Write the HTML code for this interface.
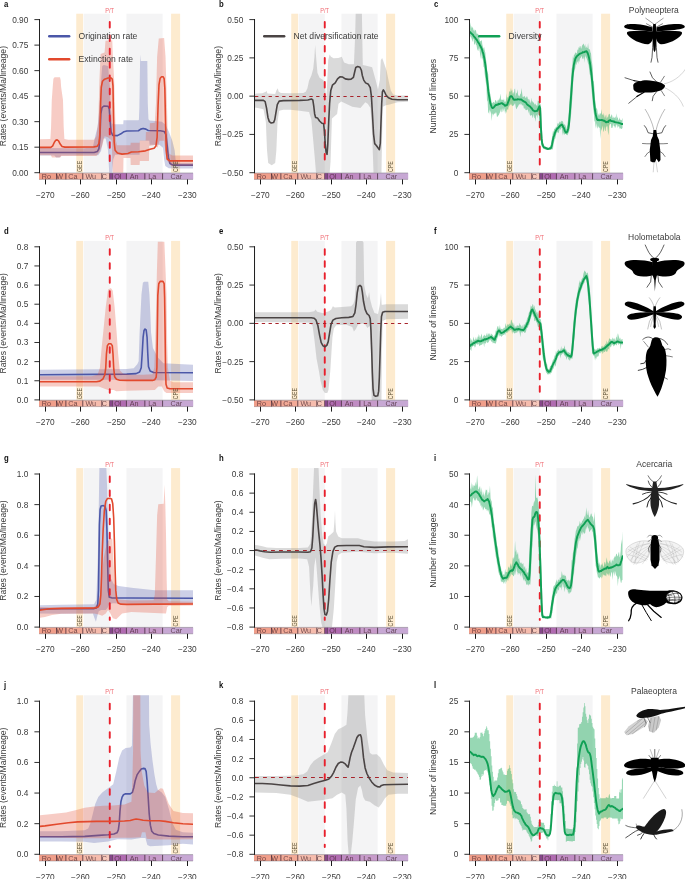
<!DOCTYPE html>
<html><head><meta charset="utf-8"><title>Figure</title>
<style>html,body{margin:0;padding:0;background:#fff;}body{width:685px;height:879px;overflow:hidden;font-family:"Liberation Sans",sans-serif;}svg{display:block;will-change:transform;}text{font-family:"Liberation Sans",sans-serif;}</style>
</head><body>
<svg width="685" height="879" viewBox="0 0 685 879" font-family="Liberation Sans, sans-serif">
<rect width="685" height="879" fill="#fff"/>
<g>
<rect x="76.26" y="13.7" width="6.84" height="159" fill="#fdebcf"/>
<rect x="83.71" y="13.7" width="26.06" height="159" fill="#f4f4f5"/>
<rect x="126.43" y="13.7" width="36.16" height="159" fill="#f4f4f5"/>
<rect x="171.09" y="13.7" width="9.04" height="159" fill="#fdebcf"/>
<clipPath id="clip_a"><rect x="40" y="13.7" width="153" height="159"/></clipPath>
<g clip-path="url(#clip_a)">
<path d="M38 148.04 L84.72 148.28 L92.89 147.11 L95.23 136.13 L97.56 126.79 L99.2 110.44 L100.6 87.08 L102.23 66.06 L103.87 64.89 L108.07 66.06 L109.94 87.08 L110.88 108.1 L112.28 123.75 L115.08 124.22 L123.26 124.22 L123.49 120.25 L138.44 120.25 L138.91 119.78 L139.37 108.1 L140.07 60.92 L140.31 54.38 L140.77 60.92 L147.31 60.92 L147.78 103.43 L148.48 119.31 L149.65 120.48 L154.79 120.95 L161.8 121.65 L165.3 124.45 L168.8 131.46 L172.31 140.8 L174.64 150.15 L175.81 161.82 L178.15 162.99 L198 162.99 L198 168.6 L175.81 168.6 L168.8 168.36 L165.3 166.03 L164.13 159.49 L162.96 147.81 L159.46 144.77 L149.65 144.77 L149.18 140.8 L139.84 140.8 L139.61 154.82 L115.08 154.82 L113.21 159.49 L112.28 173.5 L109.24 173.5 L108.07 150.15 L105.74 138.47 L103.4 138.47 L101.07 151.08 L98.26 155.28 L61.36 155.52 L59.49 157.39 L56.22 157.39 L54.35 155.52 L38 155.52Z" fill="#4b57a8" fill-opacity="0.28"/>
<path d="M38 152.48 L94.06 152.48 L97.33 151.55 L98.96 148.51 L99.9 137.3 L100.83 113.94 L102 107.64 L103.87 106 L108.07 106.23 L109.24 109.04 L110.18 122.12 L111.11 131.93 L112.74 135.43 L117.42 135.66 L120.92 133.8 L123.96 131.69 L126.76 130.99 L138.44 130.76 L140.77 129.12 L143.11 128.42 L145.91 129.12 L148.25 130.53 L160.39 130.76 L164.13 131.46 L166 134.73 L167.17 145.47 L168.34 157.15 L169.97 163.46 L173.01 165.09 L198 165.09" fill="none" stroke="#4b57a8" stroke-width="1.6" stroke-linejoin="round" stroke-linecap="round"/>
<path d="M38 139.17 L50.38 138.93 L51.08 126.79 L51.78 99.93 L52.95 84.04 L53.42 78.67 L54.58 77.27 L59.96 77.27 L60.66 80.07 L61.12 87.08 L62.99 99.93 L63.69 126.79 L64.39 138.93 L68.36 139.64 L94.06 139.87 L96.39 136.13 L98.26 122.12 L99.43 80.07 L100.6 53.91 L104.57 52.51 L105.5 40.83 L112.28 40.36 L112.74 52.51 L114.15 80.07 L115.31 119.78 L116.01 140.8 L116.95 145.24 L130.5 145.24 L130.73 142.67 L139.61 142.67 L139.84 140.57 L145.68 140.57 L145.91 131.93 L149.65 131.93 L149.88 123.28 L154.79 122.82 L155.96 103.43 L157.12 56.72 L158.76 38.5 L164.13 38.03 L165.53 56.72 L166.93 103.43 L167.87 140.8 L169.27 153.65 L172.31 155.52 L198 155.52 L198 166.03 L171.14 166.03 L168.8 162.99 L166.47 159.49 L165.3 150.15 L164.13 140.8 L159.46 140.8 L157.59 147.81 L155.96 144.77 L149.18 145.94 L148.95 161.12 L139.84 161.12 L139.61 165.09 L130.73 165.09 L130.5 158.09 L123.49 158.09 L123.26 173.5 L112.74 173.5 L112.28 159.49 L111.81 140.8 L108.07 137.3 L104.57 136.13 L102.23 145.47 L99.2 152.48 L96.39 155.99 L61.36 155.99 L60.19 157.62 L52.01 157.62 L50.85 155.28 L38 155.28Z" fill="#e2492d" fill-opacity="0.28"/>
</g>
<line x1="109.76" y1="22" x2="109.76" y2="165.5" stroke="#e8202c" stroke-width="1.9" stroke-linecap="round" stroke-dasharray="5.6 7.75"/>
<g clip-path="url(#clip_a)">
<path d="M38 147.34 L50.85 147.34 L52.72 145.94 L54.35 142.2 L55.75 140.34 L57.15 139.87 L58.55 140.8 L60.19 144.07 L62.06 146.41 L64.86 147.11 L94.06 146.88 L97.33 146.18 L98.96 143.61 L99.9 133.8 L100.6 103.43 L101.3 87.08 L102.47 81.24 L104.57 79.14 L108.07 77.97 L110.88 77.74 L112.28 79.14 L112.98 85.91 L113.45 115.11 L114.15 141.97 L115.08 150.15 L117.42 152.95 L122.09 154.12 L127.93 153.42 L131.43 152.01 L138.44 151.78 L145.45 150.85 L150.12 149.21 L154.09 148.28 L155.96 145.94 L157.12 137.3 L158.06 105.77 L158.99 84.74 L160.16 78.2 L161.56 76.8 L163.2 76.8 L164.13 78.67 L164.83 88.25 L165.53 122.12 L166.23 150.15 L167.17 159.02 L169.74 160.89 L198 160.89" fill="none" stroke="#e2492d" stroke-width="1.6" stroke-linejoin="round" stroke-linecap="round"/>
</g>
<g clip-path="url(#clip_a)">
</g>
<text transform="translate(109.56 12.8) scale(1 1.18)" font-size="5.7" fill="#f06a72" text-anchor="middle">P/T</text>
<text transform="translate(81.75 172) rotate(-90) scale(1 1.2)" font-size="5.3" fill="#5e5238" text-anchor="start">GEE</text>
<text transform="translate(178 172) rotate(-90) scale(1 1.2)" font-size="5.3" fill="#5e5238" text-anchor="start">CPE</text>
<rect x="39" y="173.1" width="17.79" height="6.3" fill="#f09e8a"/>
<rect x="56.59" y="173.1" width="9.49" height="6.3" fill="#f0a08c"/>
<rect x="65.88" y="173.1" width="17.11" height="6.3" fill="#f3aa97"/>
<rect x="82.79" y="173.1" width="19.24" height="6.3" fill="#f6bcad"/>
<rect x="101.82" y="173.1" width="8.14" height="6.3" fill="#f8c9bc"/>
<rect x="109.76" y="173.1" width="2.68" height="6.3" fill="#98529f"/>
<rect x="112.25" y="173.1" width="14.38" height="6.3" fill="#b06bb1"/>
<rect x="126.43" y="173.1" width="18.63" height="6.3" fill="#c08cc3"/>
<rect x="144.86" y="173.1" width="17.93" height="6.3" fill="#c79bca"/>
<rect x="162.59" y="173.1" width="30.61" height="6.3" fill="#c7a8d4"/>
<text x="46.29" y="178.9" font-size="7.2" fill="#3a1c24" fill-opacity="0.72" text-anchor="middle">Ro</text>
<line x1="56.59" y1="173.3" x2="56.59" y2="179.4" stroke="#3a2030" stroke-opacity="0.88" stroke-width="0.85"/>
<text x="59.73" y="178.9" font-size="7.2" fill="#3a1c24" fill-opacity="0.72" text-anchor="middle">W</text>
<line x1="65.88" y1="173.3" x2="65.88" y2="179.4" stroke="#3a2030" stroke-opacity="0.88" stroke-width="0.85"/>
<text x="72.83" y="178.9" font-size="7.2" fill="#3a1c24" fill-opacity="0.72" text-anchor="middle">Ca</text>
<line x1="82.79" y1="173.3" x2="82.79" y2="179.4" stroke="#3a2030" stroke-opacity="0.88" stroke-width="0.85"/>
<text x="90.81" y="178.9" font-size="7.2" fill="#3a1c24" fill-opacity="0.72" text-anchor="middle">Wu</text>
<line x1="101.82" y1="173.3" x2="101.82" y2="179.4" stroke="#3a2030" stroke-opacity="0.88" stroke-width="0.85"/>
<text x="104.29" y="178.9" font-size="7.2" fill="#3a1c24" fill-opacity="0.72" text-anchor="middle">C</text>
<line x1="109.76" y1="173.3" x2="109.76" y2="179.4" stroke="#3a2030" stroke-opacity="0.88" stroke-width="0.85"/>
<line x1="112.25" y1="173.3" x2="112.25" y2="179.4" stroke="#3a2030" stroke-opacity="0.88" stroke-width="0.85"/>
<text x="117.84" y="178.9" font-size="7.2" fill="#3a1c24" fill-opacity="0.72" text-anchor="middle">Ol</text>
<line x1="126.43" y1="173.3" x2="126.43" y2="179.4" stroke="#3a2030" stroke-opacity="0.88" stroke-width="0.85"/>
<text x="134.14" y="178.9" font-size="7.2" fill="#3a1c24" fill-opacity="0.72" text-anchor="middle">An</text>
<line x1="144.86" y1="173.3" x2="144.86" y2="179.4" stroke="#3a2030" stroke-opacity="0.88" stroke-width="0.85"/>
<text x="152.22" y="178.9" font-size="7.2" fill="#3a1c24" fill-opacity="0.72" text-anchor="middle">La</text>
<line x1="162.59" y1="173.3" x2="162.59" y2="179.4" stroke="#3a2030" stroke-opacity="0.88" stroke-width="0.85"/>
<text x="176.29" y="178.9" font-size="7.2" fill="#3a1c24" fill-opacity="0.72" text-anchor="middle">Car</text>
<line x1="40" y1="173" x2="193" y2="173" stroke="#5a5560" stroke-opacity="0.7" stroke-width="0.6"/>
<line x1="39" y1="179.4" x2="193" y2="179.4" stroke="#5a5560" stroke-opacity="0.6" stroke-width="0.6"/>
<line x1="39.5" y1="19.1" x2="39.5" y2="173.2" stroke="#222" stroke-width="1.05"/>
<line x1="34.4" y1="172.7" x2="40" y2="172.7" stroke="#1a1a1a" stroke-width="0.9"/>
<text x="28.3" y="175.7" font-size="8.3" fill="#3a3a3a" text-anchor="end">0.00</text>
<line x1="34.4" y1="147.18" x2="40" y2="147.18" stroke="#1a1a1a" stroke-width="0.9"/>
<text x="28.3" y="150.18" font-size="8.3" fill="#3a3a3a" text-anchor="end">0.15</text>
<line x1="34.4" y1="121.67" x2="40" y2="121.67" stroke="#1a1a1a" stroke-width="0.9"/>
<text x="28.3" y="124.67" font-size="8.3" fill="#3a3a3a" text-anchor="end">0.30</text>
<line x1="34.4" y1="96.15" x2="40" y2="96.15" stroke="#1a1a1a" stroke-width="0.9"/>
<text x="28.3" y="99.15" font-size="8.3" fill="#3a3a3a" text-anchor="end">0.45</text>
<line x1="34.4" y1="70.63" x2="40" y2="70.63" stroke="#1a1a1a" stroke-width="0.9"/>
<text x="28.3" y="73.63" font-size="8.3" fill="#3a3a3a" text-anchor="end">0.60</text>
<line x1="34.4" y1="45.12" x2="40" y2="45.12" stroke="#1a1a1a" stroke-width="0.9"/>
<text x="28.3" y="48.12" font-size="8.3" fill="#3a3a3a" text-anchor="end">0.75</text>
<line x1="34.4" y1="19.6" x2="40" y2="19.6" stroke="#1a1a1a" stroke-width="0.9"/>
<text x="28.3" y="22.6" font-size="8.3" fill="#3a3a3a" text-anchor="end">0.90</text>
<line x1="45.5" y1="179.4" x2="45.5" y2="184.4" stroke="#1a1a1a" stroke-width="1"/>
<text x="45.3" y="197.9" font-size="8.3" fill="#3a3a3a" text-anchor="middle">−270</text>
<line x1="80.5" y1="179.4" x2="80.5" y2="184.4" stroke="#1a1a1a" stroke-width="1"/>
<text x="80.3" y="197.9" font-size="8.3" fill="#3a3a3a" text-anchor="middle">−260</text>
<line x1="116.5" y1="179.4" x2="116.5" y2="184.4" stroke="#1a1a1a" stroke-width="1"/>
<text x="116.3" y="197.9" font-size="8.3" fill="#3a3a3a" text-anchor="middle">−250</text>
<line x1="151.5" y1="179.4" x2="151.5" y2="184.4" stroke="#1a1a1a" stroke-width="1"/>
<text x="151.3" y="197.9" font-size="8.3" fill="#3a3a3a" text-anchor="middle">−240</text>
<line x1="187.5" y1="179.4" x2="187.5" y2="184.4" stroke="#1a1a1a" stroke-width="1"/>
<text x="187.3" y="197.9" font-size="8.3" fill="#3a3a3a" text-anchor="middle">−230</text>
<text transform="translate(6.2 96.15) rotate(-90)" font-size="8.6" fill="#3a3a3a" text-anchor="middle">Rates (events/Ma/lineage)</text>
<text transform="translate(4 6.8) scale(0.88 1)" font-size="8.8" font-weight="bold" fill="#111">a</text>
<line x1="49.2" y1="36.3" x2="69.2" y2="36.3" stroke="#4b57a8" stroke-width="2.4" stroke-linecap="round"/>
<text x="78.6" y="39.4" font-size="8.6" fill="#3a3a3a">Origination rate</text>
<line x1="49.2" y1="59.2" x2="69.2" y2="59.2" stroke="#e2492d" stroke-width="2.4" stroke-linecap="round"/>
<text x="78.6" y="62.3" font-size="8.6" fill="#3a3a3a">Extinction rate</text>
</g>
<g>
<rect x="291.26" y="13.7" width="6.84" height="159" fill="#fdebcf"/>
<rect x="298.71" y="13.7" width="26.06" height="159" fill="#f4f4f5"/>
<rect x="341.43" y="13.7" width="36.16" height="159" fill="#f4f4f5"/>
<rect x="386.09" y="13.7" width="9.04" height="159" fill="#fdebcf"/>
<clipPath id="clip_b"><rect x="255" y="13.7" width="153" height="159"/></clipPath>
<g clip-path="url(#clip_b)">
<path d="M253 94.55 L256.5 93.62 L262.34 93.15 L265.85 91.75 L266.55 90.82 L267.48 93.62 L275.19 94.09 L276.36 90.58 L277.76 88.25 L278.69 91.75 L281.03 92.92 L291.54 93.15 L303.22 92.92 L305.79 91.75 L307.42 88.25 L309.06 80.54 L311.39 75.4 L313.26 68.39 L314.43 56.72 L315.13 45.04 L316.07 56.72 L317.47 73.07 L319.57 77.74 L323.07 80.07 L324.47 82.41 L325.41 89.42 L326.34 98.76 L327.28 80.07 L328.21 60.22 L329.61 54.38 L331.01 56.72 L333.58 58.35 L338.26 57.88 L341.76 56.72 L344.09 62.55 L348.77 64.19 L353.91 64.19 L355.07 38.03 L355.77 10 L361.85 10 L362.31 38.03 L362.78 64.89 L367.45 66.06 L372.12 67.23 L375.63 80.07 L377.96 89.42 L379.83 80.07 L380.77 60.22 L382.17 57.88 L383.8 62.55 L386.61 70.73 L388.47 80.07 L390.81 90.58 L393.15 94.55 L397.82 95.49 L413 95.49 L413 101.56 L397.58 102.26 L389.64 104.6 L385.91 105.3 L382.87 106.7 L382.17 132.86 L381.47 173.5 L373.53 173.5 L372.12 132.86 L370.49 108.1 L367.69 103.66 L365.35 102.26 L360.45 108.1 L352.27 106.7 L341.29 101.56 L338.49 103.66 L337.09 113.94 L331.95 118.38 L330.55 161.82 L329.61 173.5 L316.07 173.5 L314.9 159.49 L313.26 140.8 L311.39 119.78 L309.06 112.07 L299.72 110.67 L290.37 109.74 L283.36 109.74 L279.16 110.67 L277.53 122.12 L276.36 150.15 L275.19 162.99 L271.69 165.33 L268.18 162.99 L267.01 150.15 L265.85 122.12 L263.51 109.27 L257.67 108.1 L253 106.93Z" fill="#8c8c8c" fill-opacity="0.32"/>
</g>
<line x1="324.76" y1="22" x2="324.76" y2="165.5" stroke="#e8202c" stroke-width="1.9" stroke-linecap="round" stroke-dasharray="5.6 6.4"/>
<line x1="255" y1="96.5" x2="408" y2="96.5" stroke="#a8242b" stroke-width="1.05" stroke-dasharray="3.3 3.5"/>
<g clip-path="url(#clip_b)">
<path d="M253 100.39 L263.51 100.39 L265.15 101.56 L266.55 108.1 L267.95 117.45 L269.35 121.65 L271.22 123.05 L273.55 122.58 L274.72 119.78 L275.89 112.77 L277.29 104.6 L279.16 101.09 L283.36 100.63 L299.72 100.39 L307.89 99.93 L311.39 98.99 L312.8 99.93 L313.73 105.77 L314.66 113.94 L315.6 117.45 L317.47 117.91 L319.57 120.95 L321.91 123.28 L323.54 123.52 L324.47 131.46 L325.18 143.14 L326.11 152.48 L327.04 154.35 L327.74 145.47 L328.68 122.12 L329.61 103.43 L330.78 90.58 L332.42 85.21 L335.22 82.88 L337.55 78.91 L339.89 76.8 L342.69 77.04 L345.26 78.91 L348.3 79.37 L351.1 79.14 L353.44 77.27 L354.84 71.2 L355.77 67.46 L357.64 66.53 L359.98 67.23 L361.38 70.26 L362.31 75.4 L363.72 80.07 L365.58 82.88 L368.39 84.28 L370.26 87.55 L371.42 96.42 L372.36 112.77 L373.53 133.8 L374.69 143.61 L376.33 145.47 L377.96 147.81 L379.36 149.68 L380.3 143.14 L381 122.12 L381.7 103.43 L382.4 91.75 L383.34 89.88 L384.5 91.75 L386.14 95.26 L388.47 97.82 L391.98 99.23 L397.82 99.69 L413 99.69" fill="none" stroke="#4a4444" stroke-width="1.6" stroke-linejoin="round" stroke-linecap="round"/>
</g>
<text transform="translate(324.56 12.8) scale(1 1.18)" font-size="5.7" fill="#f06a72" text-anchor="middle">P/T</text>
<text transform="translate(296.75 172) rotate(-90) scale(1 1.2)" font-size="5.3" fill="#5e5238" text-anchor="start">GEE</text>
<text transform="translate(393 172) rotate(-90) scale(1 1.2)" font-size="5.3" fill="#5e5238" text-anchor="start">CPE</text>
<rect x="254" y="173.1" width="17.79" height="6.3" fill="#f09e8a"/>
<rect x="271.59" y="173.1" width="9.49" height="6.3" fill="#f0a08c"/>
<rect x="280.88" y="173.1" width="17.11" height="6.3" fill="#f3aa97"/>
<rect x="297.79" y="173.1" width="19.24" height="6.3" fill="#f6bcad"/>
<rect x="316.82" y="173.1" width="8.14" height="6.3" fill="#f8c9bc"/>
<rect x="324.76" y="173.1" width="2.68" height="6.3" fill="#98529f"/>
<rect x="327.25" y="173.1" width="14.38" height="6.3" fill="#b06bb1"/>
<rect x="341.43" y="173.1" width="18.63" height="6.3" fill="#c08cc3"/>
<rect x="359.86" y="173.1" width="17.93" height="6.3" fill="#c79bca"/>
<rect x="377.59" y="173.1" width="30.61" height="6.3" fill="#c7a8d4"/>
<text x="261.29" y="178.9" font-size="7.2" fill="#3a1c24" fill-opacity="0.72" text-anchor="middle">Ro</text>
<line x1="271.59" y1="173.3" x2="271.59" y2="179.4" stroke="#3a2030" stroke-opacity="0.88" stroke-width="0.85"/>
<text x="274.73" y="178.9" font-size="7.2" fill="#3a1c24" fill-opacity="0.72" text-anchor="middle">W</text>
<line x1="280.88" y1="173.3" x2="280.88" y2="179.4" stroke="#3a2030" stroke-opacity="0.88" stroke-width="0.85"/>
<text x="287.83" y="178.9" font-size="7.2" fill="#3a1c24" fill-opacity="0.72" text-anchor="middle">Ca</text>
<line x1="297.79" y1="173.3" x2="297.79" y2="179.4" stroke="#3a2030" stroke-opacity="0.88" stroke-width="0.85"/>
<text x="305.81" y="178.9" font-size="7.2" fill="#3a1c24" fill-opacity="0.72" text-anchor="middle">Wu</text>
<line x1="316.82" y1="173.3" x2="316.82" y2="179.4" stroke="#3a2030" stroke-opacity="0.88" stroke-width="0.85"/>
<text x="319.29" y="178.9" font-size="7.2" fill="#3a1c24" fill-opacity="0.72" text-anchor="middle">C</text>
<line x1="324.76" y1="173.3" x2="324.76" y2="179.4" stroke="#3a2030" stroke-opacity="0.88" stroke-width="0.85"/>
<line x1="327.25" y1="173.3" x2="327.25" y2="179.4" stroke="#3a2030" stroke-opacity="0.88" stroke-width="0.85"/>
<text x="332.84" y="178.9" font-size="7.2" fill="#3a1c24" fill-opacity="0.72" text-anchor="middle">Ol</text>
<line x1="341.43" y1="173.3" x2="341.43" y2="179.4" stroke="#3a2030" stroke-opacity="0.88" stroke-width="0.85"/>
<text x="349.14" y="178.9" font-size="7.2" fill="#3a1c24" fill-opacity="0.72" text-anchor="middle">An</text>
<line x1="359.86" y1="173.3" x2="359.86" y2="179.4" stroke="#3a2030" stroke-opacity="0.88" stroke-width="0.85"/>
<text x="367.22" y="178.9" font-size="7.2" fill="#3a1c24" fill-opacity="0.72" text-anchor="middle">La</text>
<line x1="377.59" y1="173.3" x2="377.59" y2="179.4" stroke="#3a2030" stroke-opacity="0.88" stroke-width="0.85"/>
<text x="391.29" y="178.9" font-size="7.2" fill="#3a1c24" fill-opacity="0.72" text-anchor="middle">Car</text>
<line x1="255" y1="173" x2="408" y2="173" stroke="#5a5560" stroke-opacity="0.7" stroke-width="0.6"/>
<line x1="254" y1="179.4" x2="408" y2="179.4" stroke="#5a5560" stroke-opacity="0.6" stroke-width="0.6"/>
<line x1="254.5" y1="19.1" x2="254.5" y2="173.2" stroke="#222" stroke-width="1.05"/>
<line x1="249.4" y1="172.7" x2="255" y2="172.7" stroke="#1a1a1a" stroke-width="0.9"/>
<text x="243.3" y="175.7" font-size="8.3" fill="#3a3a3a" text-anchor="end">−0.50</text>
<line x1="249.4" y1="134.42" x2="255" y2="134.42" stroke="#1a1a1a" stroke-width="0.9"/>
<text x="243.3" y="137.42" font-size="8.3" fill="#3a3a3a" text-anchor="end">−0.25</text>
<line x1="249.4" y1="96.15" x2="255" y2="96.15" stroke="#1a1a1a" stroke-width="0.9"/>
<text x="243.3" y="99.15" font-size="8.3" fill="#3a3a3a" text-anchor="end">0.00</text>
<line x1="249.4" y1="57.88" x2="255" y2="57.88" stroke="#1a1a1a" stroke-width="0.9"/>
<text x="243.3" y="60.88" font-size="8.3" fill="#3a3a3a" text-anchor="end">0.25</text>
<line x1="249.4" y1="19.6" x2="255" y2="19.6" stroke="#1a1a1a" stroke-width="0.9"/>
<text x="243.3" y="22.6" font-size="8.3" fill="#3a3a3a" text-anchor="end">0.50</text>
<line x1="260.5" y1="179.4" x2="260.5" y2="184.4" stroke="#1a1a1a" stroke-width="1"/>
<text x="260.3" y="197.9" font-size="8.3" fill="#3a3a3a" text-anchor="middle">−270</text>
<line x1="295.5" y1="179.4" x2="295.5" y2="184.4" stroke="#1a1a1a" stroke-width="1"/>
<text x="295.3" y="197.9" font-size="8.3" fill="#3a3a3a" text-anchor="middle">−260</text>
<line x1="331.5" y1="179.4" x2="331.5" y2="184.4" stroke="#1a1a1a" stroke-width="1"/>
<text x="331.3" y="197.9" font-size="8.3" fill="#3a3a3a" text-anchor="middle">−250</text>
<line x1="366.5" y1="179.4" x2="366.5" y2="184.4" stroke="#1a1a1a" stroke-width="1"/>
<text x="366.3" y="197.9" font-size="8.3" fill="#3a3a3a" text-anchor="middle">−240</text>
<line x1="402.5" y1="179.4" x2="402.5" y2="184.4" stroke="#1a1a1a" stroke-width="1"/>
<text x="402.3" y="197.9" font-size="8.3" fill="#3a3a3a" text-anchor="middle">−230</text>
<text transform="translate(221.2 96.15) rotate(-90)" font-size="8.6" fill="#3a3a3a" text-anchor="middle">Rates (events/Ma/lineage)</text>
<text transform="translate(219 6.8) scale(0.88 1)" font-size="8.8" font-weight="bold" fill="#111">b</text>
<line x1="264.2" y1="36.3" x2="284.2" y2="36.3" stroke="#4a4444" stroke-width="2.4" stroke-linecap="round"/>
<text x="293.6" y="39.4" font-size="8.6" fill="#3a3a3a">Net diversification rate</text>
</g>
<g>
<rect x="506.26" y="13.7" width="6.84" height="159" fill="#fdebcf"/>
<rect x="513.71" y="13.7" width="26.06" height="159" fill="#f4f4f5"/>
<rect x="556.43" y="13.7" width="36.16" height="159" fill="#f4f4f5"/>
<rect x="601.09" y="13.7" width="9.04" height="159" fill="#fdebcf"/>
<clipPath id="clip_c"><rect x="470" y="13.7" width="153" height="159"/></clipPath>
<g clip-path="url(#clip_c)">
<path d="M470.1 28.53 L470.69 22.29 L471.27 28.64 L471.85 25.92 L472.44 27.56 L473.02 28.05 L473.61 30.78 L474.19 29.2 L474.77 31.72 L475.36 29.84 L475.94 30.14 L476.53 33.51 L477.11 34 L477.69 33.45 L478.28 34.34 L478.86 36.02 L479.45 39.17 L480.03 41.19 L480.61 41.17 L481.2 40.57 L481.78 40.26 L482.36 44.69 L482.95 46.75 L483.53 49.1 L484.12 47.11 L484.7 50.37 L485.28 52.39 L485.87 59.08 L486.45 62.31 L487.04 69.23 L487.62 72.05 L488.2 74.19 L488.79 82.65 L489.37 88.25 L489.96 92.88 L490.54 94.88 L491.12 99.41 L491.71 102.53 L492.29 103.47 L492.88 102.58 L493.46 101.79 L494.04 102.39 L494.63 102.98 L495.21 100.28 L495.8 100.06 L496.38 101.28 L496.96 102.7 L497.55 100.7 L498.13 99.17 L498.72 100.77 L499.3 99.23 L499.88 97.67 L500.47 93.48 L501.05 100.43 L501.64 99.28 L502.22 100.05 L502.8 99.52 L503.39 100.62 L503.97 98.16 L504.55 102.31 L505.14 100.99 L505.72 102.62 L506.31 93.26 L506.89 99.57 L507.47 96.91 L508.06 97.5 L508.64 95.95 L509.23 90.99 L509.81 91.78 L510.39 91.65 L510.98 87.69 L511.56 91.59 L512.15 89.45 L512.73 94.1 L513.31 91.75 L513.9 94.34 L514.48 89.29 L515.07 88.48 L515.65 96.86 L516.23 92.59 L516.82 93.39 L517.4 89.31 L517.99 94.34 L518.57 95.9 L519.15 95.27 L519.74 96.8 L520.32 93.47 L520.91 93.92 L521.49 88.11 L522.07 92.8 L522.66 96.88 L523.24 96.55 L523.82 96.98 L524.41 95.81 L524.99 96.79 L525.58 98.07 L526.16 97.69 L526.74 96.32 L527.33 96.67 L527.91 99.32 L528.5 98.77 L529.08 101.96 L529.66 98.68 L530.25 101.91 L530.83 103.39 L531.42 97.52 L532 102.85 L532.58 100.76 L533.17 102.57 L533.75 102.43 L534.34 103.89 L534.92 104.76 L535.5 103.26 L536.09 105.68 L536.67 104.96 L537.26 105.96 L537.84 100.53 L538.42 101.24 L539.01 100.96 L539.59 101.99 L540.18 103.83 L540.76 104.88 L541.34 114.35 L541.93 127.79 L542.51 137.65 L543.09 142.67 L543.68 144.06 L544.26 145.75 L544.85 146.82 L545.43 146.47 L546.01 146.99 L546.6 147.12 L547.18 146.75 L547.77 147.46 L548.35 147.55 L548.93 147.37 L549.52 146.82 L550.1 147.4 L550.69 145.08 L551.27 142.47 L551.85 138.61 L552.44 135.26 L553.02 130.54 L553.61 132.51 L554.19 128.77 L554.77 128.73 L555.36 128.24 L555.94 126.78 L556.53 127.15 L557.11 125.16 L557.69 123 L558.28 123.65 L558.86 123.44 L559.45 121.25 L560.03 122.98 L560.61 121.74 L561.2 121.41 L561.78 120.78 L562.36 121.15 L562.95 121.55 L563.53 124.07 L564.12 125.26 L564.7 123.69 L565.28 125.26 L565.87 126.7 L566.45 129.65 L567.04 126.17 L567.62 122.8 L568.2 119.11 L568.79 112.41 L569.37 103.1 L569.96 94.54 L570.54 86.13 L571.12 77.74 L571.71 68.87 L572.29 67.07 L572.88 56.29 L573.46 58.82 L574.04 54.22 L574.63 55.11 L575.21 51.98 L575.8 53.24 L576.38 53.48 L576.96 52.65 L577.55 49.17 L578.13 50.18 L578.72 46.96 L579.3 48.26 L579.88 45.9 L580.47 46.31 L581.05 49.09 L581.64 47.53 L582.22 44.23 L582.8 45.87 L583.39 43.47 L583.97 44.19 L584.55 46.85 L585.14 44.04 L585.72 48.25 L586.31 46.36 L586.89 47.96 L587.47 48 L588.06 42.94 L588.64 48.74 L589.23 49.84 L589.81 48.72 L590.39 52.3 L590.98 53.13 L591.56 60.37 L592.15 63.57 L592.73 69 L593.31 80.56 L593.9 81.51 L594.48 90.61 L595.07 99.69 L595.65 102.62 L596.23 108.92 L596.82 107.85 L597.4 110.61 L597.99 116.09 L598.57 114.26 L599.15 113.11 L599.74 115.78 L600.32 112.83 L600.91 114.27 L601.49 109.06 L602.07 115.37 L602.66 114.03 L603.24 115.69 L603.82 112.68 L604.41 116.65 L604.99 118.02 L605.58 115.85 L606.16 114.55 L606.74 119.06 L607.33 116.16 L607.91 118 L608.5 114.69 L609.08 114 L609.66 113.68 L610.25 116.42 L610.83 117.05 L611.42 114.51 L612 114.76 L612.58 117.7 L613.17 118.17 L613.75 116.44 L614.34 118.03 L614.92 117.6 L615.5 116.28 L616.09 119.6 L616.67 113.31 L617.26 117.48 L617.84 117.75 L618.42 120.46 L619.01 119.68 L619.59 117.34 L620.18 120.33 L620.76 119.59 L621.34 120.62 L621.93 119.73 L622.51 117.79 L622.51 127.69 L621.93 128.65 L621.34 128.95 L620.76 127.98 L620.18 128.79 L619.59 128.54 L619.01 126.11 L618.42 127.07 L617.84 125.01 L617.26 128.36 L616.67 124.82 L616.09 124.44 L615.5 127.42 L614.92 127.67 L614.34 125.95 L613.75 125.93 L613.17 123.53 L612.58 127.41 L612 128.04 L611.42 128.05 L610.83 124 L610.25 123.92 L609.66 124.21 L609.08 125.74 L608.5 135.15 L607.91 132.1 L607.33 125.63 L606.74 127.41 L606.16 125.31 L605.58 131.18 L604.99 130.55 L604.41 125.88 L603.82 132.1 L603.24 130.88 L602.66 125.52 L602.07 127.97 L601.49 131.09 L600.91 127.96 L600.32 139.12 L599.74 128.05 L599.15 127.45 L598.57 127.13 L597.99 125.27 L597.4 128.68 L596.82 127.27 L596.23 123.12 L595.65 128.77 L595.07 120.4 L594.48 121.91 L593.9 113.87 L593.31 109.6 L592.73 103.16 L592.15 96.09 L591.56 90.09 L590.98 82.18 L590.39 75.28 L589.81 74.61 L589.23 70.14 L588.64 64.84 L588.06 63.83 L587.47 60.67 L586.89 59.37 L586.31 57.66 L585.72 57.07 L585.14 55.12 L584.55 62.7 L583.97 56.14 L583.39 58.67 L582.8 59.04 L582.22 58.37 L581.64 55.75 L581.05 57.33 L580.47 58.02 L579.88 58.7 L579.3 61.9 L578.72 60.14 L578.13 63.93 L577.55 61.52 L576.96 61.72 L576.38 65.06 L575.8 63.9 L575.21 68.33 L574.63 70.01 L574.04 72.68 L573.46 78.69 L572.88 86.68 L572.29 98.81 L571.71 105.79 L571.12 114.29 L570.54 118.07 L569.96 124.67 L569.37 130.15 L568.79 132.36 L568.2 133.43 L567.62 135.4 L567.04 134.43 L566.45 134.99 L565.87 133.97 L565.28 133.7 L564.7 134.58 L564.12 134.45 L563.53 132.33 L562.95 135.47 L562.36 132.39 L561.78 127.87 L561.2 127.73 L560.61 130.16 L560.03 128.34 L559.45 129.86 L558.86 132.24 L558.28 133.25 L557.69 132.38 L557.11 132.1 L556.53 133.02 L555.94 135.45 L555.36 138.41 L554.77 138.9 L554.19 141.39 L553.61 143.27 L553.02 148.37 L552.44 149.39 L551.85 149.78 L551.27 148.83 L550.69 149.89 L550.1 150.08 L549.52 149.29 L548.93 149.59 L548.35 149.71 L547.77 149.63 L547.18 149.82 L546.6 149.34 L546.01 149.58 L545.43 149.86 L544.85 149.45 L544.26 148.65 L543.68 148.96 L543.09 148.12 L542.51 147.37 L541.93 146.86 L541.34 145.14 L540.76 140 L540.18 134.4 L539.59 121.61 L539.01 111.91 L538.42 115.39 L537.84 113.9 L537.26 118.42 L536.67 114.71 L536.09 115.63 L535.5 121.68 L534.92 118.18 L534.34 117.78 L533.75 113.81 L533.17 116.79 L532.58 118.17 L532 114.91 L531.42 115.25 L530.83 115.42 L530.25 115.63 L529.66 114.25 L529.08 109.95 L528.5 113.61 L527.91 109.2 L527.33 109.87 L526.74 110.18 L526.16 109.83 L525.58 110.24 L524.99 107.44 L524.41 108.99 L523.82 108.33 L523.24 105.19 L522.66 104.92 L522.07 105.98 L521.49 103.55 L520.91 105.28 L520.32 102.91 L519.74 104.74 L519.15 104.07 L518.57 105.22 L517.99 106.43 L517.4 107.14 L516.82 108.5 L516.23 109.17 L515.65 106.78 L515.07 103 L514.48 104 L513.9 105.16 L513.31 105.5 L512.73 106.21 L512.15 105.62 L511.56 105.15 L510.98 103.13 L510.39 104.88 L509.81 104.81 L509.23 106.37 L508.64 106.6 L508.06 109.91 L507.47 109.24 L506.89 109.42 L506.31 112.91 L505.72 110.83 L505.14 114.07 L504.55 109.53 L503.97 107.77 L503.39 111.77 L502.8 108.06 L502.22 111.88 L501.64 112.3 L501.05 108.41 L500.47 110.96 L499.88 112.47 L499.3 113.79 L498.72 115.26 L498.13 115.54 L497.55 116.81 L496.96 117.03 L496.38 112.69 L495.8 112.21 L495.21 113.63 L494.63 113.78 L494.04 113.21 L493.46 115.77 L492.88 113.29 L492.29 114.84 L491.71 121.05 L491.12 113.4 L490.54 110.46 L489.96 114.54 L489.37 109.34 L488.79 112.43 L488.2 113.53 L487.62 100.3 L487.04 101.75 L486.45 85.66 L485.87 82.41 L485.28 78.36 L484.7 73.97 L484.12 67.57 L483.53 66.75 L482.95 60.19 L482.36 58.02 L481.78 58.8 L481.2 52.36 L480.61 58.9 L480.03 53.4 L479.45 48.5 L478.86 48.22 L478.28 51.06 L477.69 50.19 L477.11 48.87 L476.53 45.33 L475.94 44.71 L475.36 42.09 L474.77 44.83 L474.19 44.36 L473.61 39.24 L473.02 38.68 L472.44 42.08 L471.85 39.38 L471.27 37.46 L470.69 35.93 L470.1 37.87Z" fill="#2fb26a" fill-opacity="0.5"/>
</g>
<line x1="539.76" y1="22" x2="539.76" y2="165.5" stroke="#e8202c" stroke-width="1.9" stroke-linecap="round" stroke-dasharray="5.6 6.85"/>
<g clip-path="url(#clip_c)">
<path d="M470.1 31.94 L470.8 32.92 L471.5 33.46 L472.2 34.14 L472.91 34.75 L473.61 36.03 L474.31 36.92 L475.01 37.57 L475.71 38.62 L476.41 39.47 L477.11 40.34 L477.81 41.67 L478.51 42.88 L479.21 43.68 L479.91 45.46 L480.61 46.29 L481.31 47.84 L482.01 49.4 L482.72 52.03 L483.42 54.17 L484.12 57.23 L484.82 61.24 L485.52 65.94 L486.22 71.77 L486.92 78.2 L487.62 84.22 L488.32 91.16 L489.02 95.62 L489.72 99.67 L490.42 103.39 L491.12 105.49 L491.82 107.49 L492.53 107.99 L493.23 107.83 L493.93 107.23 L494.63 106.46 L495.33 105.36 L496.03 104.77 L496.73 105.11 L497.43 104.35 L498.13 104.48 L498.83 103.77 L499.53 104.06 L500.23 103.73 L500.93 103.45 L501.64 103.28 L502.34 103.26 L503.04 104.07 L503.74 104.26 L504.44 105.05 L505.14 105.84 L505.84 105.19 L506.54 105.21 L507.24 104.65 L507.94 102.66 L508.64 100.99 L509.34 98.96 L510.04 96.81 L510.74 96.21 L511.45 96.11 L512.15 96.93 L512.85 98.14 L513.55 99.44 L514.25 99.78 L514.95 99.55 L515.65 99.69 L516.35 99.6 L517.05 99.62 L517.75 99.1 L518.45 99.34 L519.15 99.41 L519.85 99.57 L520.55 99.35 L521.26 99.45 L521.96 100 L522.66 100.85 L523.36 100.84 L524.06 101.54 L524.76 101.88 L525.46 102.29 L526.16 102.87 L526.86 104.13 L527.56 104.81 L528.26 105.21 L528.96 105.79 L529.66 106.13 L530.36 106.84 L531.07 107.82 L531.77 108.32 L532.47 109.64 L533.17 110.49 L533.87 110.69 L534.57 111.19 L535.27 111.18 L535.97 111.16 L536.67 110.72 L537.37 110.84 L538.07 109.25 L538.77 107.78 L539.47 106.23 L540.18 108.31 L540.88 126.78 L541.58 138.43 L542.28 143.97 L542.98 145.64 L543.68 147.19 L544.38 147.6 L545.08 147.73 L545.78 147.98 L546.48 148.41 L547.18 148.88 L547.88 149 L548.58 148.87 L549.28 148.73 L549.99 148.21 L550.69 148.39 L551.39 146.95 L552.09 144.48 L552.79 140.45 L553.49 137.08 L554.19 135.36 L554.89 133.14 L555.59 131.39 L556.29 130.13 L556.99 128.95 L557.69 128.25 L558.39 127.75 L559.09 126.64 L559.8 126.11 L560.5 125.22 L561.2 125.12 L561.9 124.55 L562.6 125.56 L563.3 127.28 L564 128.18 L564.7 130.36 L565.4 131.76 L566.1 132.5 L566.8 132.3 L567.5 130.89 L568.2 128.76 L568.91 124.8 L569.61 116.35 L570.31 106.89 L571.01 97.05 L571.71 87.24 L572.41 77.38 L573.11 70.69 L573.81 64.7 L574.51 61.97 L575.21 59.23 L575.91 57.6 L576.61 56.69 L577.31 55.74 L578.01 55.31 L578.72 54.54 L579.42 53.99 L580.12 53.58 L580.82 53.31 L581.52 53.14 L582.22 52.74 L582.92 52.08 L583.62 52.29 L584.32 52.09 L585.02 51.66 L585.72 51.33 L586.42 51.21 L587.12 52.02 L587.82 53.47 L588.53 55.74 L589.23 58.81 L589.93 62.71 L590.63 67.63 L591.33 73.21 L592.03 79.93 L592.73 86.74 L593.43 95.17 L594.13 103.29 L594.83 108.99 L595.53 113.79 L596.23 116.63 L596.93 119.35 L597.64 120 L598.34 119.71 L599.04 120.28 L599.74 120.07 L600.44 120.1 L601.14 120.13 L601.84 119.87 L602.54 120.4 L603.24 120.5 L603.94 120.76 L604.64 120.81 L605.34 121.79 L606.04 122.33 L606.74 121.89 L607.45 121.69 L608.15 122.02 L608.85 120.83 L609.55 120.28 L610.25 120.02 L610.95 120.86 L611.65 121.1 L612.35 121.14 L613.05 121.51 L613.75 121.29 L614.45 121.99 L615.15 122.07 L615.85 122.32 L616.55 122.41 L617.26 122.6 L617.96 122.66 L618.66 122.71 L619.36 123.17 L620.06 123.19 L620.76 123.7 L621.46 123.95 L622.16 124.04 L622.63 123.99" fill="none" stroke="#10a055" stroke-width="1.9" stroke-linejoin="round" stroke-linecap="round"/>
</g>
<text transform="translate(539.56 12.8) scale(1 1.18)" font-size="5.7" fill="#f06a72" text-anchor="middle">P/T</text>
<text transform="translate(511.75 172) rotate(-90) scale(1 1.2)" font-size="5.3" fill="#5e5238" text-anchor="start">GEE</text>
<text transform="translate(608 172) rotate(-90) scale(1 1.2)" font-size="5.3" fill="#5e5238" text-anchor="start">CPE</text>
<rect x="469" y="173.1" width="17.79" height="6.3" fill="#f09e8a"/>
<rect x="486.59" y="173.1" width="9.49" height="6.3" fill="#f0a08c"/>
<rect x="495.88" y="173.1" width="17.11" height="6.3" fill="#f3aa97"/>
<rect x="512.79" y="173.1" width="19.24" height="6.3" fill="#f6bcad"/>
<rect x="531.82" y="173.1" width="8.14" height="6.3" fill="#f8c9bc"/>
<rect x="539.76" y="173.1" width="2.68" height="6.3" fill="#98529f"/>
<rect x="542.25" y="173.1" width="14.38" height="6.3" fill="#b06bb1"/>
<rect x="556.43" y="173.1" width="18.63" height="6.3" fill="#c08cc3"/>
<rect x="574.86" y="173.1" width="17.93" height="6.3" fill="#c79bca"/>
<rect x="592.59" y="173.1" width="30.61" height="6.3" fill="#c7a8d4"/>
<text x="476.29" y="178.9" font-size="7.2" fill="#3a1c24" fill-opacity="0.72" text-anchor="middle">Ro</text>
<line x1="486.59" y1="173.3" x2="486.59" y2="179.4" stroke="#3a2030" stroke-opacity="0.88" stroke-width="0.85"/>
<text x="489.73" y="178.9" font-size="7.2" fill="#3a1c24" fill-opacity="0.72" text-anchor="middle">W</text>
<line x1="495.88" y1="173.3" x2="495.88" y2="179.4" stroke="#3a2030" stroke-opacity="0.88" stroke-width="0.85"/>
<text x="502.83" y="178.9" font-size="7.2" fill="#3a1c24" fill-opacity="0.72" text-anchor="middle">Ca</text>
<line x1="512.79" y1="173.3" x2="512.79" y2="179.4" stroke="#3a2030" stroke-opacity="0.88" stroke-width="0.85"/>
<text x="520.81" y="178.9" font-size="7.2" fill="#3a1c24" fill-opacity="0.72" text-anchor="middle">Wu</text>
<line x1="531.82" y1="173.3" x2="531.82" y2="179.4" stroke="#3a2030" stroke-opacity="0.88" stroke-width="0.85"/>
<text x="534.29" y="178.9" font-size="7.2" fill="#3a1c24" fill-opacity="0.72" text-anchor="middle">C</text>
<line x1="539.76" y1="173.3" x2="539.76" y2="179.4" stroke="#3a2030" stroke-opacity="0.88" stroke-width="0.85"/>
<line x1="542.25" y1="173.3" x2="542.25" y2="179.4" stroke="#3a2030" stroke-opacity="0.88" stroke-width="0.85"/>
<text x="547.84" y="178.9" font-size="7.2" fill="#3a1c24" fill-opacity="0.72" text-anchor="middle">Ol</text>
<line x1="556.43" y1="173.3" x2="556.43" y2="179.4" stroke="#3a2030" stroke-opacity="0.88" stroke-width="0.85"/>
<text x="564.14" y="178.9" font-size="7.2" fill="#3a1c24" fill-opacity="0.72" text-anchor="middle">An</text>
<line x1="574.86" y1="173.3" x2="574.86" y2="179.4" stroke="#3a2030" stroke-opacity="0.88" stroke-width="0.85"/>
<text x="582.22" y="178.9" font-size="7.2" fill="#3a1c24" fill-opacity="0.72" text-anchor="middle">La</text>
<line x1="592.59" y1="173.3" x2="592.59" y2="179.4" stroke="#3a2030" stroke-opacity="0.88" stroke-width="0.85"/>
<text x="606.29" y="178.9" font-size="7.2" fill="#3a1c24" fill-opacity="0.72" text-anchor="middle">Car</text>
<line x1="470" y1="173" x2="623" y2="173" stroke="#5a5560" stroke-opacity="0.7" stroke-width="0.6"/>
<line x1="469" y1="179.4" x2="623" y2="179.4" stroke="#5a5560" stroke-opacity="0.6" stroke-width="0.6"/>
<line x1="469.5" y1="19.1" x2="469.5" y2="173.2" stroke="#222" stroke-width="1.05"/>
<line x1="464.4" y1="172.7" x2="470" y2="172.7" stroke="#1a1a1a" stroke-width="0.9"/>
<text x="458.3" y="175.7" font-size="8.3" fill="#3a3a3a" text-anchor="end">0</text>
<line x1="464.4" y1="134.42" x2="470" y2="134.42" stroke="#1a1a1a" stroke-width="0.9"/>
<text x="458.3" y="137.42" font-size="8.3" fill="#3a3a3a" text-anchor="end">25</text>
<line x1="464.4" y1="96.15" x2="470" y2="96.15" stroke="#1a1a1a" stroke-width="0.9"/>
<text x="458.3" y="99.15" font-size="8.3" fill="#3a3a3a" text-anchor="end">50</text>
<line x1="464.4" y1="57.88" x2="470" y2="57.88" stroke="#1a1a1a" stroke-width="0.9"/>
<text x="458.3" y="60.88" font-size="8.3" fill="#3a3a3a" text-anchor="end">75</text>
<line x1="464.4" y1="19.6" x2="470" y2="19.6" stroke="#1a1a1a" stroke-width="0.9"/>
<text x="458.3" y="22.6" font-size="8.3" fill="#3a3a3a" text-anchor="end">100</text>
<line x1="475.5" y1="179.4" x2="475.5" y2="184.4" stroke="#1a1a1a" stroke-width="1"/>
<text x="475.3" y="197.9" font-size="8.3" fill="#3a3a3a" text-anchor="middle">−270</text>
<line x1="510.5" y1="179.4" x2="510.5" y2="184.4" stroke="#1a1a1a" stroke-width="1"/>
<text x="510.3" y="197.9" font-size="8.3" fill="#3a3a3a" text-anchor="middle">−260</text>
<line x1="546.5" y1="179.4" x2="546.5" y2="184.4" stroke="#1a1a1a" stroke-width="1"/>
<text x="546.3" y="197.9" font-size="8.3" fill="#3a3a3a" text-anchor="middle">−250</text>
<line x1="581.5" y1="179.4" x2="581.5" y2="184.4" stroke="#1a1a1a" stroke-width="1"/>
<text x="581.3" y="197.9" font-size="8.3" fill="#3a3a3a" text-anchor="middle">−240</text>
<line x1="617.5" y1="179.4" x2="617.5" y2="184.4" stroke="#1a1a1a" stroke-width="1"/>
<text x="617.3" y="197.9" font-size="8.3" fill="#3a3a3a" text-anchor="middle">−230</text>
<text transform="translate(436.3 96.15) rotate(-90)" font-size="8.6" fill="#3a3a3a" text-anchor="middle">Number of lineages</text>
<text transform="translate(434 6.8) scale(0.88 1)" font-size="8.8" font-weight="bold" fill="#111">c</text>
<line x1="479.2" y1="36.3" x2="499.2" y2="36.3" stroke="#10a055" stroke-width="2.4" stroke-linecap="round"/>
<text x="508.6" y="39.4" font-size="8.6" fill="#3a3a3a">Diversity</text>
</g>
<g>
<rect x="76.26" y="240.9" width="6.84" height="159" fill="#fdebcf"/>
<rect x="83.71" y="240.9" width="26.06" height="159" fill="#f4f4f5"/>
<rect x="126.43" y="240.9" width="36.16" height="159" fill="#f4f4f5"/>
<rect x="171.09" y="240.9" width="9.04" height="159" fill="#fdebcf"/>
<clipPath id="clip_d"><rect x="40" y="240.9" width="153" height="159"/></clipPath>
<g clip-path="url(#clip_d)">
<path d="M38 369.67 L126.76 368.97 L133.77 368.27 L137.27 364.3 L138.67 361.26 L139.61 332.53 L141.47 294.46 L142.88 282.78 L144.04 281.85 L148.25 281.85 L149.42 294.46 L150.35 314.08 L151.05 332.53 L152.92 347.95 L157.82 357.53 L163.43 363.13 L198 365 L198 381.12 L131.43 379.72 L38 379.72Z" fill="#4b57a8" fill-opacity="0.28"/>
<path d="M38 374.69 L126.76 374.11 L136.1 373.64 L139.61 372.01 L141.24 367.8 L142.18 353.79 L143.11 337.44 L144.04 330.43 L144.98 329.03 L146.15 329.96 L147.08 337.44 L147.78 353.79 L148.48 366.64 L150.12 371.07 L153.62 372.47 L198 372.71" fill="none" stroke="#4b57a8" stroke-width="1.6" stroke-linejoin="round" stroke-linecap="round"/>
<path d="M38 376.21 L91.72 376.21 L97.56 374.81 L99.9 367.8 L101.53 349.12 L103.4 330.43 L105.74 307.07 L108.07 289.55 L110.88 287.92 L112.74 290.72 L114.61 307.07 L116.48 330.43 L118.12 353.79 L119.75 370.14 L123.26 373.64 L131.43 374.81 L143.11 374.81 L152.45 374.34 L154.32 367.8 L155.26 342.11 L155.96 313.38 L156.89 272.04 L157.82 241.67 L164.36 241.67 L165.3 265.03 L166.47 294.23 L167.17 342.11 L167.87 367.8 L169.97 380.65 L173.47 382.28 L198 382.28 L198 393.03 L166.47 393.03 L164.13 391.16 L161.8 386.49 L158.29 386.49 L154.79 389.99 L126.76 390.69 L116.25 391.16 L113.91 389.99 L108.07 389.99 L104.57 388.82 L98.73 386.49 L38 386.49Z" fill="#e2492d" fill-opacity="0.28"/>
</g>
<line x1="109.76" y1="249.2" x2="109.76" y2="392.7" stroke="#e8202c" stroke-width="1.9" stroke-linecap="round" stroke-dasharray="5.6 8.4"/>
<g clip-path="url(#clip_d)">
<path d="M38 381.7 L96.39 381.7 L99.9 381.12 L102.93 379.01 L104.8 374.81 L105.74 367.8 L106.44 353.79 L107.37 345.61 L108.77 343.74 L110.88 343.74 L112.28 345.61 L112.98 353.79 L113.68 367.8 L114.61 376.68 L116.48 379.25 L119.75 380.18 L126.76 380.42 L152.45 380.42 L154.79 379.72 L156.19 377.15 L156.89 367.8 L157.36 330.43 L157.82 295.39 L158.76 283.72 L160.16 281.38 L162.96 281.38 L164.13 283.72 L164.6 297.73 L165.07 330.43 L165.53 367.8 L166 384.15 L167.17 387.89 L169.97 388.82 L198 388.82" fill="none" stroke="#e2492d" stroke-width="1.6" stroke-linejoin="round" stroke-linecap="round"/>
</g>
<g clip-path="url(#clip_d)">
</g>
<text transform="translate(109.56 240) scale(1 1.18)" font-size="5.7" fill="#f06a72" text-anchor="middle">P/T</text>
<text transform="translate(81.75 399.2) rotate(-90) scale(1 1.2)" font-size="5.3" fill="#5e5238" text-anchor="start">GEE</text>
<text transform="translate(178 399.2) rotate(-90) scale(1 1.2)" font-size="5.3" fill="#5e5238" text-anchor="start">CPE</text>
<rect x="39" y="400.3" width="17.79" height="6.3" fill="#f09e8a"/>
<rect x="56.59" y="400.3" width="9.49" height="6.3" fill="#f0a08c"/>
<rect x="65.88" y="400.3" width="17.11" height="6.3" fill="#f3aa97"/>
<rect x="82.79" y="400.3" width="19.24" height="6.3" fill="#f6bcad"/>
<rect x="101.82" y="400.3" width="8.14" height="6.3" fill="#f8c9bc"/>
<rect x="109.76" y="400.3" width="2.68" height="6.3" fill="#98529f"/>
<rect x="112.25" y="400.3" width="14.38" height="6.3" fill="#b06bb1"/>
<rect x="126.43" y="400.3" width="18.63" height="6.3" fill="#c08cc3"/>
<rect x="144.86" y="400.3" width="17.93" height="6.3" fill="#c79bca"/>
<rect x="162.59" y="400.3" width="30.61" height="6.3" fill="#c7a8d4"/>
<text x="46.29" y="406.1" font-size="7.2" fill="#3a1c24" fill-opacity="0.72" text-anchor="middle">Ro</text>
<line x1="56.59" y1="400.5" x2="56.59" y2="406.6" stroke="#3a2030" stroke-opacity="0.88" stroke-width="0.85"/>
<text x="59.73" y="406.1" font-size="7.2" fill="#3a1c24" fill-opacity="0.72" text-anchor="middle">W</text>
<line x1="65.88" y1="400.5" x2="65.88" y2="406.6" stroke="#3a2030" stroke-opacity="0.88" stroke-width="0.85"/>
<text x="72.83" y="406.1" font-size="7.2" fill="#3a1c24" fill-opacity="0.72" text-anchor="middle">Ca</text>
<line x1="82.79" y1="400.5" x2="82.79" y2="406.6" stroke="#3a2030" stroke-opacity="0.88" stroke-width="0.85"/>
<text x="90.81" y="406.1" font-size="7.2" fill="#3a1c24" fill-opacity="0.72" text-anchor="middle">Wu</text>
<line x1="101.82" y1="400.5" x2="101.82" y2="406.6" stroke="#3a2030" stroke-opacity="0.88" stroke-width="0.85"/>
<text x="104.29" y="406.1" font-size="7.2" fill="#3a1c24" fill-opacity="0.72" text-anchor="middle">C</text>
<line x1="109.76" y1="400.5" x2="109.76" y2="406.6" stroke="#3a2030" stroke-opacity="0.88" stroke-width="0.85"/>
<line x1="112.25" y1="400.5" x2="112.25" y2="406.6" stroke="#3a2030" stroke-opacity="0.88" stroke-width="0.85"/>
<text x="117.84" y="406.1" font-size="7.2" fill="#3a1c24" fill-opacity="0.72" text-anchor="middle">Ol</text>
<line x1="126.43" y1="400.5" x2="126.43" y2="406.6" stroke="#3a2030" stroke-opacity="0.88" stroke-width="0.85"/>
<text x="134.14" y="406.1" font-size="7.2" fill="#3a1c24" fill-opacity="0.72" text-anchor="middle">An</text>
<line x1="144.86" y1="400.5" x2="144.86" y2="406.6" stroke="#3a2030" stroke-opacity="0.88" stroke-width="0.85"/>
<text x="152.22" y="406.1" font-size="7.2" fill="#3a1c24" fill-opacity="0.72" text-anchor="middle">La</text>
<line x1="162.59" y1="400.5" x2="162.59" y2="406.6" stroke="#3a2030" stroke-opacity="0.88" stroke-width="0.85"/>
<text x="176.29" y="406.1" font-size="7.2" fill="#3a1c24" fill-opacity="0.72" text-anchor="middle">Car</text>
<line x1="40" y1="400.2" x2="193" y2="400.2" stroke="#5a5560" stroke-opacity="0.7" stroke-width="0.6"/>
<line x1="39" y1="406.6" x2="193" y2="406.6" stroke="#5a5560" stroke-opacity="0.6" stroke-width="0.6"/>
<line x1="39.5" y1="246.3" x2="39.5" y2="400.4" stroke="#222" stroke-width="1.05"/>
<line x1="34.4" y1="399.9" x2="40" y2="399.9" stroke="#1a1a1a" stroke-width="0.9"/>
<text x="28.3" y="402.9" font-size="8.3" fill="#3a3a3a" text-anchor="end">0.0</text>
<line x1="34.4" y1="380.76" x2="40" y2="380.76" stroke="#1a1a1a" stroke-width="0.9"/>
<text x="28.3" y="383.76" font-size="8.3" fill="#3a3a3a" text-anchor="end">0.1</text>
<line x1="34.4" y1="361.62" x2="40" y2="361.62" stroke="#1a1a1a" stroke-width="0.9"/>
<text x="28.3" y="364.62" font-size="8.3" fill="#3a3a3a" text-anchor="end">0.2</text>
<line x1="34.4" y1="342.49" x2="40" y2="342.49" stroke="#1a1a1a" stroke-width="0.9"/>
<text x="28.3" y="345.49" font-size="8.3" fill="#3a3a3a" text-anchor="end">0.3</text>
<line x1="34.4" y1="323.35" x2="40" y2="323.35" stroke="#1a1a1a" stroke-width="0.9"/>
<text x="28.3" y="326.35" font-size="8.3" fill="#3a3a3a" text-anchor="end">0.4</text>
<line x1="34.4" y1="304.21" x2="40" y2="304.21" stroke="#1a1a1a" stroke-width="0.9"/>
<text x="28.3" y="307.21" font-size="8.3" fill="#3a3a3a" text-anchor="end">0.5</text>
<line x1="34.4" y1="285.07" x2="40" y2="285.07" stroke="#1a1a1a" stroke-width="0.9"/>
<text x="28.3" y="288.07" font-size="8.3" fill="#3a3a3a" text-anchor="end">0.6</text>
<line x1="34.4" y1="265.94" x2="40" y2="265.94" stroke="#1a1a1a" stroke-width="0.9"/>
<text x="28.3" y="268.94" font-size="8.3" fill="#3a3a3a" text-anchor="end">0.7</text>
<line x1="34.4" y1="246.8" x2="40" y2="246.8" stroke="#1a1a1a" stroke-width="0.9"/>
<text x="28.3" y="249.8" font-size="8.3" fill="#3a3a3a" text-anchor="end">0.8</text>
<line x1="45.5" y1="406.6" x2="45.5" y2="411.6" stroke="#1a1a1a" stroke-width="1"/>
<text x="45.3" y="425.1" font-size="8.3" fill="#3a3a3a" text-anchor="middle">−270</text>
<line x1="80.5" y1="406.6" x2="80.5" y2="411.6" stroke="#1a1a1a" stroke-width="1"/>
<text x="80.3" y="425.1" font-size="8.3" fill="#3a3a3a" text-anchor="middle">−260</text>
<line x1="116.5" y1="406.6" x2="116.5" y2="411.6" stroke="#1a1a1a" stroke-width="1"/>
<text x="116.3" y="425.1" font-size="8.3" fill="#3a3a3a" text-anchor="middle">−250</text>
<line x1="151.5" y1="406.6" x2="151.5" y2="411.6" stroke="#1a1a1a" stroke-width="1"/>
<text x="151.3" y="425.1" font-size="8.3" fill="#3a3a3a" text-anchor="middle">−240</text>
<line x1="187.5" y1="406.6" x2="187.5" y2="411.6" stroke="#1a1a1a" stroke-width="1"/>
<text x="187.3" y="425.1" font-size="8.3" fill="#3a3a3a" text-anchor="middle">−230</text>
<text transform="translate(6.2 323.35) rotate(-90)" font-size="8.6" fill="#3a3a3a" text-anchor="middle">Rates (events/Ma/lineage)</text>
<text transform="translate(4 234) scale(0.88 1)" font-size="8.8" font-weight="bold" fill="#111">d</text>
</g>
<g>
<rect x="291.26" y="240.9" width="6.84" height="159" fill="#fdebcf"/>
<rect x="298.71" y="240.9" width="26.06" height="159" fill="#f4f4f5"/>
<rect x="341.43" y="240.9" width="36.16" height="159" fill="#f4f4f5"/>
<rect x="386.09" y="240.9" width="9.04" height="159" fill="#fdebcf"/>
<clipPath id="clip_e"><rect x="255" y="240.9" width="153" height="159"/></clipPath>
<g clip-path="url(#clip_e)">
<path d="M253 312.21 L309.06 312.21 L314.2 311.28 L315.6 309.41 L317.23 311.74 L323.07 313.15 L325.41 312.21 L328.91 311.28 L331.25 309.41 L332.88 306.14 L334.75 307.54 L341.76 307.07 L351.1 306.14 L353.44 303.8 L354.61 300.07 L355.77 283.72 L356.01 242.61 L357.18 240.74 L362.31 240.74 L363.48 242.61 L364.18 284.88 L366.05 294.23 L367.92 298.2 L369.09 292.12 L370.26 300.07 L372.12 307.07 L374.46 312.91 L377.96 314.08 L379.83 304.74 L381 293.06 L381.7 304.74 L382.87 304.74 L386.14 304.27 L413 304.27 L413 318.75 L386.14 319.22 L382.64 321.09 L381.93 353.79 L381.47 400.5 L371.66 400.5 L370.96 353.79 L369.79 325.76 L367.45 328.09 L365.12 324.59 L362.78 323.42 L358.11 324.59 L355.77 329.26 L353.91 331.6 L352.27 326.93 L346.43 324.82 L336.15 325.29 L333.82 328.56 L332.42 337.44 L331.48 351.69 L330.31 370.84 L328.45 389.99 L327.28 393.03 L324.94 393.03 L322.84 389.99 L320.74 381.82 L318.87 370.84 L316.53 358.46 L314.43 339.77 L312.56 325.76 L309.06 322.49 L253 322.02Z" fill="#8c8c8c" fill-opacity="0.32"/>
</g>
<line x1="324.76" y1="249.2" x2="324.76" y2="392.7" stroke="#e8202c" stroke-width="1.9" stroke-linecap="round" stroke-dasharray="5.6 6.4"/>
<line x1="255" y1="323.5" x2="408" y2="323.5" stroke="#a8242b" stroke-width="1.05" stroke-dasharray="3.3 3.5"/>
<g clip-path="url(#clip_e)">
<path d="M253 317.82 L311.39 317.82 L314.2 318.28 L316.07 320.15 L317.93 325.76 L319.57 335.1 L321.2 342.58 L323.07 345.85 L324.94 346.78 L326.81 345.38 L328.21 341.64 L329.61 332.77 L331.01 324.59 L332.88 320.15 L335.92 318.52 L341.76 317.82 L348.77 317.35 L352.97 316.42 L354.84 312.91 L356.01 304.74 L357.18 293.06 L358.34 286.52 L359.98 285.35 L361.38 286.52 L362.31 291.89 L363.48 301.23 L365.12 309.41 L366.99 313.61 L369.09 315.48 L370.26 318.75 L370.96 330.43 L371.66 349.12 L372.36 372.47 L373.06 388.82 L373.99 395.36 L375.63 396.3 L377.73 395.83 L378.66 391.16 L379.36 377.15 L380.07 353.79 L380.77 330.43 L381.47 316.42 L382.64 312.21 L384.97 311.51 L413 311.51" fill="none" stroke="#4a4444" stroke-width="1.6" stroke-linejoin="round" stroke-linecap="round"/>
</g>
<text transform="translate(324.56 240) scale(1 1.18)" font-size="5.7" fill="#f06a72" text-anchor="middle">P/T</text>
<text transform="translate(296.75 399.2) rotate(-90) scale(1 1.2)" font-size="5.3" fill="#5e5238" text-anchor="start">GEE</text>
<text transform="translate(393 399.2) rotate(-90) scale(1 1.2)" font-size="5.3" fill="#5e5238" text-anchor="start">CPE</text>
<rect x="254" y="400.3" width="17.79" height="6.3" fill="#f09e8a"/>
<rect x="271.59" y="400.3" width="9.49" height="6.3" fill="#f0a08c"/>
<rect x="280.88" y="400.3" width="17.11" height="6.3" fill="#f3aa97"/>
<rect x="297.79" y="400.3" width="19.24" height="6.3" fill="#f6bcad"/>
<rect x="316.82" y="400.3" width="8.14" height="6.3" fill="#f8c9bc"/>
<rect x="324.76" y="400.3" width="2.68" height="6.3" fill="#98529f"/>
<rect x="327.25" y="400.3" width="14.38" height="6.3" fill="#b06bb1"/>
<rect x="341.43" y="400.3" width="18.63" height="6.3" fill="#c08cc3"/>
<rect x="359.86" y="400.3" width="17.93" height="6.3" fill="#c79bca"/>
<rect x="377.59" y="400.3" width="30.61" height="6.3" fill="#c7a8d4"/>
<text x="261.29" y="406.1" font-size="7.2" fill="#3a1c24" fill-opacity="0.72" text-anchor="middle">Ro</text>
<line x1="271.59" y1="400.5" x2="271.59" y2="406.6" stroke="#3a2030" stroke-opacity="0.88" stroke-width="0.85"/>
<text x="274.73" y="406.1" font-size="7.2" fill="#3a1c24" fill-opacity="0.72" text-anchor="middle">W</text>
<line x1="280.88" y1="400.5" x2="280.88" y2="406.6" stroke="#3a2030" stroke-opacity="0.88" stroke-width="0.85"/>
<text x="287.83" y="406.1" font-size="7.2" fill="#3a1c24" fill-opacity="0.72" text-anchor="middle">Ca</text>
<line x1="297.79" y1="400.5" x2="297.79" y2="406.6" stroke="#3a2030" stroke-opacity="0.88" stroke-width="0.85"/>
<text x="305.81" y="406.1" font-size="7.2" fill="#3a1c24" fill-opacity="0.72" text-anchor="middle">Wu</text>
<line x1="316.82" y1="400.5" x2="316.82" y2="406.6" stroke="#3a2030" stroke-opacity="0.88" stroke-width="0.85"/>
<text x="319.29" y="406.1" font-size="7.2" fill="#3a1c24" fill-opacity="0.72" text-anchor="middle">C</text>
<line x1="324.76" y1="400.5" x2="324.76" y2="406.6" stroke="#3a2030" stroke-opacity="0.88" stroke-width="0.85"/>
<line x1="327.25" y1="400.5" x2="327.25" y2="406.6" stroke="#3a2030" stroke-opacity="0.88" stroke-width="0.85"/>
<text x="332.84" y="406.1" font-size="7.2" fill="#3a1c24" fill-opacity="0.72" text-anchor="middle">Ol</text>
<line x1="341.43" y1="400.5" x2="341.43" y2="406.6" stroke="#3a2030" stroke-opacity="0.88" stroke-width="0.85"/>
<text x="349.14" y="406.1" font-size="7.2" fill="#3a1c24" fill-opacity="0.72" text-anchor="middle">An</text>
<line x1="359.86" y1="400.5" x2="359.86" y2="406.6" stroke="#3a2030" stroke-opacity="0.88" stroke-width="0.85"/>
<text x="367.22" y="406.1" font-size="7.2" fill="#3a1c24" fill-opacity="0.72" text-anchor="middle">La</text>
<line x1="377.59" y1="400.5" x2="377.59" y2="406.6" stroke="#3a2030" stroke-opacity="0.88" stroke-width="0.85"/>
<text x="391.29" y="406.1" font-size="7.2" fill="#3a1c24" fill-opacity="0.72" text-anchor="middle">Car</text>
<line x1="255" y1="400.2" x2="408" y2="400.2" stroke="#5a5560" stroke-opacity="0.7" stroke-width="0.6"/>
<line x1="254" y1="406.6" x2="408" y2="406.6" stroke="#5a5560" stroke-opacity="0.6" stroke-width="0.6"/>
<line x1="254.5" y1="246.3" x2="254.5" y2="400.4" stroke="#222" stroke-width="1.05"/>
<line x1="249.4" y1="399.9" x2="255" y2="399.9" stroke="#1a1a1a" stroke-width="0.9"/>
<text x="243.3" y="402.9" font-size="8.3" fill="#3a3a3a" text-anchor="end">−0.50</text>
<line x1="249.4" y1="361.62" x2="255" y2="361.62" stroke="#1a1a1a" stroke-width="0.9"/>
<text x="243.3" y="364.62" font-size="8.3" fill="#3a3a3a" text-anchor="end">−0.25</text>
<line x1="249.4" y1="323.35" x2="255" y2="323.35" stroke="#1a1a1a" stroke-width="0.9"/>
<text x="243.3" y="326.35" font-size="8.3" fill="#3a3a3a" text-anchor="end">0.00</text>
<line x1="249.4" y1="285.07" x2="255" y2="285.07" stroke="#1a1a1a" stroke-width="0.9"/>
<text x="243.3" y="288.07" font-size="8.3" fill="#3a3a3a" text-anchor="end">0.25</text>
<line x1="249.4" y1="246.8" x2="255" y2="246.8" stroke="#1a1a1a" stroke-width="0.9"/>
<text x="243.3" y="249.8" font-size="8.3" fill="#3a3a3a" text-anchor="end">0.50</text>
<line x1="260.5" y1="406.6" x2="260.5" y2="411.6" stroke="#1a1a1a" stroke-width="1"/>
<text x="260.3" y="425.1" font-size="8.3" fill="#3a3a3a" text-anchor="middle">−270</text>
<line x1="295.5" y1="406.6" x2="295.5" y2="411.6" stroke="#1a1a1a" stroke-width="1"/>
<text x="295.3" y="425.1" font-size="8.3" fill="#3a3a3a" text-anchor="middle">−260</text>
<line x1="331.5" y1="406.6" x2="331.5" y2="411.6" stroke="#1a1a1a" stroke-width="1"/>
<text x="331.3" y="425.1" font-size="8.3" fill="#3a3a3a" text-anchor="middle">−250</text>
<line x1="366.5" y1="406.6" x2="366.5" y2="411.6" stroke="#1a1a1a" stroke-width="1"/>
<text x="366.3" y="425.1" font-size="8.3" fill="#3a3a3a" text-anchor="middle">−240</text>
<line x1="402.5" y1="406.6" x2="402.5" y2="411.6" stroke="#1a1a1a" stroke-width="1"/>
<text x="402.3" y="425.1" font-size="8.3" fill="#3a3a3a" text-anchor="middle">−230</text>
<text transform="translate(221.2 323.35) rotate(-90)" font-size="8.6" fill="#3a3a3a" text-anchor="middle">Rates (events/Ma/lineage)</text>
<text transform="translate(219 234) scale(0.88 1)" font-size="8.8" font-weight="bold" fill="#111">e</text>
</g>
<g>
<rect x="506.26" y="240.9" width="6.84" height="159" fill="#fdebcf"/>
<rect x="513.71" y="240.9" width="26.06" height="159" fill="#f4f4f5"/>
<rect x="556.43" y="240.9" width="36.16" height="159" fill="#f4f4f5"/>
<rect x="601.09" y="240.9" width="9.04" height="159" fill="#fdebcf"/>
<clipPath id="clip_f"><rect x="470" y="240.9" width="153" height="159"/></clipPath>
<g clip-path="url(#clip_f)">
<path d="M470.1 341.31 L470.69 337.64 L471.27 339.44 L471.85 340.77 L472.44 342.01 L473.02 338.96 L473.61 336.58 L474.19 340.17 L474.77 339.55 L475.36 339.56 L475.94 336.87 L476.53 339.19 L477.11 339.4 L477.69 336.54 L478.28 336.88 L478.86 333.98 L479.45 336.25 L480.03 338.84 L480.61 336.4 L481.2 335.29 L481.78 333.46 L482.36 338.39 L482.95 337.27 L483.53 335.47 L484.12 335.74 L484.7 334.57 L485.28 335.69 L485.87 336.19 L486.45 334.41 L487.04 332.43 L487.62 336.09 L488.2 333.05 L488.79 334.48 L489.37 334.62 L489.96 332.7 L490.54 335.47 L491.12 334.58 L491.71 333.6 L492.29 334.79 L492.88 335.34 L493.46 336.82 L494.04 336 L494.63 335.08 L495.21 333.63 L495.8 330.24 L496.38 331.15 L496.96 327.92 L497.55 326.16 L498.13 326 L498.72 328.71 L499.3 327.91 L499.88 325.1 L500.47 328.64 L501.05 328.86 L501.64 329.1 L502.22 328.63 L502.8 329.46 L503.39 328.59 L503.97 327.39 L504.55 328.4 L505.14 326.12 L505.72 323.04 L506.31 326.24 L506.89 326.49 L507.47 324.07 L508.06 324.65 L508.64 324.62 L509.23 324.52 L509.81 323.17 L510.39 324.65 L510.98 319.96 L511.56 319.72 L512.15 322.2 L512.73 322.95 L513.31 325.75 L513.9 322.48 L514.48 326.3 L515.07 328.1 L515.65 326.05 L516.23 326.93 L516.82 325.56 L517.4 325.74 L517.99 324.96 L518.57 326.28 L519.15 325.31 L519.74 322.76 L520.32 324.94 L520.91 325.59 L521.49 326.23 L522.07 328.19 L522.66 324.44 L523.24 327.63 L523.82 324.42 L524.41 324.37 L524.99 325.03 L525.58 322.62 L526.16 322.17 L526.74 319.93 L527.33 317.79 L527.91 317.15 L528.5 314.61 L529.08 311.7 L529.66 311.83 L530.25 308.83 L530.83 305.26 L531.42 306.71 L532 306.18 L532.58 304.12 L533.17 304.63 L533.75 307.85 L534.34 305.27 L534.92 308.43 L535.5 309.68 L536.09 311.3 L536.67 313.08 L537.26 311.85 L537.84 314.52 L538.42 311.82 L539.01 317.25 L539.59 318.72 L540.18 318.85 L540.76 319.6 L541.34 322.59 L541.93 324.23 L542.51 331.49 L543.09 336.15 L543.68 343.15 L544.26 346.48 L544.85 353.12 L545.43 356.21 L546.01 361.23 L546.6 363.7 L547.18 364.38 L547.77 368.65 L548.35 368.65 L548.93 369.43 L549.52 368.24 L550.1 366.01 L550.69 366.12 L551.27 364.66 L551.85 363.32 L552.44 361.58 L553.02 359.39 L553.61 359.48 L554.19 357.29 L554.77 355.29 L555.36 355.57 L555.94 350.71 L556.53 353.18 L557.11 350.97 L557.69 350.72 L558.28 349.6 L558.86 349.55 L559.45 350.92 L560.03 349.91 L560.61 349.42 L561.2 346.11 L561.78 349.93 L562.36 348.74 L562.95 348.07 L563.53 348.56 L564.12 347.42 L564.7 345.19 L565.28 349.84 L565.87 349.1 L566.45 350.38 L567.04 351.34 L567.62 352.47 L568.2 352.45 L568.79 351.97 L569.37 353.07 L569.96 353.09 L570.54 354.21 L571.12 348.96 L571.71 343.77 L572.29 335.74 L572.88 329.09 L573.46 321.55 L574.04 316.4 L574.63 309.73 L575.21 305.42 L575.8 300.45 L576.38 297.79 L576.96 295.27 L577.55 292.66 L578.13 288.05 L578.72 285.42 L579.3 279.89 L579.88 283.16 L580.47 281.44 L581.05 281.87 L581.64 279.25 L582.22 278.14 L582.8 277.43 L583.39 274.05 L583.97 272.12 L584.55 270.14 L585.14 271.68 L585.72 271.41 L586.31 273.52 L586.89 273.54 L587.47 272.19 L588.06 273.91 L588.64 278.66 L589.23 284.53 L589.81 289.87 L590.39 294.51 L590.98 304.67 L591.56 314.21 L592.15 321.23 L592.73 330.26 L593.31 340.36 L593.9 346.63 L594.48 349.32 L595.07 349.26 L595.65 350.12 L596.23 348.67 L596.82 350.34 L597.4 348.24 L597.99 348.12 L598.57 348.63 L599.15 348.37 L599.74 347.49 L600.32 348.7 L600.91 348.13 L601.49 346.76 L602.07 345.47 L602.66 346.86 L603.24 346.79 L603.82 346.52 L604.41 345.25 L604.99 345.11 L605.58 343.2 L606.16 344.74 L606.74 340.21 L607.33 343.44 L607.91 342.04 L608.5 341.21 L609.08 338.78 L609.66 338.3 L610.25 339.4 L610.83 339.15 L611.42 339.16 L612 340.62 L612.58 337.59 L613.17 338.27 L613.75 339.64 L614.34 338.12 L614.92 340.34 L615.5 340.47 L616.09 337.14 L616.67 337.34 L617.26 333.02 L617.84 339.45 L618.42 333.43 L619.01 336.92 L619.59 339.13 L620.18 337.45 L620.76 339.91 L621.34 339.76 L621.93 338.96 L622.51 339.01 L622.51 345.22 L621.93 344.38 L621.34 344.02 L620.76 349.53 L620.18 345.02 L619.59 343.49 L619.01 343.76 L618.42 345.36 L617.84 343.17 L617.26 343.6 L616.67 345.48 L616.09 344.99 L615.5 344.31 L614.92 344.41 L614.34 345.75 L613.75 346.46 L613.17 345.21 L612.58 344.95 L612 344.11 L611.42 345.91 L610.83 347.43 L610.25 346.52 L609.66 346.04 L609.08 349.87 L608.5 348.86 L607.91 349.17 L607.33 351.45 L606.74 351.38 L606.16 351.77 L605.58 349.95 L604.99 351.91 L604.41 351.93 L603.82 350.96 L603.24 352.78 L602.66 353.91 L602.07 351.54 L601.49 352.15 L600.91 351.96 L600.32 353.5 L599.74 352.81 L599.15 353.57 L598.57 356.33 L597.99 356.31 L597.4 356.68 L596.82 356.45 L596.23 359.07 L595.65 357.48 L595.07 360.49 L594.48 356.67 L593.9 355.18 L593.31 355.87 L592.73 353.92 L592.15 353.94 L591.56 345.13 L590.98 337.27 L590.39 327.95 L589.81 319.14 L589.23 309.95 L588.64 301.98 L588.06 297.2 L587.47 291.48 L586.89 283.94 L586.31 279.84 L585.72 279.31 L585.14 279.64 L584.55 282.25 L583.97 283.25 L583.39 284.36 L582.8 285.87 L582.22 287.54 L581.64 289.35 L581.05 290.15 L580.47 292.47 L579.88 294.37 L579.3 296.94 L578.72 299.25 L578.13 302.63 L577.55 306.88 L576.96 310.95 L576.38 315.61 L575.8 321.72 L575.21 327.9 L574.63 336.79 L574.04 341.93 L573.46 349.37 L572.88 355.42 L572.29 358.99 L571.71 358.27 L571.12 358.81 L570.54 358.87 L569.96 360.89 L569.37 359.85 L568.79 359.78 L568.2 358.83 L567.62 356.7 L567.04 357.75 L566.45 360.08 L565.87 356.29 L565.28 356.74 L564.7 355.48 L564.12 355.05 L563.53 353.05 L562.95 353.5 L562.36 353.52 L561.78 354.65 L561.2 354.44 L560.61 358.47 L560.03 354.73 L559.45 354.68 L558.86 355.99 L558.28 356.06 L557.69 357.21 L557.11 359.23 L556.53 361.01 L555.94 364.72 L555.36 366.7 L554.77 364.32 L554.19 366.76 L553.61 368.32 L553.02 369.37 L552.44 369.93 L551.85 372.47 L551.27 372.86 L550.69 372.61 L550.1 374.83 L549.52 373.86 L548.93 374.08 L548.35 374.53 L547.77 374.38 L547.18 374.06 L546.6 372.66 L546.01 372.5 L545.43 369.38 L544.85 367.45 L544.26 365.45 L543.68 361.25 L543.09 359.83 L542.51 356.28 L541.93 349.54 L541.34 341.64 L540.76 336.02 L540.18 332.43 L539.59 327.58 L539.01 326.82 L538.42 327.21 L537.84 326.54 L537.26 324.1 L536.67 322.57 L536.09 321.85 L535.5 319.77 L534.92 321.27 L534.34 320.69 L533.75 316.8 L533.17 316.18 L532.58 314.33 L532 313.29 L531.42 316.25 L530.83 317.82 L530.25 319.77 L529.66 321.91 L529.08 325.35 L528.5 325.07 L527.91 327.85 L527.33 327.46 L526.74 328.34 L526.16 330.65 L525.58 332.6 L524.99 332.67 L524.41 332.76 L523.82 332.05 L523.24 331.78 L522.66 331.83 L522.07 333.55 L521.49 331.93 L520.91 332.05 L520.32 337.34 L519.74 333.04 L519.15 330.97 L518.57 331.57 L517.99 331.1 L517.4 332.09 L516.82 333.32 L516.23 331.97 L515.65 332.71 L515.07 333.16 L514.48 333.58 L513.9 332.58 L513.31 332.39 L512.73 331.25 L512.15 333.93 L511.56 330.35 L510.98 329.65 L510.39 330.18 L509.81 330.03 L509.23 331.18 L508.64 331.27 L508.06 331.56 L507.47 332.4 L506.89 333.02 L506.31 332.59 L505.72 332.51 L505.14 335.84 L504.55 333.65 L503.97 334.85 L503.39 334.9 L502.8 335.22 L502.22 335.7 L501.64 337.28 L501.05 335.49 L500.47 336.16 L499.88 334.52 L499.3 336.9 L498.72 333.69 L498.13 336.45 L497.55 337.53 L496.96 339.52 L496.38 341.47 L495.8 343.4 L495.21 343.4 L494.63 343.02 L494.04 343.48 L493.46 342.57 L492.88 343.41 L492.29 341.6 L491.71 341.86 L491.12 341.36 L490.54 339.51 L489.96 340.87 L489.37 339.68 L488.79 341.77 L488.2 342.44 L487.62 342.71 L487.04 342.72 L486.45 340.89 L485.87 343.51 L485.28 343.43 L484.7 342.74 L484.12 347.49 L483.53 342.22 L482.95 344.82 L482.36 343.31 L481.78 345.05 L481.2 344.77 L480.61 345.34 L480.03 345.36 L479.45 346.23 L478.86 344.83 L478.28 343.62 L477.69 344.21 L477.11 345.11 L476.53 343.51 L475.94 344.6 L475.36 346.97 L474.77 347.43 L474.19 345.51 L473.61 345.63 L473.02 346.1 L472.44 346.65 L471.85 347.11 L471.27 351.01 L470.69 349.72 L470.1 349.16Z" fill="#2fb26a" fill-opacity="0.5"/>
</g>
<line x1="539.76" y1="249.2" x2="539.76" y2="392.7" stroke="#e8202c" stroke-width="1.9" stroke-linecap="round" stroke-dasharray="5.6 6.85"/>
<g clip-path="url(#clip_f)">
<path d="M470.1 345.96 L470.8 344.9 L471.5 344.37 L472.2 344.65 L472.91 343.59 L473.61 343.07 L474.31 343 L475.01 342.31 L475.71 342.28 L476.41 341.44 L477.11 341.64 L477.81 340.81 L478.51 340.82 L479.21 341.19 L479.91 341.12 L480.61 341.41 L481.31 341.21 L482.01 340.37 L482.72 340.64 L483.42 340.07 L484.12 339.55 L484.82 339.23 L485.52 339.49 L486.22 339.06 L486.92 339.05 L487.62 338.58 L488.32 338.37 L489.02 337.72 L489.72 337.53 L490.42 337.29 L491.12 336.85 L491.82 337.78 L492.53 338 L493.23 339.05 L493.93 339.65 L494.63 339.89 L495.33 337.75 L496.03 336.51 L496.73 334.64 L497.43 332.53 L498.13 331.26 L498.83 330.45 L499.53 330.64 L500.23 332.06 L500.93 332.86 L501.64 333.01 L502.34 332.58 L503.04 332.42 L503.74 332.19 L504.44 331.31 L505.14 330.94 L505.84 330.59 L506.54 329.81 L507.24 329.47 L507.94 328.83 L508.64 328.05 L509.34 327.52 L510.04 327.03 L510.74 326.46 L511.45 327.53 L512.15 327.75 L512.85 328.39 L513.55 328.9 L514.25 329.82 L514.95 329.83 L515.65 329.51 L516.35 329.42 L517.05 329.1 L517.75 329.56 L518.45 328.88 L519.15 329.16 L519.85 329.29 L520.55 329.55 L521.26 329.86 L521.96 329.91 L522.66 329.97 L523.36 330.17 L524.06 329.48 L524.76 328.5 L525.46 327.05 L526.16 326.2 L526.86 324.49 L527.56 323.01 L528.26 321.57 L528.96 319.65 L529.66 316.85 L530.36 314.57 L531.07 311.51 L531.77 309.78 L532.47 309.47 L533.17 311.18 L533.87 312.55 L534.57 313.98 L535.27 315.73 L535.97 317.18 L536.67 318.33 L537.37 319.94 L538.07 321.02 L538.77 321.79 L539.47 322.91 L540.18 323.06 L540.88 326.93 L541.58 332.87 L542.28 339.65 L542.98 346.54 L543.68 353.23 L544.38 358.61 L545.08 362.57 L545.78 365.9 L546.48 368.93 L547.18 370.3 L547.88 370.92 L548.58 371.8 L549.28 371.42 L549.99 371.48 L550.69 369.74 L551.39 368.18 L552.09 366.33 L552.79 364.86 L553.49 363.3 L554.19 362.24 L554.89 360.97 L555.59 359.36 L556.29 357.54 L556.99 355.2 L557.69 354.09 L558.39 353.27 L559.09 352.19 L559.8 352.2 L560.5 352.22 L561.2 351.91 L561.9 351.8 L562.6 351.3 L563.3 350.77 L564 350.33 L564.7 351.58 L565.4 352.72 L566.1 353.39 L566.8 354.54 L567.5 354.62 L568.2 355.64 L568.91 355.92 L569.61 355.95 L570.31 356.75 L571.01 356.61 L571.71 354.61 L572.41 348.81 L573.11 340.59 L573.81 332.5 L574.51 323.52 L575.21 316.51 L575.91 309.77 L576.61 305 L577.31 299.87 L578.01 296.59 L578.72 292.79 L579.42 290.6 L580.12 288.66 L580.82 286.87 L581.52 284.52 L582.22 283.04 L582.92 281.48 L583.62 279.74 L584.32 278.8 L585.02 277.94 L585.72 276.75 L586.42 275.9 L587.12 278.25 L587.82 282.27 L588.53 288.15 L589.23 296.1 L589.93 305.07 L590.63 315.5 L591.33 325.77 L592.03 336.42 L592.73 345.85 L593.43 352.39 L594.13 353.56 L594.83 353.02 L595.53 352.67 L596.23 352.23 L596.93 351.6 L597.64 351.48 L598.34 350.85 L599.04 350.55 L599.74 350.18 L600.44 350.15 L601.14 349.76 L601.84 349.69 L602.54 349.65 L603.24 348.62 L603.94 348.51 L604.64 348.27 L605.34 347.51 L606.04 346.89 L606.74 346.51 L607.45 345.26 L608.15 345.25 L608.85 344.35 L609.55 343.74 L610.25 343.05 L610.95 342.16 L611.65 341.96 L612.35 341.87 L613.05 342.46 L613.75 343.14 L614.45 343.23 L615.15 342.51 L615.85 342.32 L616.55 342.06 L617.26 341.4 L617.96 341.53 L618.66 341.86 L619.36 342.05 L620.06 342.45 L620.76 342.49 L621.46 342.5 L622.16 342.37 L622.63 342.58" fill="none" stroke="#10a055" stroke-width="1.9" stroke-linejoin="round" stroke-linecap="round"/>
</g>
<text transform="translate(539.56 240) scale(1 1.18)" font-size="5.7" fill="#f06a72" text-anchor="middle">P/T</text>
<text transform="translate(511.75 399.2) rotate(-90) scale(1 1.2)" font-size="5.3" fill="#5e5238" text-anchor="start">GEE</text>
<text transform="translate(608 399.2) rotate(-90) scale(1 1.2)" font-size="5.3" fill="#5e5238" text-anchor="start">CPE</text>
<rect x="469" y="400.3" width="17.79" height="6.3" fill="#f09e8a"/>
<rect x="486.59" y="400.3" width="9.49" height="6.3" fill="#f0a08c"/>
<rect x="495.88" y="400.3" width="17.11" height="6.3" fill="#f3aa97"/>
<rect x="512.79" y="400.3" width="19.24" height="6.3" fill="#f6bcad"/>
<rect x="531.82" y="400.3" width="8.14" height="6.3" fill="#f8c9bc"/>
<rect x="539.76" y="400.3" width="2.68" height="6.3" fill="#98529f"/>
<rect x="542.25" y="400.3" width="14.38" height="6.3" fill="#b06bb1"/>
<rect x="556.43" y="400.3" width="18.63" height="6.3" fill="#c08cc3"/>
<rect x="574.86" y="400.3" width="17.93" height="6.3" fill="#c79bca"/>
<rect x="592.59" y="400.3" width="30.61" height="6.3" fill="#c7a8d4"/>
<text x="476.29" y="406.1" font-size="7.2" fill="#3a1c24" fill-opacity="0.72" text-anchor="middle">Ro</text>
<line x1="486.59" y1="400.5" x2="486.59" y2="406.6" stroke="#3a2030" stroke-opacity="0.88" stroke-width="0.85"/>
<text x="489.73" y="406.1" font-size="7.2" fill="#3a1c24" fill-opacity="0.72" text-anchor="middle">W</text>
<line x1="495.88" y1="400.5" x2="495.88" y2="406.6" stroke="#3a2030" stroke-opacity="0.88" stroke-width="0.85"/>
<text x="502.83" y="406.1" font-size="7.2" fill="#3a1c24" fill-opacity="0.72" text-anchor="middle">Ca</text>
<line x1="512.79" y1="400.5" x2="512.79" y2="406.6" stroke="#3a2030" stroke-opacity="0.88" stroke-width="0.85"/>
<text x="520.81" y="406.1" font-size="7.2" fill="#3a1c24" fill-opacity="0.72" text-anchor="middle">Wu</text>
<line x1="531.82" y1="400.5" x2="531.82" y2="406.6" stroke="#3a2030" stroke-opacity="0.88" stroke-width="0.85"/>
<text x="534.29" y="406.1" font-size="7.2" fill="#3a1c24" fill-opacity="0.72" text-anchor="middle">C</text>
<line x1="539.76" y1="400.5" x2="539.76" y2="406.6" stroke="#3a2030" stroke-opacity="0.88" stroke-width="0.85"/>
<line x1="542.25" y1="400.5" x2="542.25" y2="406.6" stroke="#3a2030" stroke-opacity="0.88" stroke-width="0.85"/>
<text x="547.84" y="406.1" font-size="7.2" fill="#3a1c24" fill-opacity="0.72" text-anchor="middle">Ol</text>
<line x1="556.43" y1="400.5" x2="556.43" y2="406.6" stroke="#3a2030" stroke-opacity="0.88" stroke-width="0.85"/>
<text x="564.14" y="406.1" font-size="7.2" fill="#3a1c24" fill-opacity="0.72" text-anchor="middle">An</text>
<line x1="574.86" y1="400.5" x2="574.86" y2="406.6" stroke="#3a2030" stroke-opacity="0.88" stroke-width="0.85"/>
<text x="582.22" y="406.1" font-size="7.2" fill="#3a1c24" fill-opacity="0.72" text-anchor="middle">La</text>
<line x1="592.59" y1="400.5" x2="592.59" y2="406.6" stroke="#3a2030" stroke-opacity="0.88" stroke-width="0.85"/>
<text x="606.29" y="406.1" font-size="7.2" fill="#3a1c24" fill-opacity="0.72" text-anchor="middle">Car</text>
<line x1="470" y1="400.2" x2="623" y2="400.2" stroke="#5a5560" stroke-opacity="0.7" stroke-width="0.6"/>
<line x1="469" y1="406.6" x2="623" y2="406.6" stroke="#5a5560" stroke-opacity="0.6" stroke-width="0.6"/>
<line x1="469.5" y1="246.3" x2="469.5" y2="400.4" stroke="#222" stroke-width="1.05"/>
<line x1="464.4" y1="399.9" x2="470" y2="399.9" stroke="#1a1a1a" stroke-width="0.9"/>
<text x="458.3" y="402.9" font-size="8.3" fill="#3a3a3a" text-anchor="end">0</text>
<line x1="464.4" y1="361.62" x2="470" y2="361.62" stroke="#1a1a1a" stroke-width="0.9"/>
<text x="458.3" y="364.62" font-size="8.3" fill="#3a3a3a" text-anchor="end">25</text>
<line x1="464.4" y1="323.35" x2="470" y2="323.35" stroke="#1a1a1a" stroke-width="0.9"/>
<text x="458.3" y="326.35" font-size="8.3" fill="#3a3a3a" text-anchor="end">50</text>
<line x1="464.4" y1="285.07" x2="470" y2="285.07" stroke="#1a1a1a" stroke-width="0.9"/>
<text x="458.3" y="288.07" font-size="8.3" fill="#3a3a3a" text-anchor="end">75</text>
<line x1="464.4" y1="246.8" x2="470" y2="246.8" stroke="#1a1a1a" stroke-width="0.9"/>
<text x="458.3" y="249.8" font-size="8.3" fill="#3a3a3a" text-anchor="end">100</text>
<line x1="475.5" y1="406.6" x2="475.5" y2="411.6" stroke="#1a1a1a" stroke-width="1"/>
<text x="475.3" y="425.1" font-size="8.3" fill="#3a3a3a" text-anchor="middle">−270</text>
<line x1="510.5" y1="406.6" x2="510.5" y2="411.6" stroke="#1a1a1a" stroke-width="1"/>
<text x="510.3" y="425.1" font-size="8.3" fill="#3a3a3a" text-anchor="middle">−260</text>
<line x1="546.5" y1="406.6" x2="546.5" y2="411.6" stroke="#1a1a1a" stroke-width="1"/>
<text x="546.3" y="425.1" font-size="8.3" fill="#3a3a3a" text-anchor="middle">−250</text>
<line x1="581.5" y1="406.6" x2="581.5" y2="411.6" stroke="#1a1a1a" stroke-width="1"/>
<text x="581.3" y="425.1" font-size="8.3" fill="#3a3a3a" text-anchor="middle">−240</text>
<line x1="617.5" y1="406.6" x2="617.5" y2="411.6" stroke="#1a1a1a" stroke-width="1"/>
<text x="617.3" y="425.1" font-size="8.3" fill="#3a3a3a" text-anchor="middle">−230</text>
<text transform="translate(436.3 323.35) rotate(-90)" font-size="8.6" fill="#3a3a3a" text-anchor="middle">Number of lineages</text>
<text transform="translate(434 234) scale(0.88 1)" font-size="8.8" font-weight="bold" fill="#111">f</text>
</g>
<g>
<rect x="76.26" y="468.1" width="6.84" height="159" fill="#fdebcf"/>
<rect x="83.71" y="468.1" width="26.06" height="159" fill="#f4f4f5"/>
<rect x="126.43" y="468.1" width="36.16" height="159" fill="#f4f4f5"/>
<rect x="171.09" y="468.1" width="9.04" height="159" fill="#fdebcf"/>
<clipPath id="clip_g"><rect x="40" y="468.1" width="153" height="159"/></clipPath>
<g clip-path="url(#clip_g)">
<path d="M38 605.31 L61.36 604.85 L94.06 604.15 L96.39 599.47 L97.8 557.43 L98.73 510.72 L99.43 464 L106.2 464 L107.14 487.36 L108.07 522.39 L109.24 557.43 L110.88 578.45 L113.91 584.29 L118.58 585.93 L131.43 587.8 L154.79 590.13 L198 590.13 L198 604.15 L131.43 603.68 L112.74 603.21 L109.24 604.15 L107.61 607.65 L105.74 609.99 L101.07 609.99 L98.73 611.15 L97.33 615.82 L95.93 621.66 L94.53 618.16 L92.89 613.49 L61.36 613.72 L38 613.49Z" fill="#4b57a8" fill-opacity="0.28"/>
<path d="M38 609.28 L61.36 608.82 L94.06 608.58 L96.39 607.88 L97.8 604.15 L98.5 590.13 L98.96 557.43 L99.43 524.73 L100.13 509.55 L101.07 506.04 L103.4 505.58 L105.04 506.51 L106.2 510.72 L106.91 529.4 L107.61 562.1 L108.31 590.13 L109.24 597.14 L111.58 597.84 L131.43 598.07 L198 598.31" fill="none" stroke="#4b57a8" stroke-width="1.6" stroke-linejoin="round" stroke-linecap="round"/>
<path d="M38 606.95 L61.36 607.42 L94.06 606.95 L98.26 603.21 L100.6 590.13 L102.23 571.45 L103.87 557.43 L105.74 548.09 L108.07 541.08 L110.41 538.28 L112.28 538.74 L113.21 557.43 L114.61 580.79 L116.25 594.8 L118.58 599.47 L131.43 600.41 L153.62 600.18 L154.79 594.8 L155.96 557.43 L157.12 515.39 L158.29 504.18 L163.66 503.71 L164.6 485.02 L165.3 504.18 L166 534.07 L166.7 580.79 L167.17 599.47 L168.8 601.34 L198 601.81 L198 605.55 L168.8 605.78 L167.17 606.95 L166 613.49 L131.43 612.09 L122.09 613.49 L118.58 616.99 L116.25 619.33 L112.74 618.16 L110.41 613.49 L108.07 609.99 L105.74 613.49 L102.23 615.82 L98.73 614.42 L94.06 613.49 L61.36 613.72 L52.01 614.89 L45.01 616.99 L38 618.16Z" fill="#e2492d" fill-opacity="0.28"/>
</g>
<line x1="109.76" y1="476.4" x2="109.76" y2="619.9" stroke="#e8202c" stroke-width="1.9" stroke-linecap="round" stroke-dasharray="5.6 8.5"/>
<g clip-path="url(#clip_g)">
<path d="M38 610.69 L42.67 609.75 L49.68 608.82 L61.36 608.35 L84.72 608.12 L95.23 607.88 L98.26 606.95 L99.9 604.15 L100.83 594.8 L101.53 576.12 L102.23 552.76 L103.17 529.4 L104.34 510.72 L105.74 501.37 L107.37 498.57 L109.94 498.34 L111.58 499.04 L112.74 503.71 L113.68 517.72 L114.38 541.08 L115.08 569.11 L115.78 590.13 L116.72 599.47 L118.12 602.98 L120.92 604.15 L126.76 604.38 L154.79 604.15 L198 603.91" fill="none" stroke="#e2492d" stroke-width="1.6" stroke-linejoin="round" stroke-linecap="round"/>
</g>
<g clip-path="url(#clip_g)">
</g>
<text transform="translate(109.56 467.2) scale(1 1.18)" font-size="5.7" fill="#f06a72" text-anchor="middle">P/T</text>
<text transform="translate(81.75 626.4) rotate(-90) scale(1 1.2)" font-size="5.3" fill="#5e5238" text-anchor="start">GEE</text>
<text transform="translate(178 626.4) rotate(-90) scale(1 1.2)" font-size="5.3" fill="#5e5238" text-anchor="start">CPE</text>
<rect x="39" y="627.5" width="17.79" height="6.3" fill="#f09e8a"/>
<rect x="56.59" y="627.5" width="9.49" height="6.3" fill="#f0a08c"/>
<rect x="65.88" y="627.5" width="17.11" height="6.3" fill="#f3aa97"/>
<rect x="82.79" y="627.5" width="19.24" height="6.3" fill="#f6bcad"/>
<rect x="101.82" y="627.5" width="8.14" height="6.3" fill="#f8c9bc"/>
<rect x="109.76" y="627.5" width="2.68" height="6.3" fill="#98529f"/>
<rect x="112.25" y="627.5" width="14.38" height="6.3" fill="#b06bb1"/>
<rect x="126.43" y="627.5" width="18.63" height="6.3" fill="#c08cc3"/>
<rect x="144.86" y="627.5" width="17.93" height="6.3" fill="#c79bca"/>
<rect x="162.59" y="627.5" width="30.61" height="6.3" fill="#c7a8d4"/>
<text x="46.29" y="633.3" font-size="7.2" fill="#3a1c24" fill-opacity="0.72" text-anchor="middle">Ro</text>
<line x1="56.59" y1="627.7" x2="56.59" y2="633.8" stroke="#3a2030" stroke-opacity="0.88" stroke-width="0.85"/>
<text x="59.73" y="633.3" font-size="7.2" fill="#3a1c24" fill-opacity="0.72" text-anchor="middle">W</text>
<line x1="65.88" y1="627.7" x2="65.88" y2="633.8" stroke="#3a2030" stroke-opacity="0.88" stroke-width="0.85"/>
<text x="72.83" y="633.3" font-size="7.2" fill="#3a1c24" fill-opacity="0.72" text-anchor="middle">Ca</text>
<line x1="82.79" y1="627.7" x2="82.79" y2="633.8" stroke="#3a2030" stroke-opacity="0.88" stroke-width="0.85"/>
<text x="90.81" y="633.3" font-size="7.2" fill="#3a1c24" fill-opacity="0.72" text-anchor="middle">Wu</text>
<line x1="101.82" y1="627.7" x2="101.82" y2="633.8" stroke="#3a2030" stroke-opacity="0.88" stroke-width="0.85"/>
<text x="104.29" y="633.3" font-size="7.2" fill="#3a1c24" fill-opacity="0.72" text-anchor="middle">C</text>
<line x1="109.76" y1="627.7" x2="109.76" y2="633.8" stroke="#3a2030" stroke-opacity="0.88" stroke-width="0.85"/>
<line x1="112.25" y1="627.7" x2="112.25" y2="633.8" stroke="#3a2030" stroke-opacity="0.88" stroke-width="0.85"/>
<text x="117.84" y="633.3" font-size="7.2" fill="#3a1c24" fill-opacity="0.72" text-anchor="middle">Ol</text>
<line x1="126.43" y1="627.7" x2="126.43" y2="633.8" stroke="#3a2030" stroke-opacity="0.88" stroke-width="0.85"/>
<text x="134.14" y="633.3" font-size="7.2" fill="#3a1c24" fill-opacity="0.72" text-anchor="middle">An</text>
<line x1="144.86" y1="627.7" x2="144.86" y2="633.8" stroke="#3a2030" stroke-opacity="0.88" stroke-width="0.85"/>
<text x="152.22" y="633.3" font-size="7.2" fill="#3a1c24" fill-opacity="0.72" text-anchor="middle">La</text>
<line x1="162.59" y1="627.7" x2="162.59" y2="633.8" stroke="#3a2030" stroke-opacity="0.88" stroke-width="0.85"/>
<text x="176.29" y="633.3" font-size="7.2" fill="#3a1c24" fill-opacity="0.72" text-anchor="middle">Car</text>
<line x1="40" y1="627.4" x2="193" y2="627.4" stroke="#5a5560" stroke-opacity="0.7" stroke-width="0.6"/>
<line x1="39" y1="633.8" x2="193" y2="633.8" stroke="#5a5560" stroke-opacity="0.6" stroke-width="0.6"/>
<line x1="39.5" y1="473.5" x2="39.5" y2="627.6" stroke="#222" stroke-width="1.05"/>
<line x1="34.4" y1="627.1" x2="40" y2="627.1" stroke="#1a1a1a" stroke-width="0.9"/>
<text x="28.3" y="630.1" font-size="8.3" fill="#3a3a3a" text-anchor="end">0.0</text>
<line x1="34.4" y1="596.48" x2="40" y2="596.48" stroke="#1a1a1a" stroke-width="0.9"/>
<text x="28.3" y="599.48" font-size="8.3" fill="#3a3a3a" text-anchor="end">0.2</text>
<line x1="34.4" y1="565.86" x2="40" y2="565.86" stroke="#1a1a1a" stroke-width="0.9"/>
<text x="28.3" y="568.86" font-size="8.3" fill="#3a3a3a" text-anchor="end">0.4</text>
<line x1="34.4" y1="535.24" x2="40" y2="535.24" stroke="#1a1a1a" stroke-width="0.9"/>
<text x="28.3" y="538.24" font-size="8.3" fill="#3a3a3a" text-anchor="end">0.6</text>
<line x1="34.4" y1="504.62" x2="40" y2="504.62" stroke="#1a1a1a" stroke-width="0.9"/>
<text x="28.3" y="507.62" font-size="8.3" fill="#3a3a3a" text-anchor="end">0.8</text>
<line x1="34.4" y1="474" x2="40" y2="474" stroke="#1a1a1a" stroke-width="0.9"/>
<text x="28.3" y="477" font-size="8.3" fill="#3a3a3a" text-anchor="end">1.0</text>
<line x1="45.5" y1="633.8" x2="45.5" y2="638.8" stroke="#1a1a1a" stroke-width="1"/>
<text x="45.3" y="652.3" font-size="8.3" fill="#3a3a3a" text-anchor="middle">−270</text>
<line x1="80.5" y1="633.8" x2="80.5" y2="638.8" stroke="#1a1a1a" stroke-width="1"/>
<text x="80.3" y="652.3" font-size="8.3" fill="#3a3a3a" text-anchor="middle">−260</text>
<line x1="116.5" y1="633.8" x2="116.5" y2="638.8" stroke="#1a1a1a" stroke-width="1"/>
<text x="116.3" y="652.3" font-size="8.3" fill="#3a3a3a" text-anchor="middle">−250</text>
<line x1="151.5" y1="633.8" x2="151.5" y2="638.8" stroke="#1a1a1a" stroke-width="1"/>
<text x="151.3" y="652.3" font-size="8.3" fill="#3a3a3a" text-anchor="middle">−240</text>
<line x1="187.5" y1="633.8" x2="187.5" y2="638.8" stroke="#1a1a1a" stroke-width="1"/>
<text x="187.3" y="652.3" font-size="8.3" fill="#3a3a3a" text-anchor="middle">−230</text>
<text transform="translate(6.2 550.55) rotate(-90)" font-size="8.6" fill="#3a3a3a" text-anchor="middle">Rates (events/Ma/lineage)</text>
<text transform="translate(4 461.2) scale(0.88 1)" font-size="8.8" font-weight="bold" fill="#111">g</text>
</g>
<g>
<rect x="291.26" y="468.1" width="6.84" height="159" fill="#fdebcf"/>
<rect x="298.71" y="468.1" width="26.06" height="159" fill="#f4f4f5"/>
<rect x="341.43" y="468.1" width="36.16" height="159" fill="#f4f4f5"/>
<rect x="386.09" y="468.1" width="9.04" height="159" fill="#fdebcf"/>
<clipPath id="clip_h"><rect x="255" y="468.1" width="153" height="159"/></clipPath>
<g clip-path="url(#clip_h)">
<path d="M253 544.58 L257.67 545.28 L262.34 546.22 L267.01 547.62 L276.36 548.09 L299.72 548.09 L307.89 547.62 L310.46 543.42 L311.86 522.39 L313.03 492.03 L314.2 464 L318.4 464 L319.34 487.36 L320.74 515.39 L322.14 534.07 L323.54 543.42 L325.41 545.75 L326.81 543.42 L328.21 536.41 L331.25 534.07 L333.58 531.74 L334.52 520.06 L334.99 510.72 L335.45 522.39 L336.15 531.74 L338.26 536.41 L341.76 538.28 L358.11 538.28 L363.95 539.91 L374.46 541.55 L393.15 541.55 L404.82 541.08 L407.63 539.21 L413 539.21 L413 554.16 L393.15 552.76 L374.46 553.23 L358.11 551.82 L341.76 552.76 L338.26 555.09 L336.62 562.1 L335.22 585.46 L333.82 608.82 L331.95 627.5 L322.61 627.5 L321.2 622.83 L319.34 604.15 L317.93 585.46 L316.53 566.77 L315.6 557.43 L314.2 566.77 L313.26 585.46 L312.33 594.8 L311.39 606.48 L310.46 594.8 L309.06 566.77 L307.19 559.3 L299.72 558.6 L281.03 558.83 L269.35 559.3 L263.51 557.9 L257.67 556.26 L253 555.09Z" fill="#8c8c8c" fill-opacity="0.32"/>
</g>
<line x1="324.76" y1="476.4" x2="324.76" y2="619.9" stroke="#e8202c" stroke-width="1.9" stroke-linecap="round" stroke-dasharray="5.6 8.5"/>
<line x1="255" y1="550.5" x2="408" y2="550.5" stroke="#a8242b" stroke-width="1.05" stroke-dasharray="3.88 4.12"/>
<g clip-path="url(#clip_h)">
<path d="M253 549.96 L256.5 549.96 L260.01 550.89 L264.68 551.82 L270.52 552.29 L281.03 552.06 L299.72 552.06 L307.89 552.29 L310.46 551.82 L311.86 548.09 L312.8 536.41 L313.73 517.72 L314.66 503.71 L315.6 499.5 L316.3 503.71 L317.23 515.39 L318.4 529.4 L319.8 543.42 L320.97 557.43 L322.14 576.12 L323.07 594.8 L324.01 608.82 L324.94 614.42 L326.34 614.89 L327.51 611.15 L328.68 599.47 L329.85 580.79 L331.25 562.1 L332.88 551.59 L334.75 547.15 L337.55 545.75 L346.43 545.52 L359.28 545.52 L363.95 546.69 L374.46 547.39 L388.47 546.92 L413 546.69" fill="none" stroke="#4a4444" stroke-width="1.6" stroke-linejoin="round" stroke-linecap="round"/>
</g>
<text transform="translate(324.56 467.2) scale(1 1.18)" font-size="5.7" fill="#f06a72" text-anchor="middle">P/T</text>
<text transform="translate(296.75 626.4) rotate(-90) scale(1 1.2)" font-size="5.3" fill="#5e5238" text-anchor="start">GEE</text>
<text transform="translate(393 626.4) rotate(-90) scale(1 1.2)" font-size="5.3" fill="#5e5238" text-anchor="start">CPE</text>
<rect x="254" y="627.5" width="17.79" height="6.3" fill="#f09e8a"/>
<rect x="271.59" y="627.5" width="9.49" height="6.3" fill="#f0a08c"/>
<rect x="280.88" y="627.5" width="17.11" height="6.3" fill="#f3aa97"/>
<rect x="297.79" y="627.5" width="19.24" height="6.3" fill="#f6bcad"/>
<rect x="316.82" y="627.5" width="8.14" height="6.3" fill="#f8c9bc"/>
<rect x="324.76" y="627.5" width="2.68" height="6.3" fill="#98529f"/>
<rect x="327.25" y="627.5" width="14.38" height="6.3" fill="#b06bb1"/>
<rect x="341.43" y="627.5" width="18.63" height="6.3" fill="#c08cc3"/>
<rect x="359.86" y="627.5" width="17.93" height="6.3" fill="#c79bca"/>
<rect x="377.59" y="627.5" width="30.61" height="6.3" fill="#c7a8d4"/>
<text x="261.29" y="633.3" font-size="7.2" fill="#3a1c24" fill-opacity="0.72" text-anchor="middle">Ro</text>
<line x1="271.59" y1="627.7" x2="271.59" y2="633.8" stroke="#3a2030" stroke-opacity="0.88" stroke-width="0.85"/>
<text x="274.73" y="633.3" font-size="7.2" fill="#3a1c24" fill-opacity="0.72" text-anchor="middle">W</text>
<line x1="280.88" y1="627.7" x2="280.88" y2="633.8" stroke="#3a2030" stroke-opacity="0.88" stroke-width="0.85"/>
<text x="287.83" y="633.3" font-size="7.2" fill="#3a1c24" fill-opacity="0.72" text-anchor="middle">Ca</text>
<line x1="297.79" y1="627.7" x2="297.79" y2="633.8" stroke="#3a2030" stroke-opacity="0.88" stroke-width="0.85"/>
<text x="305.81" y="633.3" font-size="7.2" fill="#3a1c24" fill-opacity="0.72" text-anchor="middle">Wu</text>
<line x1="316.82" y1="627.7" x2="316.82" y2="633.8" stroke="#3a2030" stroke-opacity="0.88" stroke-width="0.85"/>
<text x="319.29" y="633.3" font-size="7.2" fill="#3a1c24" fill-opacity="0.72" text-anchor="middle">C</text>
<line x1="324.76" y1="627.7" x2="324.76" y2="633.8" stroke="#3a2030" stroke-opacity="0.88" stroke-width="0.85"/>
<line x1="327.25" y1="627.7" x2="327.25" y2="633.8" stroke="#3a2030" stroke-opacity="0.88" stroke-width="0.85"/>
<text x="332.84" y="633.3" font-size="7.2" fill="#3a1c24" fill-opacity="0.72" text-anchor="middle">Ol</text>
<line x1="341.43" y1="627.7" x2="341.43" y2="633.8" stroke="#3a2030" stroke-opacity="0.88" stroke-width="0.85"/>
<text x="349.14" y="633.3" font-size="7.2" fill="#3a1c24" fill-opacity="0.72" text-anchor="middle">An</text>
<line x1="359.86" y1="627.7" x2="359.86" y2="633.8" stroke="#3a2030" stroke-opacity="0.88" stroke-width="0.85"/>
<text x="367.22" y="633.3" font-size="7.2" fill="#3a1c24" fill-opacity="0.72" text-anchor="middle">La</text>
<line x1="377.59" y1="627.7" x2="377.59" y2="633.8" stroke="#3a2030" stroke-opacity="0.88" stroke-width="0.85"/>
<text x="391.29" y="633.3" font-size="7.2" fill="#3a1c24" fill-opacity="0.72" text-anchor="middle">Car</text>
<line x1="255" y1="627.4" x2="408" y2="627.4" stroke="#5a5560" stroke-opacity="0.7" stroke-width="0.6"/>
<line x1="254" y1="633.8" x2="408" y2="633.8" stroke="#5a5560" stroke-opacity="0.6" stroke-width="0.6"/>
<line x1="254.5" y1="473.5" x2="254.5" y2="627.6" stroke="#222" stroke-width="1.05"/>
<line x1="249.4" y1="627.1" x2="255" y2="627.1" stroke="#1a1a1a" stroke-width="0.9"/>
<text x="243.3" y="630.1" font-size="8.3" fill="#3a3a3a" text-anchor="end">−0.8</text>
<line x1="249.4" y1="607.96" x2="255" y2="607.96" stroke="#1a1a1a" stroke-width="0.9"/>
<text x="243.3" y="610.96" font-size="8.3" fill="#3a3a3a" text-anchor="end">−0.6</text>
<line x1="249.4" y1="588.82" x2="255" y2="588.82" stroke="#1a1a1a" stroke-width="0.9"/>
<text x="243.3" y="591.82" font-size="8.3" fill="#3a3a3a" text-anchor="end">−0.4</text>
<line x1="249.4" y1="569.69" x2="255" y2="569.69" stroke="#1a1a1a" stroke-width="0.9"/>
<text x="243.3" y="572.69" font-size="8.3" fill="#3a3a3a" text-anchor="end">−0.2</text>
<line x1="249.4" y1="550.55" x2="255" y2="550.55" stroke="#1a1a1a" stroke-width="0.9"/>
<text x="243.3" y="553.55" font-size="8.3" fill="#3a3a3a" text-anchor="end">0.0</text>
<line x1="249.4" y1="531.41" x2="255" y2="531.41" stroke="#1a1a1a" stroke-width="0.9"/>
<text x="243.3" y="534.41" font-size="8.3" fill="#3a3a3a" text-anchor="end">0.2</text>
<line x1="249.4" y1="512.27" x2="255" y2="512.27" stroke="#1a1a1a" stroke-width="0.9"/>
<text x="243.3" y="515.27" font-size="8.3" fill="#3a3a3a" text-anchor="end">0.4</text>
<line x1="249.4" y1="493.14" x2="255" y2="493.14" stroke="#1a1a1a" stroke-width="0.9"/>
<text x="243.3" y="496.14" font-size="8.3" fill="#3a3a3a" text-anchor="end">0.6</text>
<line x1="249.4" y1="474" x2="255" y2="474" stroke="#1a1a1a" stroke-width="0.9"/>
<text x="243.3" y="477" font-size="8.3" fill="#3a3a3a" text-anchor="end">0.8</text>
<line x1="260.5" y1="633.8" x2="260.5" y2="638.8" stroke="#1a1a1a" stroke-width="1"/>
<text x="260.3" y="652.3" font-size="8.3" fill="#3a3a3a" text-anchor="middle">−270</text>
<line x1="295.5" y1="633.8" x2="295.5" y2="638.8" stroke="#1a1a1a" stroke-width="1"/>
<text x="295.3" y="652.3" font-size="8.3" fill="#3a3a3a" text-anchor="middle">−260</text>
<line x1="331.5" y1="633.8" x2="331.5" y2="638.8" stroke="#1a1a1a" stroke-width="1"/>
<text x="331.3" y="652.3" font-size="8.3" fill="#3a3a3a" text-anchor="middle">−250</text>
<line x1="366.5" y1="633.8" x2="366.5" y2="638.8" stroke="#1a1a1a" stroke-width="1"/>
<text x="366.3" y="652.3" font-size="8.3" fill="#3a3a3a" text-anchor="middle">−240</text>
<line x1="402.5" y1="633.8" x2="402.5" y2="638.8" stroke="#1a1a1a" stroke-width="1"/>
<text x="402.3" y="652.3" font-size="8.3" fill="#3a3a3a" text-anchor="middle">−230</text>
<text transform="translate(221.2 550.55) rotate(-90)" font-size="8.6" fill="#3a3a3a" text-anchor="middle">Rates (events/Ma/lineage)</text>
<text transform="translate(219 461.2) scale(0.88 1)" font-size="8.8" font-weight="bold" fill="#111">h</text>
</g>
<g>
<rect x="506.26" y="468.1" width="6.84" height="159" fill="#fdebcf"/>
<rect x="513.71" y="468.1" width="26.06" height="159" fill="#f4f4f5"/>
<rect x="556.43" y="468.1" width="36.16" height="159" fill="#f4f4f5"/>
<rect x="601.09" y="468.1" width="9.04" height="159" fill="#fdebcf"/>
<clipPath id="clip_i"><rect x="470" y="468.1" width="153" height="159"/></clipPath>
<g clip-path="url(#clip_i)">
<path d="M470.1 489.05 L470.69 488.2 L471.27 481.99 L471.85 490.04 L472.44 483.49 L473.02 488.62 L473.61 485.03 L474.19 486.02 L474.77 485.44 L475.36 481.79 L475.94 486.49 L476.53 483.39 L477.11 475.21 L477.69 482.55 L478.28 489.06 L478.86 489.53 L479.45 487.34 L480.03 485.95 L480.61 491.18 L481.2 492.61 L481.78 487.37 L482.36 493.93 L482.95 495.75 L483.53 491.33 L484.12 496.93 L484.7 494.44 L485.28 492.53 L485.87 489.62 L486.45 490.49 L487.04 489.3 L487.62 495.62 L488.2 494.13 L488.79 491.78 L489.37 493.2 L489.96 485.61 L490.54 498.22 L491.12 500.26 L491.71 501.42 L492.29 507.81 L492.88 507.32 L493.46 516.82 L494.04 523.05 L494.63 524.81 L495.21 530.78 L495.8 534.95 L496.38 538.59 L496.96 545.08 L497.55 546.62 L498.13 549.47 L498.72 556.74 L499.3 557.84 L499.88 562.74 L500.47 565.88 L501.05 568.05 L501.64 571.19 L502.22 571.21 L502.8 575.2 L503.39 574.1 L503.97 575.08 L504.55 574.16 L505.14 568.84 L505.72 572.51 L506.31 571.64 L506.89 571.88 L507.47 571.9 L508.06 568.06 L508.64 566.15 L509.23 568.85 L509.81 566.92 L510.39 564.85 L510.98 562.94 L511.56 567.06 L512.15 564.13 L512.73 558.06 L513.31 557.35 L513.9 559.42 L514.48 554.6 L515.07 540.81 L515.65 552.27 L516.23 549.45 L516.82 555 L517.4 553.99 L517.99 551.82 L518.57 559.55 L519.15 557.91 L519.74 561.79 L520.32 563.58 L520.91 562.32 L521.49 562.79 L522.07 564.57 L522.66 563.65 L523.24 562.9 L523.82 568.05 L524.41 567.16 L524.99 565.82 L525.58 570.49 L526.16 568.11 L526.74 572.97 L527.33 572.07 L527.91 573.32 L528.5 571.24 L529.08 560.04 L529.66 546.12 L530.25 535.96 L530.83 524.32 L531.42 512.11 L532 506.25 L532.58 505.71 L533.17 506.39 L533.75 503.05 L534.34 500.19 L534.92 503.06 L535.5 474.21 L536.09 497.57 L536.67 497.98 L537.26 497.36 L537.84 499.73 L538.42 505.52 L539.01 510.29 L539.59 520 L540.18 531.84 L540.76 547.92 L541.34 565.64 L541.93 584.3 L542.51 602.16 L543.09 613.41 L543.68 615.89 L544.26 615.66 L544.85 615.8 L545.43 616.18 L546.01 616.65 L546.6 616.47 L547.18 616.02 L547.77 615.67 L548.35 616.67 L548.93 616.04 L549.52 614.57 L550.1 610.79 L550.69 606.59 L551.27 602.26 L551.85 596.83 L552.44 594.97 L553.02 588.28 L553.61 586.33 L554.19 585.33 L554.77 585.51 L555.36 583.41 L555.94 581.81 L556.53 579.21 L557.11 582.51 L557.69 580.93 L558.28 579.2 L558.86 580.01 L559.45 580.18 L560.03 576.76 L560.61 578.46 L561.2 576.74 L561.78 570.89 L562.36 574.19 L562.95 575.99 L563.53 574.92 L564.12 574.49 L564.7 576.05 L565.28 575.83 L565.87 575.74 L566.45 580.06 L567.04 580.19 L567.62 580.92 L568.2 579.23 L568.79 580.73 L569.37 580.35 L569.96 581.8 L570.54 578.86 L571.12 570.84 L571.71 559.95 L572.29 560.55 L572.88 553.25 L573.46 551.25 L574.04 546.07 L574.63 538.81 L575.21 536.04 L575.8 530.99 L576.38 529.87 L576.96 527.69 L577.55 526.08 L578.13 526.39 L578.72 525.48 L579.3 524.33 L579.88 520.72 L580.47 523.91 L581.05 523.39 L581.64 522.74 L582.22 520.68 L582.8 520.38 L583.39 518.88 L583.97 518.4 L584.55 515.55 L585.14 518.33 L585.72 514.29 L586.31 507.27 L586.89 514.1 L587.47 515.51 L588.06 510 L588.64 514.7 L589.23 516.91 L589.81 517.44 L590.39 515.38 L590.98 513.45 L591.56 513.81 L592.15 517.27 L592.73 515.76 L593.31 518.83 L593.9 522.01 L594.48 511.83 L595.07 521.78 L595.65 532.62 L596.23 535.84 L596.82 545.34 L597.4 553.23 L597.99 557.39 L598.57 562.15 L599.15 565.48 L599.74 561.85 L600.32 568.25 L600.91 564.35 L601.49 564.59 L602.07 565.8 L602.66 562.61 L603.24 566.95 L603.82 566.33 L604.41 562.47 L604.99 561.73 L605.58 565.04 L606.16 561.34 L606.74 557.19 L607.33 561.44 L607.91 562.68 L608.5 563.74 L609.08 561.41 L609.66 560.15 L610.25 563.08 L610.83 559.01 L611.42 563.96 L612 559.1 L612.58 560.6 L613.17 561.51 L613.75 558.2 L614.34 557.55 L614.92 556.04 L615.5 557.07 L616.09 554.27 L616.67 553.38 L617.26 555.68 L617.84 556.57 L618.42 553.37 L619.01 551.85 L619.59 557.38 L620.18 555.96 L620.76 550.34 L621.34 539.26 L621.93 544.16 L622.51 530.92 L622.51 580.19 L621.93 579.72 L621.34 582.96 L620.76 582.55 L620.18 578.73 L619.59 575.48 L619.01 578.75 L618.42 578.87 L617.84 586.27 L617.26 577.06 L616.67 575.99 L616.09 575.18 L615.5 572.62 L614.92 570.64 L614.34 576.4 L613.75 571.27 L613.17 573.69 L612.58 579.93 L612 572.83 L611.42 571.99 L610.83 574.95 L610.25 576.93 L609.66 574.8 L609.08 572.5 L608.5 576.31 L607.91 573.32 L607.33 574.88 L606.74 572.39 L606.16 576.46 L605.58 575.86 L604.99 574.98 L604.41 575.69 L603.82 574.62 L603.24 574.7 L602.66 577.89 L602.07 573.48 L601.49 578.81 L600.91 576.68 L600.32 577.31 L599.74 578.09 L599.15 578.69 L598.57 577.09 L597.99 577.87 L597.4 574.19 L596.82 572.62 L596.23 567.85 L595.65 565.51 L595.07 553.91 L594.48 548.69 L593.9 540.6 L593.31 536.65 L592.73 531.8 L592.15 531.47 L591.56 528.66 L590.98 529.68 L590.39 530.32 L589.81 531.72 L589.23 531.63 L588.64 528.74 L588.06 527.64 L587.47 524.89 L586.89 529.75 L586.31 526.71 L585.72 529.35 L585.14 532.97 L584.55 533.62 L583.97 533.74 L583.39 532.22 L582.8 531.21 L582.22 534.98 L581.64 531.89 L581.05 535.2 L580.47 537.92 L579.88 541.53 L579.3 537.63 L578.72 538.95 L578.13 544.37 L577.55 548 L576.96 548.95 L576.38 552.98 L575.8 556.83 L575.21 562.82 L574.63 565.07 L574.04 573.1 L573.46 575.46 L572.88 581.08 L572.29 588 L571.71 589.5 L571.12 592.07 L570.54 592.68 L569.96 591.7 L569.37 594.24 L568.79 591.48 L568.2 594.17 L567.62 590.22 L567.04 589.51 L566.45 589.25 L565.87 587.17 L565.28 587.82 L564.7 592.37 L564.12 587.57 L563.53 586.88 L562.95 583.33 L562.36 585.31 L561.78 590.82 L561.2 586.2 L560.61 587.76 L560.03 587.49 L559.45 586.41 L558.86 590.81 L558.28 589.8 L557.69 589.12 L557.11 592.71 L556.53 594.11 L555.94 593.31 L555.36 595.79 L554.77 596.14 L554.19 599.31 L553.61 604.26 L553.02 606.67 L552.44 612.84 L551.85 613.85 L551.27 618.7 L550.69 618.21 L550.1 618.29 L549.52 618.49 L548.93 617.94 L548.35 618.37 L547.77 618.66 L547.18 619.29 L546.6 618.4 L546.01 617.98 L545.43 618.29 L544.85 617.9 L544.26 618.54 L543.68 618.37 L543.09 618.64 L542.51 617.92 L541.93 617.51 L541.34 615.87 L540.76 606.38 L540.18 592.91 L539.59 574.01 L539.01 559.72 L538.42 540.1 L537.84 533.55 L537.26 529.97 L536.67 528 L536.09 525.6 L535.5 521.36 L534.92 522.68 L534.34 525.17 L533.75 525.15 L533.17 531.31 L532.58 544.7 L532 548.89 L531.42 560.57 L530.83 578.75 L530.25 584.71 L529.66 584.54 L529.08 584.08 L528.5 585.88 L527.91 583.48 L527.33 585.07 L526.74 584.82 L526.16 584.33 L525.58 580.74 L524.99 581.41 L524.41 579.22 L523.82 578.92 L523.24 581.01 L522.66 574.84 L522.07 578.5 L521.49 572.97 L520.91 573.46 L520.32 576.81 L519.74 573.26 L519.15 573.4 L518.57 572.72 L517.99 575.36 L517.4 572 L516.82 571.22 L516.23 566.35 L515.65 575.48 L515.07 570.71 L514.48 574.24 L513.9 575.87 L513.31 576.59 L512.73 574.8 L512.15 575.08 L511.56 574.42 L510.98 573.1 L510.39 576.53 L509.81 576.3 L509.23 578.28 L508.64 578.31 L508.06 581.25 L507.47 579.45 L506.89 579.51 L506.31 582.8 L505.72 579.87 L505.14 584.18 L504.55 582.02 L503.97 581.27 L503.39 583.95 L502.8 582.12 L502.22 581.69 L501.64 581.28 L501.05 582.4 L500.47 578.11 L499.88 575.31 L499.3 575.17 L498.72 572.68 L498.13 570.73 L497.55 565.67 L496.96 563.3 L496.38 558.74 L495.8 556.52 L495.21 552.2 L494.63 547.99 L494.04 542.96 L493.46 539.49 L492.88 536.53 L492.29 528.07 L491.71 527.06 L491.12 520.13 L490.54 516.09 L489.96 513.72 L489.37 514.91 L488.79 511.83 L488.2 510.07 L487.62 509.71 L487.04 511.39 L486.45 509.27 L485.87 508.81 L485.28 509.47 L484.7 506.91 L484.12 507.72 L483.53 509.49 L482.95 510.48 L482.36 506.01 L481.78 508.07 L481.2 504.99 L480.61 506.05 L480.03 501.44 L479.45 503.8 L478.86 500.46 L478.28 501.47 L477.69 499.56 L477.11 501.18 L476.53 497.75 L475.94 498.9 L475.36 500.99 L474.77 499.33 L474.19 500.91 L473.61 497.6 L473.02 498.49 L472.44 503 L471.85 507.77 L471.27 502.8 L470.69 501.69 L470.1 501.51Z" fill="#2fb26a" fill-opacity="0.5"/>
</g>
<line x1="539.76" y1="476.4" x2="539.76" y2="619.9" stroke="#e8202c" stroke-width="1.9" stroke-linecap="round" stroke-dasharray="5.6 7.35"/>
<g clip-path="url(#clip_i)">
<path d="M470.1 495.85 L470.8 495.32 L471.5 494.74 L472.2 493.59 L472.91 493.41 L473.61 492.72 L474.31 492.24 L475.01 491.64 L475.71 491.51 L476.41 491.52 L477.11 492.05 L477.81 492.93 L478.51 493.43 L479.21 494.52 L479.91 496.04 L480.61 496.99 L481.31 498.29 L482.01 499.68 L482.72 500.1 L483.42 500.57 L484.12 501.44 L484.82 500.85 L485.52 500.47 L486.22 500 L486.92 499.83 L487.62 498.93 L488.32 500.4 L489.02 501.27 L489.72 504.35 L490.42 507.33 L491.12 511.16 L491.82 515.08 L492.53 520.62 L493.23 526.06 L493.93 531.22 L494.63 536.37 L495.33 541.77 L496.03 546.68 L496.73 551.35 L497.43 556.13 L498.13 560.59 L498.83 564.21 L499.53 567.65 L500.23 571.15 L500.93 573.67 L501.64 576.42 L502.34 577.57 L503.04 578.69 L503.74 578.15 L504.44 578 L505.14 577.77 L505.84 577.61 L506.54 577.78 L507.24 576.7 L507.94 575.2 L508.64 573.49 L509.34 572.24 L510.04 571.21 L510.74 570.72 L511.45 570.32 L512.15 570.9 L512.85 570.28 L513.55 568.52 L514.25 566.95 L514.95 564.38 L515.65 563.77 L516.35 562.24 L517.05 563.63 L517.75 564.47 L518.45 566.23 L519.15 567.15 L519.85 568.06 L520.55 568.64 L521.26 569.44 L521.96 569.84 L522.66 570.88 L523.36 571.75 L524.06 572.5 L524.76 574.08 L525.46 574.86 L526.16 575.95 L526.86 577.2 L527.56 578.89 L528.26 579.63 L528.96 579.24 L529.66 572.56 L530.36 558.78 L531.07 542.34 L531.77 528.84 L532.47 519.81 L533.17 517.46 L533.87 517.14 L534.57 516.14 L535.27 513.46 L535.97 512.07 L536.67 511.89 L537.37 512.93 L538.07 518.6 L538.77 527.3 L539.47 540.6 L540.18 559.91 L540.88 581.5 L541.58 602.73 L542.28 614.9 L542.98 617.14 L543.68 616.98 L544.38 617.17 L545.08 617.39 L545.78 617.66 L546.48 617.5 L547.18 617.5 L547.88 617.7 L548.58 617.17 L549.28 617.36 L549.99 616.93 L550.69 614.12 L551.39 609.65 L552.09 603.96 L552.79 600.28 L553.49 595.66 L554.19 592.51 L554.89 590.16 L555.59 588.18 L556.29 587.06 L556.99 585.83 L557.69 585.03 L558.39 584.65 L559.09 583.38 L559.8 582.84 L560.5 582.25 L561.2 580.83 L561.9 580.75 L562.6 579.79 L563.3 580.15 L564 580 L564.7 581.06 L565.4 582.21 L566.1 583.28 L566.8 585.14 L567.5 586.22 L568.2 587.55 L568.91 587.98 L569.61 588.23 L570.31 587.16 L571.01 585.31 L571.71 580.5 L572.41 573.47 L573.11 567.06 L573.81 560.04 L574.51 552.76 L575.21 547.36 L575.91 542.38 L576.61 539.41 L577.31 536.25 L578.01 534.52 L578.72 532.79 L579.42 531.01 L580.12 529.75 L580.82 528.11 L581.52 526.98 L582.22 526.07 L582.92 525.43 L583.62 524.48 L584.32 523.84 L585.02 522.68 L585.72 521.76 L586.42 520.92 L587.12 520.31 L587.82 519.65 L588.53 520.79 L589.23 521.85 L589.93 522.73 L590.63 524 L591.33 524.45 L592.03 525.4 L592.73 525.78 L593.43 527.22 L594.13 529.22 L594.83 536.67 L595.53 544.4 L596.23 553.7 L596.93 562.2 L597.64 567.02 L598.34 570.74 L599.04 571.67 L599.74 571.5 L600.44 571.04 L601.14 571.11 L601.84 570.12 L602.54 570.16 L603.24 569.47 L603.94 569.24 L604.64 568.78 L605.34 568.44 L606.04 568.72 L606.74 567.82 L607.45 566.76 L608.15 567.6 L608.85 568.25 L609.55 567.82 L610.25 567.52 L610.95 567.79 L611.65 567.09 L612.35 567.18 L613.05 566.63 L613.75 566.46 L614.45 566.01 L615.15 565.69 L615.85 565.2 L616.55 564.51 L617.26 565.03 L617.96 565.36 L618.66 565.39 L619.36 564.83 L620.06 564.88 L620.76 562.66 L621.46 560.49 L622.16 557.88 L622.63 556.26" fill="none" stroke="#10a055" stroke-width="1.9" stroke-linejoin="round" stroke-linecap="round"/>
</g>
<text transform="translate(539.56 467.2) scale(1 1.18)" font-size="5.7" fill="#f06a72" text-anchor="middle">P/T</text>
<text transform="translate(511.75 626.4) rotate(-90) scale(1 1.2)" font-size="5.3" fill="#5e5238" text-anchor="start">GEE</text>
<text transform="translate(608 626.4) rotate(-90) scale(1 1.2)" font-size="5.3" fill="#5e5238" text-anchor="start">CPE</text>
<rect x="469" y="627.5" width="17.79" height="6.3" fill="#f09e8a"/>
<rect x="486.59" y="627.5" width="9.49" height="6.3" fill="#f0a08c"/>
<rect x="495.88" y="627.5" width="17.11" height="6.3" fill="#f3aa97"/>
<rect x="512.79" y="627.5" width="19.24" height="6.3" fill="#f6bcad"/>
<rect x="531.82" y="627.5" width="8.14" height="6.3" fill="#f8c9bc"/>
<rect x="539.76" y="627.5" width="2.68" height="6.3" fill="#98529f"/>
<rect x="542.25" y="627.5" width="14.38" height="6.3" fill="#b06bb1"/>
<rect x="556.43" y="627.5" width="18.63" height="6.3" fill="#c08cc3"/>
<rect x="574.86" y="627.5" width="17.93" height="6.3" fill="#c79bca"/>
<rect x="592.59" y="627.5" width="30.61" height="6.3" fill="#c7a8d4"/>
<text x="476.29" y="633.3" font-size="7.2" fill="#3a1c24" fill-opacity="0.72" text-anchor="middle">Ro</text>
<line x1="486.59" y1="627.7" x2="486.59" y2="633.8" stroke="#3a2030" stroke-opacity="0.88" stroke-width="0.85"/>
<text x="489.73" y="633.3" font-size="7.2" fill="#3a1c24" fill-opacity="0.72" text-anchor="middle">W</text>
<line x1="495.88" y1="627.7" x2="495.88" y2="633.8" stroke="#3a2030" stroke-opacity="0.88" stroke-width="0.85"/>
<text x="502.83" y="633.3" font-size="7.2" fill="#3a1c24" fill-opacity="0.72" text-anchor="middle">Ca</text>
<line x1="512.79" y1="627.7" x2="512.79" y2="633.8" stroke="#3a2030" stroke-opacity="0.88" stroke-width="0.85"/>
<text x="520.81" y="633.3" font-size="7.2" fill="#3a1c24" fill-opacity="0.72" text-anchor="middle">Wu</text>
<line x1="531.82" y1="627.7" x2="531.82" y2="633.8" stroke="#3a2030" stroke-opacity="0.88" stroke-width="0.85"/>
<text x="534.29" y="633.3" font-size="7.2" fill="#3a1c24" fill-opacity="0.72" text-anchor="middle">C</text>
<line x1="539.76" y1="627.7" x2="539.76" y2="633.8" stroke="#3a2030" stroke-opacity="0.88" stroke-width="0.85"/>
<line x1="542.25" y1="627.7" x2="542.25" y2="633.8" stroke="#3a2030" stroke-opacity="0.88" stroke-width="0.85"/>
<text x="547.84" y="633.3" font-size="7.2" fill="#3a1c24" fill-opacity="0.72" text-anchor="middle">Ol</text>
<line x1="556.43" y1="627.7" x2="556.43" y2="633.8" stroke="#3a2030" stroke-opacity="0.88" stroke-width="0.85"/>
<text x="564.14" y="633.3" font-size="7.2" fill="#3a1c24" fill-opacity="0.72" text-anchor="middle">An</text>
<line x1="574.86" y1="627.7" x2="574.86" y2="633.8" stroke="#3a2030" stroke-opacity="0.88" stroke-width="0.85"/>
<text x="582.22" y="633.3" font-size="7.2" fill="#3a1c24" fill-opacity="0.72" text-anchor="middle">La</text>
<line x1="592.59" y1="627.7" x2="592.59" y2="633.8" stroke="#3a2030" stroke-opacity="0.88" stroke-width="0.85"/>
<text x="606.29" y="633.3" font-size="7.2" fill="#3a1c24" fill-opacity="0.72" text-anchor="middle">Car</text>
<line x1="470" y1="627.4" x2="623" y2="627.4" stroke="#5a5560" stroke-opacity="0.7" stroke-width="0.6"/>
<line x1="469" y1="633.8" x2="623" y2="633.8" stroke="#5a5560" stroke-opacity="0.6" stroke-width="0.6"/>
<line x1="469.5" y1="473.5" x2="469.5" y2="627.6" stroke="#222" stroke-width="1.05"/>
<line x1="464.4" y1="627.1" x2="470" y2="627.1" stroke="#1a1a1a" stroke-width="0.9"/>
<text x="458.3" y="630.1" font-size="8.3" fill="#3a3a3a" text-anchor="end">0</text>
<line x1="464.4" y1="596.48" x2="470" y2="596.48" stroke="#1a1a1a" stroke-width="0.9"/>
<text x="458.3" y="599.48" font-size="8.3" fill="#3a3a3a" text-anchor="end">10</text>
<line x1="464.4" y1="565.86" x2="470" y2="565.86" stroke="#1a1a1a" stroke-width="0.9"/>
<text x="458.3" y="568.86" font-size="8.3" fill="#3a3a3a" text-anchor="end">20</text>
<line x1="464.4" y1="535.24" x2="470" y2="535.24" stroke="#1a1a1a" stroke-width="0.9"/>
<text x="458.3" y="538.24" font-size="8.3" fill="#3a3a3a" text-anchor="end">30</text>
<line x1="464.4" y1="504.62" x2="470" y2="504.62" stroke="#1a1a1a" stroke-width="0.9"/>
<text x="458.3" y="507.62" font-size="8.3" fill="#3a3a3a" text-anchor="end">40</text>
<line x1="464.4" y1="474" x2="470" y2="474" stroke="#1a1a1a" stroke-width="0.9"/>
<text x="458.3" y="477" font-size="8.3" fill="#3a3a3a" text-anchor="end">50</text>
<line x1="475.5" y1="633.8" x2="475.5" y2="638.8" stroke="#1a1a1a" stroke-width="1"/>
<text x="475.3" y="652.3" font-size="8.3" fill="#3a3a3a" text-anchor="middle">−270</text>
<line x1="510.5" y1="633.8" x2="510.5" y2="638.8" stroke="#1a1a1a" stroke-width="1"/>
<text x="510.3" y="652.3" font-size="8.3" fill="#3a3a3a" text-anchor="middle">−260</text>
<line x1="546.5" y1="633.8" x2="546.5" y2="638.8" stroke="#1a1a1a" stroke-width="1"/>
<text x="546.3" y="652.3" font-size="8.3" fill="#3a3a3a" text-anchor="middle">−250</text>
<line x1="581.5" y1="633.8" x2="581.5" y2="638.8" stroke="#1a1a1a" stroke-width="1"/>
<text x="581.3" y="652.3" font-size="8.3" fill="#3a3a3a" text-anchor="middle">−240</text>
<line x1="617.5" y1="633.8" x2="617.5" y2="638.8" stroke="#1a1a1a" stroke-width="1"/>
<text x="617.3" y="652.3" font-size="8.3" fill="#3a3a3a" text-anchor="middle">−230</text>
<text transform="translate(436.3 550.55) rotate(-90)" font-size="8.6" fill="#3a3a3a" text-anchor="middle">Number of lineages</text>
<text transform="translate(434 461.2) scale(0.88 1)" font-size="8.8" font-weight="bold" fill="#111">i</text>
</g>
<g>
<rect x="76.26" y="695.3" width="6.84" height="159" fill="#fdebcf"/>
<rect x="83.71" y="695.3" width="26.06" height="159" fill="#f4f4f5"/>
<rect x="126.43" y="695.3" width="36.16" height="159" fill="#f4f4f5"/>
<rect x="171.09" y="695.3" width="9.04" height="159" fill="#fdebcf"/>
<clipPath id="clip_j"><rect x="40" y="695.3" width="153" height="159"/></clipPath>
<g clip-path="url(#clip_j)">
<path d="M38 831.21 L61.36 831.21 L84.72 830.28 L88.22 828.41 L90.55 822.8 L92.89 813.46 L95.23 804.12 L98.26 797.11 L102.23 792.44 L106.91 788.93 L110.41 786.6 L113.21 784.26 L116.25 771.42 L119.28 757.4 L122.09 750.39 L125.59 748.06 L130.26 747.59 L131.9 745.72 L132.6 715.36 L133.07 687.33 L148.95 687.33 L149.18 724.7 L150.58 743.39 L152.45 760.2 L154.32 773.75 L156.19 784.26 L157.82 789.87 L161.8 792.44 L165.3 797.11 L168.8 808.79 L172.31 822.8 L175.81 829.81 L182.82 832.15 L198 833.08 L198 844.99 L182.82 843.82 L168.8 845.23 L150.12 846.16 L147.31 844.99 L145.45 837.99 L140.77 837.99 L131.43 839.62 L117.42 839.15 L108.07 841.49 L94.06 843.12 L84.72 841.72 L61.36 841.49 L38 841.49Z" fill="#4b57a8" fill-opacity="0.28"/>
<path d="M38 836.82 L61.36 836.82 L84.72 836.35 L98.73 835.42 L108.07 834.72 L113.91 834.01 L116.95 832.85 L118.35 829.81 L119.28 822.8 L119.99 811.12 L120.92 801.78 L122.09 797.11 L123.49 794.77 L125.59 793.84 L130.26 793.84 L132.36 792.44 L133.77 787.77 L135.17 780.76 L137.04 774.92 L139.37 771.42 L141.24 769.08 L143.11 768.38 L144.98 768.61 L146.15 771.42 L147.08 780.76 L148.01 794.77 L149.18 813.46 L150.35 825.14 L151.75 831.21 L153.85 833.55 L158.29 834.95 L168.8 836.12 L182.82 836.82 L198 836.82" fill="none" stroke="#4b57a8" stroke-width="1.6" stroke-linejoin="round" stroke-linecap="round"/>
<path d="M38 815.33 L47.34 814.39 L56.69 813.46 L66.03 812.53 L75.37 810.19 L84.72 807.85 L94.06 806.45 L103.4 805.75 L112.74 805.52 L124.42 804.58 L131.43 801.78 L132.36 780.76 L133.07 750.39 L133.3 687.33 L140.31 687.33 L140.54 750.39 L141.71 771.42 L144.28 785.43 L147.78 792.44 L154.79 792.91 L158.29 790.1 L160.63 788.23 L162.96 788.7 L165.3 794.77 L168.8 804.12 L173.47 811.12 L182.82 812.99 L198 813.46 L198 839.15 L173.47 839.62 L164.13 839.62 L154.79 839.62 L146.61 838.69 L145.45 832.15 L141.94 832.15 L140.77 837.28 L131.43 837.75 L117.42 837.75 L103.4 838.22 L84.72 838.22 L61.36 837.75 L38 837.28Z" fill="#e2492d" fill-opacity="0.28"/>
</g>
<line x1="109.76" y1="703.6" x2="109.76" y2="847.1" stroke="#e8202c" stroke-width="1.9" stroke-linecap="round" stroke-dasharray="5.6 8.65"/>
<g clip-path="url(#clip_j)">
<path d="M38 826.54 L45.01 825.84 L56.69 824.2 L68.36 822.8 L77.71 821.87 L96.39 821.4 L112.74 821.4 L124.42 820.93 L130.26 820.47 L133.77 819.53 L136.1 819.07 L139.61 819.53 L143.11 820.23 L150.12 820.7 L159.46 820.7 L165.3 821.4 L173.47 822.8 L182.82 823.74 L198 824.44" fill="none" stroke="#e2492d" stroke-width="1.6" stroke-linejoin="round" stroke-linecap="round"/>
</g>
<g clip-path="url(#clip_j)">
</g>
<text transform="translate(109.56 694.4) scale(1 1.18)" font-size="5.7" fill="#f06a72" text-anchor="middle">P/T</text>
<text transform="translate(81.75 853.6) rotate(-90) scale(1 1.2)" font-size="5.3" fill="#5e5238" text-anchor="start">GEE</text>
<text transform="translate(178 853.6) rotate(-90) scale(1 1.2)" font-size="5.3" fill="#5e5238" text-anchor="start">CPE</text>
<rect x="39" y="854.7" width="17.79" height="6.3" fill="#f09e8a"/>
<rect x="56.59" y="854.7" width="9.49" height="6.3" fill="#f0a08c"/>
<rect x="65.88" y="854.7" width="17.11" height="6.3" fill="#f3aa97"/>
<rect x="82.79" y="854.7" width="19.24" height="6.3" fill="#f6bcad"/>
<rect x="101.82" y="854.7" width="8.14" height="6.3" fill="#f8c9bc"/>
<rect x="109.76" y="854.7" width="2.68" height="6.3" fill="#98529f"/>
<rect x="112.25" y="854.7" width="14.38" height="6.3" fill="#b06bb1"/>
<rect x="126.43" y="854.7" width="18.63" height="6.3" fill="#c08cc3"/>
<rect x="144.86" y="854.7" width="17.93" height="6.3" fill="#c79bca"/>
<rect x="162.59" y="854.7" width="30.61" height="6.3" fill="#c7a8d4"/>
<text x="46.29" y="860.5" font-size="7.2" fill="#3a1c24" fill-opacity="0.72" text-anchor="middle">Ro</text>
<line x1="56.59" y1="854.9" x2="56.59" y2="861" stroke="#3a2030" stroke-opacity="0.88" stroke-width="0.85"/>
<text x="59.73" y="860.5" font-size="7.2" fill="#3a1c24" fill-opacity="0.72" text-anchor="middle">W</text>
<line x1="65.88" y1="854.9" x2="65.88" y2="861" stroke="#3a2030" stroke-opacity="0.88" stroke-width="0.85"/>
<text x="72.83" y="860.5" font-size="7.2" fill="#3a1c24" fill-opacity="0.72" text-anchor="middle">Ca</text>
<line x1="82.79" y1="854.9" x2="82.79" y2="861" stroke="#3a2030" stroke-opacity="0.88" stroke-width="0.85"/>
<text x="90.81" y="860.5" font-size="7.2" fill="#3a1c24" fill-opacity="0.72" text-anchor="middle">Wu</text>
<line x1="101.82" y1="854.9" x2="101.82" y2="861" stroke="#3a2030" stroke-opacity="0.88" stroke-width="0.85"/>
<text x="104.29" y="860.5" font-size="7.2" fill="#3a1c24" fill-opacity="0.72" text-anchor="middle">C</text>
<line x1="109.76" y1="854.9" x2="109.76" y2="861" stroke="#3a2030" stroke-opacity="0.88" stroke-width="0.85"/>
<line x1="112.25" y1="854.9" x2="112.25" y2="861" stroke="#3a2030" stroke-opacity="0.88" stroke-width="0.85"/>
<text x="117.84" y="860.5" font-size="7.2" fill="#3a1c24" fill-opacity="0.72" text-anchor="middle">Ol</text>
<line x1="126.43" y1="854.9" x2="126.43" y2="861" stroke="#3a2030" stroke-opacity="0.88" stroke-width="0.85"/>
<text x="134.14" y="860.5" font-size="7.2" fill="#3a1c24" fill-opacity="0.72" text-anchor="middle">An</text>
<line x1="144.86" y1="854.9" x2="144.86" y2="861" stroke="#3a2030" stroke-opacity="0.88" stroke-width="0.85"/>
<text x="152.22" y="860.5" font-size="7.2" fill="#3a1c24" fill-opacity="0.72" text-anchor="middle">La</text>
<line x1="162.59" y1="854.9" x2="162.59" y2="861" stroke="#3a2030" stroke-opacity="0.88" stroke-width="0.85"/>
<text x="176.29" y="860.5" font-size="7.2" fill="#3a1c24" fill-opacity="0.72" text-anchor="middle">Car</text>
<line x1="40" y1="854.6" x2="193" y2="854.6" stroke="#5a5560" stroke-opacity="0.7" stroke-width="0.6"/>
<line x1="39" y1="861" x2="193" y2="861" stroke="#5a5560" stroke-opacity="0.6" stroke-width="0.6"/>
<line x1="39.5" y1="700.7" x2="39.5" y2="854.8" stroke="#222" stroke-width="1.05"/>
<line x1="34.4" y1="854.3" x2="40" y2="854.3" stroke="#1a1a1a" stroke-width="0.9"/>
<text x="28.3" y="857.3" font-size="8.3" fill="#3a3a3a" text-anchor="end">0.0</text>
<line x1="34.4" y1="823.68" x2="40" y2="823.68" stroke="#1a1a1a" stroke-width="0.9"/>
<text x="28.3" y="826.68" font-size="8.3" fill="#3a3a3a" text-anchor="end">0.2</text>
<line x1="34.4" y1="793.06" x2="40" y2="793.06" stroke="#1a1a1a" stroke-width="0.9"/>
<text x="28.3" y="796.06" font-size="8.3" fill="#3a3a3a" text-anchor="end">0.4</text>
<line x1="34.4" y1="762.44" x2="40" y2="762.44" stroke="#1a1a1a" stroke-width="0.9"/>
<text x="28.3" y="765.44" font-size="8.3" fill="#3a3a3a" text-anchor="end">0.6</text>
<line x1="34.4" y1="731.82" x2="40" y2="731.82" stroke="#1a1a1a" stroke-width="0.9"/>
<text x="28.3" y="734.82" font-size="8.3" fill="#3a3a3a" text-anchor="end">0.8</text>
<line x1="34.4" y1="701.2" x2="40" y2="701.2" stroke="#1a1a1a" stroke-width="0.9"/>
<text x="28.3" y="704.2" font-size="8.3" fill="#3a3a3a" text-anchor="end">1.0</text>
<line x1="45.5" y1="861" x2="45.5" y2="866" stroke="#1a1a1a" stroke-width="1"/>
<text x="45.3" y="879.5" font-size="8.3" fill="#3a3a3a" text-anchor="middle">−270</text>
<line x1="80.5" y1="861" x2="80.5" y2="866" stroke="#1a1a1a" stroke-width="1"/>
<text x="80.3" y="879.5" font-size="8.3" fill="#3a3a3a" text-anchor="middle">−260</text>
<line x1="116.5" y1="861" x2="116.5" y2="866" stroke="#1a1a1a" stroke-width="1"/>
<text x="116.3" y="879.5" font-size="8.3" fill="#3a3a3a" text-anchor="middle">−250</text>
<line x1="151.5" y1="861" x2="151.5" y2="866" stroke="#1a1a1a" stroke-width="1"/>
<text x="151.3" y="879.5" font-size="8.3" fill="#3a3a3a" text-anchor="middle">−240</text>
<line x1="187.5" y1="861" x2="187.5" y2="866" stroke="#1a1a1a" stroke-width="1"/>
<text x="187.3" y="879.5" font-size="8.3" fill="#3a3a3a" text-anchor="middle">−230</text>
<text transform="translate(6.2 777.75) rotate(-90)" font-size="8.6" fill="#3a3a3a" text-anchor="middle">Rates (events/Ma/lineage)</text>
<text transform="translate(4 688.4) scale(0.88 1)" font-size="8.8" font-weight="bold" fill="#111">j</text>
</g>
<g>
<rect x="291.26" y="695.3" width="6.84" height="159" fill="#fdebcf"/>
<rect x="298.71" y="695.3" width="26.06" height="159" fill="#f4f4f5"/>
<rect x="341.43" y="695.3" width="36.16" height="159" fill="#f4f4f5"/>
<rect x="386.09" y="695.3" width="9.04" height="159" fill="#fdebcf"/>
<clipPath id="clip_k"><rect x="255" y="695.3" width="153" height="159"/></clipPath>
<g clip-path="url(#clip_k)">
<path d="M253 776.09 L276.36 776.09 L295.04 775.62 L303.22 774.22 L307.19 771.42 L310.23 765.58 L313.73 760.91 L318.4 757.87 L323.07 755.07 L327.74 752.26 L331.25 743.39 L334.75 734.04 L338.26 729.37 L342.93 727.04 L346.43 724.7 L347.6 710.69 L348.77 687.33 L363.95 687.33 L365.12 715.36 L367.45 738.72 L369.79 752.73 L372.12 754.6 L376.8 754.13 L380.3 757.4 L383.8 764.41 L387.31 770.25 L393.15 772.58 L413 773.05 L413 793.84 L397.82 793.84 L388.47 794.77 L384.97 798.28 L381.47 804.12 L378.66 807.62 L374.46 805.28 L369.79 801.78 L365.12 800.61 L363.25 797.11 L361.85 790.1 L360.45 785.43 L358.11 787.77 L355.77 799.45 L353.91 822.8 L352.27 841.49 L350.64 855.5 L348.77 855.5 L347.6 841.49 L346.43 808.79 L345.26 794.77 L341.76 792.44 L337.09 794.77 L332.42 798.28 L323.07 799.91 L307.89 801.78 L299.72 798.28 L290.37 794.77 L276.36 792.91 L253 792.44Z" fill="#8c8c8c" fill-opacity="0.32"/>
</g>
<line x1="324.76" y1="703.6" x2="324.76" y2="847.1" stroke="#e8202c" stroke-width="1.9" stroke-linecap="round" stroke-dasharray="5.6 8.5"/>
<line x1="255" y1="777.5" x2="408" y2="777.5" stroke="#a8242b" stroke-width="1.05" stroke-dasharray="3.88 4.12"/>
<g clip-path="url(#clip_k)">
<path d="M253 783.56 L262.34 783.56 L271.69 784.03 L281.03 784.96 L290.37 785.9 L299.72 786.13 L307.89 785.43 L313.73 783.56 L319.57 781.69 L325.41 780.29 L328.91 778.89 L331.25 776.55 L333.58 772.58 L335.92 767.21 L338.26 763.47 L340.59 762.07 L342.93 762.31 L345.26 763.94 L347.13 766.28 L348.07 767.21 L349 763.24 L350.17 757.4 L351.57 752.26 L353.44 747.59 L355.31 742.22 L356.94 737.55 L358.58 735.21 L360.45 734.74 L361.38 737.55 L362.31 745.72 L363.48 757.4 L365.12 767.91 L366.99 773.75 L369.32 778.42 L371.66 781.93 L374.46 784.96 L377.26 786.6 L379.6 787.07 L381.47 785.43 L383.8 784.73 L393.15 784.5 L413 784.26" fill="none" stroke="#4a4444" stroke-width="1.6" stroke-linejoin="round" stroke-linecap="round"/>
</g>
<text transform="translate(324.56 694.4) scale(1 1.18)" font-size="5.7" fill="#f06a72" text-anchor="middle">P/T</text>
<text transform="translate(296.75 853.6) rotate(-90) scale(1 1.2)" font-size="5.3" fill="#5e5238" text-anchor="start">GEE</text>
<text transform="translate(393 853.6) rotate(-90) scale(1 1.2)" font-size="5.3" fill="#5e5238" text-anchor="start">CPE</text>
<rect x="254" y="854.7" width="17.79" height="6.3" fill="#f09e8a"/>
<rect x="271.59" y="854.7" width="9.49" height="6.3" fill="#f0a08c"/>
<rect x="280.88" y="854.7" width="17.11" height="6.3" fill="#f3aa97"/>
<rect x="297.79" y="854.7" width="19.24" height="6.3" fill="#f6bcad"/>
<rect x="316.82" y="854.7" width="8.14" height="6.3" fill="#f8c9bc"/>
<rect x="324.76" y="854.7" width="2.68" height="6.3" fill="#98529f"/>
<rect x="327.25" y="854.7" width="14.38" height="6.3" fill="#b06bb1"/>
<rect x="341.43" y="854.7" width="18.63" height="6.3" fill="#c08cc3"/>
<rect x="359.86" y="854.7" width="17.93" height="6.3" fill="#c79bca"/>
<rect x="377.59" y="854.7" width="30.61" height="6.3" fill="#c7a8d4"/>
<text x="261.29" y="860.5" font-size="7.2" fill="#3a1c24" fill-opacity="0.72" text-anchor="middle">Ro</text>
<line x1="271.59" y1="854.9" x2="271.59" y2="861" stroke="#3a2030" stroke-opacity="0.88" stroke-width="0.85"/>
<text x="274.73" y="860.5" font-size="7.2" fill="#3a1c24" fill-opacity="0.72" text-anchor="middle">W</text>
<line x1="280.88" y1="854.9" x2="280.88" y2="861" stroke="#3a2030" stroke-opacity="0.88" stroke-width="0.85"/>
<text x="287.83" y="860.5" font-size="7.2" fill="#3a1c24" fill-opacity="0.72" text-anchor="middle">Ca</text>
<line x1="297.79" y1="854.9" x2="297.79" y2="861" stroke="#3a2030" stroke-opacity="0.88" stroke-width="0.85"/>
<text x="305.81" y="860.5" font-size="7.2" fill="#3a1c24" fill-opacity="0.72" text-anchor="middle">Wu</text>
<line x1="316.82" y1="854.9" x2="316.82" y2="861" stroke="#3a2030" stroke-opacity="0.88" stroke-width="0.85"/>
<text x="319.29" y="860.5" font-size="7.2" fill="#3a1c24" fill-opacity="0.72" text-anchor="middle">C</text>
<line x1="324.76" y1="854.9" x2="324.76" y2="861" stroke="#3a2030" stroke-opacity="0.88" stroke-width="0.85"/>
<line x1="327.25" y1="854.9" x2="327.25" y2="861" stroke="#3a2030" stroke-opacity="0.88" stroke-width="0.85"/>
<text x="332.84" y="860.5" font-size="7.2" fill="#3a1c24" fill-opacity="0.72" text-anchor="middle">Ol</text>
<line x1="341.43" y1="854.9" x2="341.43" y2="861" stroke="#3a2030" stroke-opacity="0.88" stroke-width="0.85"/>
<text x="349.14" y="860.5" font-size="7.2" fill="#3a1c24" fill-opacity="0.72" text-anchor="middle">An</text>
<line x1="359.86" y1="854.9" x2="359.86" y2="861" stroke="#3a2030" stroke-opacity="0.88" stroke-width="0.85"/>
<text x="367.22" y="860.5" font-size="7.2" fill="#3a1c24" fill-opacity="0.72" text-anchor="middle">La</text>
<line x1="377.59" y1="854.9" x2="377.59" y2="861" stroke="#3a2030" stroke-opacity="0.88" stroke-width="0.85"/>
<text x="391.29" y="860.5" font-size="7.2" fill="#3a1c24" fill-opacity="0.72" text-anchor="middle">Car</text>
<line x1="255" y1="854.6" x2="408" y2="854.6" stroke="#5a5560" stroke-opacity="0.7" stroke-width="0.6"/>
<line x1="254" y1="861" x2="408" y2="861" stroke="#5a5560" stroke-opacity="0.6" stroke-width="0.6"/>
<line x1="254.5" y1="700.7" x2="254.5" y2="854.8" stroke="#222" stroke-width="1.05"/>
<line x1="249.4" y1="854.3" x2="255" y2="854.3" stroke="#1a1a1a" stroke-width="0.9"/>
<text x="243.3" y="857.3" font-size="8.3" fill="#3a3a3a" text-anchor="end">−0.8</text>
<line x1="249.4" y1="835.16" x2="255" y2="835.16" stroke="#1a1a1a" stroke-width="0.9"/>
<text x="243.3" y="838.16" font-size="8.3" fill="#3a3a3a" text-anchor="end">−0.6</text>
<line x1="249.4" y1="816.02" x2="255" y2="816.02" stroke="#1a1a1a" stroke-width="0.9"/>
<text x="243.3" y="819.02" font-size="8.3" fill="#3a3a3a" text-anchor="end">−0.4</text>
<line x1="249.4" y1="796.89" x2="255" y2="796.89" stroke="#1a1a1a" stroke-width="0.9"/>
<text x="243.3" y="799.89" font-size="8.3" fill="#3a3a3a" text-anchor="end">−0.2</text>
<line x1="249.4" y1="777.75" x2="255" y2="777.75" stroke="#1a1a1a" stroke-width="0.9"/>
<text x="243.3" y="780.75" font-size="8.3" fill="#3a3a3a" text-anchor="end">0.0</text>
<line x1="249.4" y1="758.61" x2="255" y2="758.61" stroke="#1a1a1a" stroke-width="0.9"/>
<text x="243.3" y="761.61" font-size="8.3" fill="#3a3a3a" text-anchor="end">0.2</text>
<line x1="249.4" y1="739.47" x2="255" y2="739.47" stroke="#1a1a1a" stroke-width="0.9"/>
<text x="243.3" y="742.47" font-size="8.3" fill="#3a3a3a" text-anchor="end">0.4</text>
<line x1="249.4" y1="720.34" x2="255" y2="720.34" stroke="#1a1a1a" stroke-width="0.9"/>
<text x="243.3" y="723.34" font-size="8.3" fill="#3a3a3a" text-anchor="end">0.6</text>
<line x1="249.4" y1="701.2" x2="255" y2="701.2" stroke="#1a1a1a" stroke-width="0.9"/>
<text x="243.3" y="704.2" font-size="8.3" fill="#3a3a3a" text-anchor="end">0.8</text>
<line x1="260.5" y1="861" x2="260.5" y2="866" stroke="#1a1a1a" stroke-width="1"/>
<text x="260.3" y="879.5" font-size="8.3" fill="#3a3a3a" text-anchor="middle">−270</text>
<line x1="295.5" y1="861" x2="295.5" y2="866" stroke="#1a1a1a" stroke-width="1"/>
<text x="295.3" y="879.5" font-size="8.3" fill="#3a3a3a" text-anchor="middle">−260</text>
<line x1="331.5" y1="861" x2="331.5" y2="866" stroke="#1a1a1a" stroke-width="1"/>
<text x="331.3" y="879.5" font-size="8.3" fill="#3a3a3a" text-anchor="middle">−250</text>
<line x1="366.5" y1="861" x2="366.5" y2="866" stroke="#1a1a1a" stroke-width="1"/>
<text x="366.3" y="879.5" font-size="8.3" fill="#3a3a3a" text-anchor="middle">−240</text>
<line x1="402.5" y1="861" x2="402.5" y2="866" stroke="#1a1a1a" stroke-width="1"/>
<text x="402.3" y="879.5" font-size="8.3" fill="#3a3a3a" text-anchor="middle">−230</text>
<text transform="translate(221.2 777.75) rotate(-90)" font-size="8.6" fill="#3a3a3a" text-anchor="middle">Rates (events/Ma/lineage)</text>
<text transform="translate(219 688.4) scale(0.88 1)" font-size="8.8" font-weight="bold" fill="#111">k</text>
</g>
<g>
<rect x="506.26" y="695.3" width="6.84" height="159" fill="#fdebcf"/>
<rect x="513.71" y="695.3" width="26.06" height="159" fill="#f4f4f5"/>
<rect x="556.43" y="695.3" width="36.16" height="159" fill="#f4f4f5"/>
<rect x="601.09" y="695.3" width="9.04" height="159" fill="#fdebcf"/>
<clipPath id="clip_l"><rect x="470" y="695.3" width="153" height="159"/></clipPath>
<g clip-path="url(#clip_l)">
<path d="M469.87 737.72 L470.51 737.72 L470.57 737.72 L471.21 737.72 L471.27 737.72 L471.91 737.72 L471.97 737.72 L472.62 737.72 L472.67 737.13 L473.32 737.13 L473.37 736.66 L474.02 736.66 L474.07 735.49 L474.72 735.49 L474.77 732.8 L475.42 732.8 L475.47 732.82 L476.12 732.82 L476.18 732.82 L476.82 732.82 L476.88 735.63 L477.52 735.63 L477.58 738.43 L478.22 738.43 L478.28 737.61 L478.92 737.61 L478.98 738.47 L479.62 738.47 L479.68 737.07 L480.32 737.07 L480.38 732.86 L481.02 732.86 L481.08 732.86 L481.72 732.86 L481.78 732.39 L482.43 732.39 L482.48 733.95 L483.13 733.95 L483.18 736.13 L483.83 736.13 L483.88 733.33 L484.53 733.33 L484.58 730.79 L485.23 730.79 L485.28 728.96 L485.93 728.96 L485.99 726.36 L486.63 726.36 L486.69 727.72 L487.33 727.72 L487.39 730.17 L488.03 730.17 L488.09 730.17 L488.73 730.17 L488.79 733.95 L489.43 733.95 L489.49 741.13 L490.13 741.13 L490.19 748.72 L490.83 748.72 L490.89 756.31 L491.54 756.31 L491.59 765.45 L492.24 765.45 L492.29 771.7 L492.94 771.7 L492.99 776.78 L493.64 776.78 L493.69 781.86 L494.34 781.86 L494.39 780.56 L495.04 780.56 L495.09 780.56 L495.74 780.56 L495.8 780.56 L496.44 780.56 L496.5 780.56 L497.14 780.56 L497.2 777.53 L497.84 777.53 L497.9 773.24 L498.54 773.24 L498.6 769.47 L499.24 769.47 L499.3 768.94 L499.94 768.94 L500 768.42 L500.64 768.42 L500.7 768.2 L501.35 768.2 L501.4 767.68 L502.05 767.68 L502.1 770.57 L502.75 770.57 L502.8 772.14 L503.45 772.14 L503.5 774.43 L504.15 774.43 L504.2 774.43 L504.85 774.43 L504.91 774.91 L505.55 774.91 L505.61 774.91 L506.25 774.91 L506.31 774.91 L506.95 774.91 L507.01 770.81 L507.65 770.81 L507.71 768.88 L508.35 768.88 L508.41 768.53 L509.05 768.53 L509.11 765.16 L509.75 765.16 L509.81 768.08 L510.45 768.08 L510.51 771 L511.16 771 L511.21 773.89 L511.86 773.89 L511.91 779.4 L512.56 779.4 L512.61 783.24 L513.26 783.24 L513.31 789.35 L513.96 789.35 L514.01 791.64 L514.66 791.64 L514.72 792.2 L515.36 792.2 L515.42 792.06 L516.06 792.06 L516.12 794.06 L516.76 794.06 L516.82 796.34 L517.46 796.34 L517.52 798.94 L518.16 798.94 L518.22 799.81 L518.86 799.81 L518.92 800.16 L519.56 800.16 L519.62 800.51 L520.27 800.51 L520.32 801.57 L520.97 801.57 L521.02 803.99 L521.67 803.99 L521.72 805.51 L522.37 805.51 L522.42 807.97 L523.07 807.97 L523.12 808.73 L523.77 808.73 L523.82 809.55 L524.47 809.55 L524.53 809.55 L525.17 809.55 L525.23 809.55 L525.87 809.55 L525.93 809.17 L526.57 809.17 L526.63 812.24 L527.27 812.24 L527.33 813.37 L527.97 813.37 L528.03 813.93 L528.67 813.93 L528.73 814.49 L529.37 814.49 L529.43 814.03 L530.08 814.03 L530.13 816.79 L530.78 816.79 L530.83 820.64 L531.48 820.64 L531.53 823.72 L532.18 823.72 L532.23 824.89 L532.88 824.89 L532.93 826.06 L533.58 826.06 L533.64 827.22 L534.28 827.22 L534.34 827.03 L534.98 827.03 L535.04 827.03 L535.68 827.03 L535.74 827.03 L536.38 827.03 L536.44 827.03 L537.08 827.03 L537.14 826.64 L537.78 826.64 L537.84 825.25 L538.48 825.25 L538.54 822.03 L539.18 822.03 L539.24 822.03 L539.89 822.03 L539.94 821.98 L540.59 821.98 L540.64 821.98 L541.29 821.98 L541.34 822.81 L541.99 822.81 L542.04 822.81 L542.69 822.81 L542.74 822.81 L543.39 822.81 L543.45 822.81 L544.09 822.81 L544.15 824.9 L544.79 824.9 L544.85 829.1 L545.49 829.1 L545.55 829.1 L546.19 829.1 L546.25 829.1 L546.89 829.1 L546.95 828.93 L547.59 828.93 L547.65 828.93 L548.29 828.93 L548.35 828.93 L549 828.93 L549.05 828.96 L549.7 828.96 L549.75 825.13 L550.4 825.13 L550.45 813.66 L551.1 813.66 L551.15 801.24 L551.8 801.24 L551.85 791.69 L552.5 791.69 L552.55 785.97 L553.2 785.97 L553.26 785.97 L553.9 785.97 L553.96 784.85 L554.6 784.85 L554.66 785.99 L555.3 785.99 L555.36 785.99 L556 785.99 L556.06 786.73 L556.7 786.73 L556.76 781.13 L557.4 781.13 L557.46 786.73 L558.1 786.73 L558.16 786.73 L558.81 786.73 L558.86 785.66 L559.51 785.66 L559.56 785.66 L560.21 785.66 L560.26 785.6 L560.91 785.6 L560.96 787.46 L561.61 787.46 L561.66 787.46 L562.31 787.46 L562.36 791.32 L563.01 791.32 L563.07 797.43 L563.71 797.43 L563.77 805.64 L564.41 805.64 L564.47 813.85 L565.11 813.85 L565.17 821.01 L565.81 821.01 L565.87 828.6 L566.51 828.6 L566.57 828.6 L567.21 828.6 L567.27 828.6 L567.91 828.6 L567.97 828.77 L568.62 828.77 L568.67 828.77 L569.32 828.77 L569.37 828.9 L570.02 828.9 L570.07 828.9 L570.72 828.9 L570.77 828.9 L571.42 828.9 L571.47 829.34 L572.12 829.34 L572.18 829.34 L572.82 829.34 L572.88 827.72 L573.52 827.72 L573.58 827.72 L574.22 827.72 L574.28 827.72 L574.92 827.72 L574.98 813.98 L575.62 813.98 L575.68 796.16 L576.32 796.16 L576.38 767.43 L577.02 767.43 L577.08 743.6 L577.72 743.6 L577.78 727.81 L578.43 727.81 L578.48 727.41 L579.13 727.41 L579.18 724.27 L579.83 724.27 L579.88 723.92 L580.53 723.92 L580.58 723.57 L581.23 723.57 L581.28 722.06 L581.93 722.06 L581.99 716.8 L582.63 716.8 L582.69 712.13 L583.33 712.13 L583.39 707.48 L584.03 707.48 L584.09 702.95 L584.73 702.95 L584.79 706.36 L585.43 706.36 L585.49 713.78 L586.13 713.78 L586.19 716.7 L586.83 716.7 L586.89 720.29 L587.54 720.29 L587.59 722.99 L588.24 722.99 L588.29 718.7 L588.94 718.7 L588.99 714.41 L589.64 714.41 L589.69 714.91 L590.34 714.91 L590.39 715.86 L591.04 715.86 L591.09 718.75 L591.74 718.75 L591.8 722.96 L592.44 722.96 L592.5 726.68 L593.14 726.68 L593.2 728.17 L593.84 728.17 L593.9 729.14 L594.54 729.14 L594.6 738.6 L595.24 738.6 L595.3 748.06 L595.94 748.06 L596 757.97 L596.64 757.97 L596.7 768.95 L597.35 768.95 L597.4 778.56 L598.05 778.56 L598.1 788.02 L598.75 788.02 L598.8 794.25 L599.45 794.25 L599.5 798.88 L600.15 798.88 L600.2 797.72 L600.85 797.72 L600.91 798.29 L601.55 798.29 L601.61 798.29 L602.25 798.29 L602.31 798.29 L602.95 798.29 L603.01 798.29 L603.65 798.29 L603.71 798.33 L604.35 798.33 L604.41 798.33 L605.05 798.33 L605.11 798.33 L605.75 798.33 L605.81 797.3 L606.45 797.3 L606.51 797.3 L607.16 797.3 L607.21 797.85 L607.86 797.85 L607.91 797.85 L608.56 797.85 L608.61 795.45 L609.26 795.45 L609.31 794.33 L609.96 794.33 L610.01 797.7 L610.66 797.7 L610.72 798.82 L611.36 798.82 L611.42 798.05 L612.06 798.05 L612.12 798.05 L612.76 798.05 L612.82 798.05 L613.46 798.05 L613.52 798.05 L614.16 798.05 L614.22 795.89 L614.86 795.89 L614.92 795.89 L615.56 795.89 L615.62 795.89 L616.27 795.89 L616.32 798.48 L616.97 798.48 L617.02 798.48 L617.67 798.48 L617.72 798.48 L618.37 798.48 L618.42 798.48 L619.07 798.48 L619.12 792.2 L619.77 792.2 L619.82 789.4 L620.47 789.4 L620.53 792.76 L621.17 792.76 L621.23 789.32 L621.87 789.32 L621.93 779.49 L622.57 779.49 L622.63 777.91 L623.27 777.91 L623.27 818.77 L622.63 818.77 L622.57 819.18 L621.93 819.18 L621.87 819.18 L621.23 819.18 L621.17 818.55 L620.53 818.55 L620.47 821.14 L619.82 821.14 L619.77 823.64 L619.12 823.64 L619.07 824.18 L618.42 824.18 L618.37 820.79 L617.72 820.79 L617.67 818.45 L617.02 818.45 L616.97 818.45 L616.32 818.45 L616.27 818.45 L615.62 818.45 L615.56 818.45 L614.92 818.45 L614.86 818.62 L614.22 818.62 L614.16 818.62 L613.52 818.62 L613.46 818.62 L612.82 818.62 L612.76 818.62 L612.12 818.62 L612.06 817.82 L611.42 817.82 L611.36 817.82 L610.72 817.82 L610.66 817.42 L610.01 817.42 L609.96 817.42 L609.31 817.42 L609.26 817.42 L608.61 817.42 L608.56 818.02 L607.91 818.02 L607.86 819.05 L607.21 819.05 L607.16 819.05 L606.51 819.05 L606.45 817.53 L605.81 817.53 L605.75 817.53 L605.11 817.53 L605.05 817.53 L604.41 817.53 L604.35 817.53 L603.71 817.53 L603.65 818.55 L603.01 818.55 L602.95 818.55 L602.31 818.55 L602.25 817.95 L601.61 817.95 L601.55 818.74 L600.91 818.74 L600.85 820.3 L600.2 820.3 L600.15 821.32 L599.5 821.32 L599.45 825.89 L598.8 825.89 L598.75 829.19 L598.1 829.19 L598.05 828.29 L597.4 828.29 L597.35 824 L596.7 824 L596.64 819.71 L596 819.71 L595.94 815.61 L595.3 815.61 L595.24 809.17 L594.6 809.17 L594.54 803.08 L593.9 803.08 L593.84 797.3 L593.2 797.3 L593.14 791.52 L592.5 791.52 L592.44 786.81 L591.8 786.81 L591.74 785.7 L591.09 785.7 L591.04 783.13 L590.39 783.13 L590.34 779.73 L589.69 779.73 L589.64 774.32 L588.99 774.32 L588.94 769.49 L588.29 769.49 L588.24 765.89 L587.59 765.89 L587.54 764.65 L586.89 764.65 L586.83 763.43 L586.19 763.43 L586.13 763.89 L585.49 763.89 L585.43 767.63 L584.79 767.63 L584.73 767.22 L584.09 767.22 L584.03 760.56 L583.39 760.56 L583.33 756.92 L582.69 756.92 L582.63 759.32 L581.99 759.32 L581.93 761.63 L581.28 761.63 L581.23 764.03 L580.58 764.03 L580.53 768.02 L579.88 768.02 L579.83 775.2 L579.18 775.2 L579.13 782.56 L578.48 782.56 L578.43 791.49 L577.78 791.49 L577.72 801.3 L577.08 801.3 L577.02 811.67 L576.38 811.67 L576.32 822.17 L575.68 822.17 L575.62 832 L574.98 832 L574.92 841.11 L574.28 841.11 L574.22 841.03 L573.58 841.03 L573.52 841.03 L572.88 841.03 L572.82 841.58 L572.18 841.58 L572.12 841.58 L571.47 841.58 L571.42 841.28 L570.77 841.28 L570.72 841.28 L570.07 841.28 L570.02 841.28 L569.37 841.28 L569.32 841.07 L568.67 841.07 L568.62 841.07 L567.97 841.07 L567.91 841.07 L567.27 841.07 L567.21 841.07 L566.57 841.07 L566.51 841.91 L565.87 841.91 L565.81 834.64 L565.17 834.64 L565.11 827.05 L564.47 827.05 L564.41 819.43 L563.77 819.43 L563.71 811.22 L563.07 811.22 L563.01 806.79 L562.36 806.79 L562.31 805.91 L561.66 805.91 L561.61 803.37 L560.96 803.37 L560.91 803.28 L560.26 803.28 L560.21 803.18 L559.56 803.18 L559.51 800.21 L558.86 800.21 L558.81 800.12 L558.16 800.12 L558.1 800.3 L557.46 800.3 L557.4 800.21 L556.76 800.21 L556.7 799.98 L556.06 799.98 L556 799.89 L555.36 799.89 L555.3 800.37 L554.66 800.37 L554.6 800.28 L553.96 800.28 L553.9 804.64 L553.26 804.64 L553.2 805.42 L552.55 805.42 L552.5 814.69 L551.85 814.69 L551.8 826.19 L551.15 826.19 L551.1 830.69 L550.45 830.69 L550.4 835.31 L549.75 835.31 L549.7 836.81 L549.05 836.81 L549 836.81 L548.35 836.81 L548.29 840.28 L547.65 840.28 L547.59 838.42 L546.95 838.42 L546.89 838.42 L546.25 838.42 L546.19 836.39 L545.55 836.39 L545.49 834.82 L544.85 834.82 L544.79 834.49 L544.15 834.49 L544.09 832.43 L543.45 832.43 L543.39 832.62 L542.74 832.62 L542.69 832.72 L542.04 832.72 L541.99 832.91 L541.34 832.91 L541.29 833.1 L540.64 833.1 L540.59 833.24 L539.94 833.24 L539.89 833.43 L539.24 833.43 L539.18 833.6 L538.54 833.6 L538.48 836.27 L537.84 836.27 L537.78 835.64 L537.14 835.64 L537.08 835.77 L536.44 835.77 L536.38 834.54 L535.74 834.54 L535.68 834.67 L535.04 834.67 L534.98 835.65 L534.34 835.65 L534.28 835.98 L533.64 835.98 L533.58 836.68 L532.93 836.68 L532.88 837.38 L532.23 837.38 L532.18 840.68 L531.53 840.68 L531.48 841.74 L530.83 841.74 L530.78 839.33 L530.13 839.33 L530.08 837.23 L529.43 837.23 L529.37 835.85 L528.73 835.85 L528.67 834.12 L528.03 834.12 L527.97 833.13 L527.33 833.13 L527.27 832.13 L526.63 832.13 L526.57 830.48 L525.93 830.48 L525.87 829.82 L525.23 829.82 L525.17 829.82 L524.53 829.82 L524.47 829.73 L523.82 829.73 L523.77 829.73 L523.12 829.73 L523.07 830.39 L522.42 830.39 L522.37 828.29 L521.72 828.29 L521.67 826.18 L521.02 826.18 L520.97 825.32 L520.32 825.32 L520.27 823.72 L519.62 823.72 L519.56 822.13 L518.92 822.13 L518.86 820.12 L518.22 820.12 L518.16 819.38 L517.52 819.38 L517.46 818.72 L516.82 818.72 L516.76 818.41 L516.12 818.41 L516.06 818.31 L515.42 818.31 L515.36 819.25 L514.72 819.25 L514.66 817.45 L514.01 817.45 L513.96 818.33 L513.31 818.33 L513.26 818.33 L512.61 818.33 L512.56 814.82 L511.91 814.82 L511.86 808.8 L511.21 808.8 L511.16 805.88 L510.51 805.88 L510.45 804.19 L509.81 804.19 L509.75 802.44 L509.11 802.44 L509.05 801.3 L508.41 801.3 L508.35 800.89 L507.71 800.89 L507.65 800.86 L507.01 800.86 L506.95 803.68 L506.31 803.68 L506.25 805.87 L505.61 805.87 L505.55 805.73 L504.91 805.73 L504.85 805.73 L504.2 805.73 L504.15 805.73 L503.5 805.73 L503.45 805.42 L502.8 805.42 L502.75 805.06 L502.1 805.06 L502.05 805.06 L501.4 805.06 L501.35 802.52 L500.7 802.52 L500.64 802.62 L500 802.62 L499.94 798.14 L499.3 798.14 L499.24 798.37 L498.6 798.37 L498.54 800.34 L497.9 800.34 L497.84 800.58 L497.2 800.58 L497.14 800.73 L496.5 800.73 L496.44 800.73 L495.8 800.73 L495.74 799.13 L495.09 799.13 L495.04 802.98 L494.39 802.98 L494.34 806.83 L493.69 806.83 L493.64 810.59 L492.99 810.59 L492.94 810.77 L492.29 810.77 L492.24 805.73 L491.59 805.73 L491.54 798.87 L490.89 798.87 L490.83 791.1 L490.19 791.1 L490.13 785.2 L489.49 785.2 L489.43 780.21 L488.79 780.21 L488.73 774.8 L488.09 774.8 L488.03 772.61 L487.39 772.61 L487.33 770.88 L486.69 770.88 L486.63 769.58 L485.99 769.58 L485.93 770.06 L485.28 770.06 L485.23 770.55 L484.58 770.55 L484.53 770.82 L483.88 770.82 L483.83 774.5 L483.18 774.5 L483.13 775.9 L482.48 775.9 L482.43 774.12 L481.78 774.12 L481.72 776.72 L481.08 776.72 L481.02 779.52 L480.38 779.52 L480.32 779.87 L479.68 779.87 L479.62 777.07 L478.98 777.07 L478.92 775.28 L478.28 775.28 L478.22 773.88 L477.58 773.88 L477.52 772.52 L476.88 772.52 L476.82 771.4 L476.18 771.4 L476.12 770.4 L475.47 770.4 L475.42 769.41 L474.77 769.41 L474.72 769.8 L474.07 769.8 L474.02 769.06 L473.37 769.06 L473.32 768.43 L472.67 768.43 L472.62 766.15 L471.97 766.15 L471.91 764.32 L471.27 764.32 L471.21 763.62 L470.57 763.62 L470.51 762.92 L469.87 762.92Z" fill="#2fb26a" fill-opacity="0.5"/>
</g>
<line x1="539.76" y1="703.6" x2="539.76" y2="847.1" stroke="#e8202c" stroke-width="1.9" stroke-linecap="round" stroke-dasharray="5.6 7.35"/>
<g clip-path="url(#clip_l)">
<path d="M470.1 751.68 L470.8 752.45 L471.5 752.79 L472.2 753.94 L472.91 754.19 L473.61 755.16 L474.31 754.66 L475.01 754.86 L475.71 754.61 L476.41 755.53 L477.11 756.16 L477.81 756.21 L478.51 755.76 L479.21 755.74 L479.91 756.33 L480.61 756.37 L481.31 756.89 L482.01 756.96 L482.72 756.66 L483.42 756.9 L484.12 757.53 L484.82 758.59 L485.52 759.07 L486.22 760.41 L486.92 761.88 L487.62 763.83 L488.32 766.88 L489.02 771.07 L489.72 776.7 L490.42 782.73 L491.12 789.16 L491.82 793.2 L492.53 794.86 L493.23 796.16 L493.93 795.12 L494.63 794.55 L495.33 793.11 L496.03 791.44 L496.73 789.7 L497.43 788.04 L498.13 787.03 L498.83 785.77 L499.53 786.73 L500.23 787.54 L500.93 787.95 L501.64 789.05 L502.34 789.62 L503.04 790.14 L503.74 790.85 L504.44 791.37 L505.14 791.89 L505.84 791.76 L506.54 791.62 L507.24 791.55 L507.94 791.03 L508.64 790.43 L509.34 790.54 L510.04 792.51 L510.74 795.81 L511.45 799.53 L512.15 803.03 L512.85 806.39 L513.55 808.72 L514.25 810.6 L514.95 811.34 L515.65 812.24 L516.35 812.44 L517.05 812.58 L517.75 812.98 L518.45 813.19 L519.15 813.79 L519.85 813.79 L520.55 814.79 L521.26 815.55 L521.96 817.52 L522.66 819.19 L523.36 820.56 L524.06 822.02 L524.76 822.78 L525.46 824.48 L526.16 825.02 L526.86 825.78 L527.56 826.33 L528.26 827.05 L528.96 828.36 L529.66 829.75 L530.36 831.29 L531.07 832.97 L531.77 833.9 L532.47 834.86 L533.17 835.18 L533.87 835.12 L534.57 834.85 L535.27 833.98 L535.97 833.59 L536.67 833.1 L537.37 832.49 L538.07 830.47 L538.77 828.72 L539.47 828.17 L540.18 827.99 L540.88 828.23 L541.58 828.61 L542.28 828.54 L542.98 828.94 L543.68 829.6 L544.38 830.55 L545.08 832.28 L545.78 833.69 L546.48 834.87 L547.18 835.26 L547.88 835.43 L548.58 835.46 L549.28 834.9 L549.99 833.63 L550.69 829.63 L551.39 820.8 L552.09 811.31 L552.79 801.82 L553.49 796.19 L554.19 794.05 L554.89 793.37 L555.59 792.83 L556.29 793.13 L556.99 793.42 L557.69 793.38 L558.39 793.6 L559.09 793.4 L559.8 793.43 L560.5 793.76 L561.2 795.1 L561.9 797.34 L562.6 802.67 L563.3 812.54 L564 824.06 L564.7 831.65 L565.4 833.86 L566.1 834.53 L566.8 834.99 L567.5 835.05 L568.2 835.14 L568.91 834.86 L569.61 834.78 L570.31 834.75 L571.01 834.7 L571.71 835.02 L572.41 834.5 L573.11 834.69 L573.81 831.53 L574.51 825.98 L575.21 812.54 L575.91 796.22 L576.61 782.07 L577.31 771.48 L578.01 764.66 L578.72 758.03 L579.42 753.38 L580.12 749.18 L580.82 746.34 L581.52 744.32 L582.22 742.57 L582.92 741.43 L583.62 741.12 L584.32 741.66 L585.02 743.03 L585.72 744.56 L586.42 747.18 L587.12 749.55 L587.82 751.43 L588.53 752.55 L589.23 752.73 L589.93 753.89 L590.63 756.45 L591.33 761.24 L592.03 766.88 L592.73 772.2 L593.43 777.86 L594.13 783.41 L594.83 789.88 L595.53 795.97 L596.23 801.79 L596.93 806.31 L597.64 810.03 L598.34 812.1 L599.04 813.7 L599.74 812.58 L600.44 811.71 L601.14 811.54 L601.84 811.26 L602.54 810.66 L603.24 810.39 L603.94 810.07 L604.64 809.98 L605.34 809.73 L606.04 808.88 L606.74 807.83 L607.45 806.49 L608.15 805.53 L608.85 804.99 L609.55 805.53 L610.25 806.48 L610.95 806.54 L611.65 806.05 L612.35 806.14 L613.05 806.7 L613.75 807.08 L614.45 807.48 L615.15 807.92 L615.85 808.73 L616.55 809.24 L617.26 809.5 L617.96 809.99 L618.66 810.32 L619.36 811.07 L620.06 811.11 L620.76 810.2 L621.46 809.63 L622.16 809.22 L622.63 808.79" fill="none" stroke="#10a055" stroke-width="1.9" stroke-linejoin="round" stroke-linecap="round"/>
</g>
<text transform="translate(539.56 694.4) scale(1 1.18)" font-size="5.7" fill="#f06a72" text-anchor="middle">P/T</text>
<text transform="translate(511.75 853.6) rotate(-90) scale(1 1.2)" font-size="5.3" fill="#5e5238" text-anchor="start">GEE</text>
<text transform="translate(608 853.6) rotate(-90) scale(1 1.2)" font-size="5.3" fill="#5e5238" text-anchor="start">CPE</text>
<rect x="469" y="854.7" width="17.79" height="6.3" fill="#f09e8a"/>
<rect x="486.59" y="854.7" width="9.49" height="6.3" fill="#f0a08c"/>
<rect x="495.88" y="854.7" width="17.11" height="6.3" fill="#f3aa97"/>
<rect x="512.79" y="854.7" width="19.24" height="6.3" fill="#f6bcad"/>
<rect x="531.82" y="854.7" width="8.14" height="6.3" fill="#f8c9bc"/>
<rect x="539.76" y="854.7" width="2.68" height="6.3" fill="#98529f"/>
<rect x="542.25" y="854.7" width="14.38" height="6.3" fill="#b06bb1"/>
<rect x="556.43" y="854.7" width="18.63" height="6.3" fill="#c08cc3"/>
<rect x="574.86" y="854.7" width="17.93" height="6.3" fill="#c79bca"/>
<rect x="592.59" y="854.7" width="30.61" height="6.3" fill="#c7a8d4"/>
<text x="476.29" y="860.5" font-size="7.2" fill="#3a1c24" fill-opacity="0.72" text-anchor="middle">Ro</text>
<line x1="486.59" y1="854.9" x2="486.59" y2="861" stroke="#3a2030" stroke-opacity="0.88" stroke-width="0.85"/>
<text x="489.73" y="860.5" font-size="7.2" fill="#3a1c24" fill-opacity="0.72" text-anchor="middle">W</text>
<line x1="495.88" y1="854.9" x2="495.88" y2="861" stroke="#3a2030" stroke-opacity="0.88" stroke-width="0.85"/>
<text x="502.83" y="860.5" font-size="7.2" fill="#3a1c24" fill-opacity="0.72" text-anchor="middle">Ca</text>
<line x1="512.79" y1="854.9" x2="512.79" y2="861" stroke="#3a2030" stroke-opacity="0.88" stroke-width="0.85"/>
<text x="520.81" y="860.5" font-size="7.2" fill="#3a1c24" fill-opacity="0.72" text-anchor="middle">Wu</text>
<line x1="531.82" y1="854.9" x2="531.82" y2="861" stroke="#3a2030" stroke-opacity="0.88" stroke-width="0.85"/>
<text x="534.29" y="860.5" font-size="7.2" fill="#3a1c24" fill-opacity="0.72" text-anchor="middle">C</text>
<line x1="539.76" y1="854.9" x2="539.76" y2="861" stroke="#3a2030" stroke-opacity="0.88" stroke-width="0.85"/>
<line x1="542.25" y1="854.9" x2="542.25" y2="861" stroke="#3a2030" stroke-opacity="0.88" stroke-width="0.85"/>
<text x="547.84" y="860.5" font-size="7.2" fill="#3a1c24" fill-opacity="0.72" text-anchor="middle">Ol</text>
<line x1="556.43" y1="854.9" x2="556.43" y2="861" stroke="#3a2030" stroke-opacity="0.88" stroke-width="0.85"/>
<text x="564.14" y="860.5" font-size="7.2" fill="#3a1c24" fill-opacity="0.72" text-anchor="middle">An</text>
<line x1="574.86" y1="854.9" x2="574.86" y2="861" stroke="#3a2030" stroke-opacity="0.88" stroke-width="0.85"/>
<text x="582.22" y="860.5" font-size="7.2" fill="#3a1c24" fill-opacity="0.72" text-anchor="middle">La</text>
<line x1="592.59" y1="854.9" x2="592.59" y2="861" stroke="#3a2030" stroke-opacity="0.88" stroke-width="0.85"/>
<text x="606.29" y="860.5" font-size="7.2" fill="#3a1c24" fill-opacity="0.72" text-anchor="middle">Car</text>
<line x1="470" y1="854.6" x2="623" y2="854.6" stroke="#5a5560" stroke-opacity="0.7" stroke-width="0.6"/>
<line x1="469" y1="861" x2="623" y2="861" stroke="#5a5560" stroke-opacity="0.6" stroke-width="0.6"/>
<line x1="469.5" y1="700.7" x2="469.5" y2="854.8" stroke="#222" stroke-width="1.05"/>
<line x1="464.4" y1="854.3" x2="470" y2="854.3" stroke="#1a1a1a" stroke-width="0.9"/>
<text x="458.3" y="857.3" font-size="8.3" fill="#3a3a3a" text-anchor="end">0</text>
<line x1="464.4" y1="823.68" x2="470" y2="823.68" stroke="#1a1a1a" stroke-width="0.9"/>
<text x="458.3" y="826.68" font-size="8.3" fill="#3a3a3a" text-anchor="end">5</text>
<line x1="464.4" y1="793.06" x2="470" y2="793.06" stroke="#1a1a1a" stroke-width="0.9"/>
<text x="458.3" y="796.06" font-size="8.3" fill="#3a3a3a" text-anchor="end">10</text>
<line x1="464.4" y1="762.44" x2="470" y2="762.44" stroke="#1a1a1a" stroke-width="0.9"/>
<text x="458.3" y="765.44" font-size="8.3" fill="#3a3a3a" text-anchor="end">15</text>
<line x1="464.4" y1="731.82" x2="470" y2="731.82" stroke="#1a1a1a" stroke-width="0.9"/>
<text x="458.3" y="734.82" font-size="8.3" fill="#3a3a3a" text-anchor="end">20</text>
<line x1="464.4" y1="701.2" x2="470" y2="701.2" stroke="#1a1a1a" stroke-width="0.9"/>
<text x="458.3" y="704.2" font-size="8.3" fill="#3a3a3a" text-anchor="end">25</text>
<line x1="475.5" y1="861" x2="475.5" y2="866" stroke="#1a1a1a" stroke-width="1"/>
<text x="475.3" y="879.5" font-size="8.3" fill="#3a3a3a" text-anchor="middle">−270</text>
<line x1="510.5" y1="861" x2="510.5" y2="866" stroke="#1a1a1a" stroke-width="1"/>
<text x="510.3" y="879.5" font-size="8.3" fill="#3a3a3a" text-anchor="middle">−260</text>
<line x1="546.5" y1="861" x2="546.5" y2="866" stroke="#1a1a1a" stroke-width="1"/>
<text x="546.3" y="879.5" font-size="8.3" fill="#3a3a3a" text-anchor="middle">−250</text>
<line x1="581.5" y1="861" x2="581.5" y2="866" stroke="#1a1a1a" stroke-width="1"/>
<text x="581.3" y="879.5" font-size="8.3" fill="#3a3a3a" text-anchor="middle">−240</text>
<line x1="617.5" y1="861" x2="617.5" y2="866" stroke="#1a1a1a" stroke-width="1"/>
<text x="617.3" y="879.5" font-size="8.3" fill="#3a3a3a" text-anchor="middle">−230</text>
<text transform="translate(436.3 777.75) rotate(-90)" font-size="8.6" fill="#3a3a3a" text-anchor="middle">Number of lineages</text>
<text transform="translate(434 688.4) scale(0.88 1)" font-size="8.8" font-weight="bold" fill="#111">l</text>
</g>
<g transform="translate(600 0) scale(0.125)"><path d="M420,220 C380,203 300,189 240,192 C208,194 190,204 194,216 C198,230 260,240 320,243 C360,246 400,248 420,249 Z" fill="#000" /><path d="M 452,220 C 492,203 572,189 632,192 C 664,194 682,204 678,216 C 674,230 612,240 552,243 C 512,246 472,248 452,249 Z" fill="#000" /><path d="M424,250 C380,250 300,246 238,250 C213,252 210,266 224,282 C250,314 330,356 386,353 C412,347 421,320 428,290 Z" fill="#000" /><path d="M 448,250 C 492,250 572,246 634,250 C 659,252 662,266 648,282 C 622,314 542,356 486,353 C 460,347 451,320 444,290 Z" fill="#000" /><path d="M426,192 L446,192 L451,240 L449,330 L445,400 L436,418 L428,400 L423,330 L421,240 Z" fill="#000" /><path d="M430,192 L366,146" fill="none" stroke="#000" stroke-width="3" stroke-linecap="round" stroke-linejoin="round" /><path d="M 442,192 L 506,146" fill="none" stroke="#000" stroke-width="3" stroke-linecap="round" stroke-linejoin="round" /><path d="M420,216 L372,190" fill="none" stroke="#000" stroke-width="4" stroke-linecap="round" stroke-linejoin="round" /><path d="M 452,216 L 500,190" fill="none" stroke="#000" stroke-width="4" stroke-linecap="round" stroke-linejoin="round" /><path d="M426,290 L421,380 L416,460 L408,498" fill="none" stroke="#000" stroke-width="5" stroke-linecap="round" stroke-linejoin="round" /><path d="M 446,290 L 451,380 L 456,460 L 464,498" fill="none" stroke="#000" stroke-width="5" stroke-linecap="round" stroke-linejoin="round" /></g>
<g transform="translate(600 0) scale(0.125)"><path d="M266,690 C262,665 290,655 322,652 C335,641 385,640 425,647 C465,652 502,662 519,682 C523,692 515,702 505,711 C470,735 400,743 342,739 C322,746 290,741 276,726 C263,716 269,702 266,690 Z" fill="#000" /><path d="M450,652 L420,622 L400,576" fill="none" stroke="#000" stroke-width="5" stroke-linecap="round" stroke-linejoin="round" /><path d="M485,657 L515,610" fill="none" stroke="#000" stroke-width="4" stroke-linecap="round" stroke-linejoin="round" /><path d="M335,656 L270,645" fill="none" stroke="#000" stroke-width="8" stroke-linecap="round" stroke-linejoin="round" /><path d="M275,646 L200,622" fill="none" stroke="#000" stroke-width="5" stroke-linecap="round" stroke-linejoin="round" /><path d="M352,738 L295,772" fill="none" stroke="#000" stroke-width="9" stroke-linecap="round" stroke-linejoin="round" /><path d="M300,769 L230,826" fill="none" stroke="#000" stroke-width="5" stroke-linecap="round" stroke-linejoin="round" /><path d="M455,730 L425,770 L418,806" fill="none" stroke="#000" stroke-width="5" stroke-linecap="round" stroke-linejoin="round" /><path d="M490,725 L516,766" fill="none" stroke="#000" stroke-width="4" stroke-linecap="round" stroke-linejoin="round" /><path d="M515,670 C570,660 640,620 682,555" fill="none" stroke="#333" stroke-width="1.6" stroke-linecap="round" stroke-linejoin="round" /><path d="M515,700 C580,730 640,780 666,850" fill="none" stroke="#333" stroke-width="1.6" stroke-linecap="round" stroke-linejoin="round" /></g>
<g transform="translate(600 100) scale(0.125)"><path d="M428,240 L450,240 L458,290 L472,320 L482,400 L484,480 L470,497 L452,470 L440,497 L420,497 L403,490 L398,400 L408,320 L422,290 Z" fill="#000" /><path d="M432,242 C418,180 392,120 362,75" fill="none" stroke="#000" stroke-width="2.2" stroke-linecap="round" stroke-linejoin="round" /><path d="M 448,242 C 462,180 488,120 518,75" fill="none" stroke="#000" stroke-width="2.2" stroke-linecap="round" stroke-linejoin="round" /><path d="M425,270 L385,262 L370,225 L355,205" fill="none" stroke="#000" stroke-width="5" stroke-linecap="round" stroke-linejoin="round" /><path d="M 455,270 L 495,262 L 510,225 L 525,205" fill="none" stroke="#000" stroke-width="5" stroke-linecap="round" stroke-linejoin="round" /><path d="M408,350 L375,350 L340,348" fill="none" stroke="#000" stroke-width="4" stroke-linecap="round" stroke-linejoin="round" /><path d="M 472,350 L 505,350 L 540,348" fill="none" stroke="#000" stroke-width="4" stroke-linecap="round" stroke-linejoin="round" /><path d="M404,410 L380,425 L360,452" fill="none" stroke="#000" stroke-width="4" stroke-linecap="round" stroke-linejoin="round" /><path d="M 476,410 L 500,425 L 520,452" fill="none" stroke="#000" stroke-width="4" stroke-linecap="round" stroke-linejoin="round" /><path d="M432,495 L426,575" fill="none" stroke="#222" stroke-width="1.6" stroke-linecap="round" stroke-linejoin="round" /><path d="M448,495 L460,575" fill="none" stroke="#222" stroke-width="1.6" stroke-linecap="round" stroke-linejoin="round" /></g>
<g transform="translate(600 225) scale(0.125)"><path d="M422,297 C360,280 260,273 210,290 C188,300 194,326 230,346 C255,360 262,366 268,386 C290,412 340,417 400,407 L428,402 Z" fill="#000" /><path d="M 452,297 C 514,280 614,273 664,290 C 686,300 680,326 644,346 C 619,360 612,366 606,386 C 584,412 534,417 474,407 L 446,402 Z" fill="#000" /><path d="M418,282 L456,282 L456,400 L446,440 L439,532 L434,440 L420,400 Z" fill="#000" /><ellipse cx="437" cy="276" rx="36" ry="15" fill="#000"/><path d="M430,265 C395,240 380,200 362,160" fill="none" stroke="#000" stroke-width="5" stroke-linecap="round" stroke-linejoin="round" /><path d="M 444,265 C 479,240 494,200 512,160" fill="none" stroke="#000" stroke-width="5" stroke-linecap="round" stroke-linejoin="round" /><path d="M410,410 L405,455 L376,498" fill="none" stroke="#000" stroke-width="5" stroke-linecap="round" stroke-linejoin="round" /><path d="M 464,410 L 469,455 L 498,498" fill="none" stroke="#000" stroke-width="5" stroke-linecap="round" stroke-linejoin="round" /></g>
<g transform="translate(600 225) scale(0.125)"><path d="M428,690 C380,660 280,612 220,613 C192,616 192,640 215,650 C280,682 380,700 428,702 Z" fill="#000" /><path d="M 446,690 C 494,660 594,612 654,613 C 682,616 682,640 659,650 C 594,682 494,700 446,702 Z" fill="#000" /><path d="M428,700 C380,695 280,700 235,715 C205,730 215,752 250,757 C320,757 390,727 430,714 Z" fill="#000" /><path d="M 446,700 C 494,695 594,700 639,715 C 669,730 659,752 624,757 C 554,757 484,727 444,714 Z" fill="#000" /><path d="M428,650 L447,650 L449,700 L445,790 L447,815 L437,832 L427,815 L430,790 L425,700 Z" fill="#000" /><path d="M432,650 C420,620 410,600 395,582" fill="none" stroke="#333" stroke-width="2.4" stroke-linecap="round" stroke-linejoin="round" /><path d="M 442,650 C 454,620 464,600 479,582" fill="none" stroke="#333" stroke-width="2.4" stroke-linecap="round" stroke-linejoin="round" /><path d="M425,720 L396,770 L382,832" fill="none" stroke="#333" stroke-width="2.4" stroke-linecap="round" stroke-linejoin="round" /><path d="M 449,720 L 478,770 L 492,832" fill="none" stroke="#333" stroke-width="2.4" stroke-linecap="round" stroke-linejoin="round" /><path d="M428,730 L412,780 L405,812" fill="none" stroke="#444" stroke-width="2.2" stroke-linecap="round" stroke-linejoin="round" /><path d="M 446,730 L 462,780 L 469,812" fill="none" stroke="#444" stroke-width="2.2" stroke-linecap="round" stroke-linejoin="round" /></g>
<g transform="translate(600 320) scale(0.125)"><path d="M447,137 C470,137 486,150 490,175 L500,205 C512,215 522,232 524,250 C534,290 534,350 528,402 C520,450 508,500 490,550 L472,592 L460,613 L446,590 C425,550 400,500 388,460 C372,420 364,360 366,304 C368,270 374,248 382,236 C390,225 398,215 402,205 L410,173 C414,150 428,137 447,137 Z" fill="#000" /><path d="M422,150 C392,125 362,138 342,156" fill="none" stroke="#000" stroke-width="5" stroke-linecap="round" stroke-linejoin="round" /><path d="M470,146 C500,150 526,170 541,196" fill="none" stroke="#000" stroke-width="5" stroke-linecap="round" stroke-linejoin="round" /><path d="M386,216 L370,196 L350,172" fill="none" stroke="#000" stroke-width="3.5" stroke-linecap="round" stroke-linejoin="round" /><path d="M376,310 L355,345 L326,350" fill="none" stroke="#000" stroke-width="6" stroke-linecap="round" stroke-linejoin="round" /><path d="M382,376 L340,395 L306,403" fill="none" stroke="#000" stroke-width="6" stroke-linecap="round" stroke-linejoin="round" /><path d="M520,236 L545,230 L566,238" fill="none" stroke="#000" stroke-width="4" stroke-linecap="round" stroke-linejoin="round" /><path d="M525,285 L555,290 L579,295" fill="none" stroke="#000" stroke-width="4" stroke-linecap="round" stroke-linejoin="round" /><path d="M500,420 L515,460 L539,473" fill="none" stroke="#000" stroke-width="4.5" stroke-linecap="round" stroke-linejoin="round" /></g>
<g transform="translate(600 452) scale(0.125)"><path d="M425,235 L451,235 L459,290 C471,330 476,380 471,430 C463,470 451,500 438,520 C425,500 413,470 405,430 C400,380 407,330 417,290 Z" fill="#222" /><path d="M428,240 L400,215 L385,190" fill="none" stroke="#222" stroke-width="5" stroke-linecap="round" stroke-linejoin="round" /><path d="M 448,240 L 476,215 L 491,190" fill="none" stroke="#222" stroke-width="5" stroke-linecap="round" stroke-linejoin="round" /><path d="M420,287 L395,257 L386,232" fill="none" stroke="#222" stroke-width="6" stroke-linecap="round" stroke-linejoin="round" /><path d="M 456,287 L 481,257 L 490,232" fill="none" stroke="#222" stroke-width="6" stroke-linecap="round" stroke-linejoin="round" /><path d="M420,288 C350,290 270,272 208,255 C205,263 260,292 340,306 C380,313 410,313 422,311 Z" fill="#222" /><path d="M 456,288 C 526,290 606,272 668,255 C 671,263 616,292 536,306 C 496,313 466,313 454,311 Z" fill="#222" /><path d="M410,320 L372,326 L340,338" fill="none" stroke="#222" stroke-width="7" stroke-linecap="round" stroke-linejoin="round" /><path d="M 466,320 L 504,326 L 536,338" fill="none" stroke="#222" stroke-width="7" stroke-linecap="round" stroke-linejoin="round" /><path d="M410,336 C380,372 320,402 265,415" fill="none" stroke="#222" stroke-width="9" stroke-linecap="round" stroke-linejoin="round" /><path d="M 466,336 C 496,372 556,402 611,415" fill="none" stroke="#222" stroke-width="9" stroke-linecap="round" stroke-linejoin="round" /><path d="M408,366 L386,400 L376,440" fill="none" stroke="#222" stroke-width="8" stroke-linecap="round" stroke-linejoin="round" /><path d="M 468,366 L 490,400 L 500,440" fill="none" stroke="#222" stroke-width="8" stroke-linecap="round" stroke-linejoin="round" /></g>
<g transform="translate(600 452) scale(0.125)"><path d="M405,718 C350,698 260,718 215,768 C195,800 215,850 250,878 C290,900 350,888 385,840 C400,810 410,765 405,718 Z" fill="#f3f3f3" stroke="#666" stroke-width="1.6"/><path d="M 471,718 C 526,698 616,718 661,768 C 681,800 661,850 626,878 C 586,900 526,888 491,840 C 476,810 466,765 471,718 Z" fill="#f3f3f3" stroke="#666" stroke-width="1.6"/><path d="M400,735 C340,735 270,760 222,800" fill="none" stroke="#777" stroke-width="1.4" stroke-linecap="round" stroke-linejoin="round" /><path d="M 476,735 C 536,735 606,760 654,800" fill="none" stroke="#777" stroke-width="1.4" stroke-linecap="round" stroke-linejoin="round" /><path d="M400,750 C340,770 280,810 240,870" fill="none" stroke="#777" stroke-width="1.4" stroke-linecap="round" stroke-linejoin="round" /><path d="M 476,750 C 536,770 596,810 636,870" fill="none" stroke="#777" stroke-width="1.4" stroke-linecap="round" stroke-linejoin="round" /><path d="M398,770 C360,810 320,860 290,900" fill="none" stroke="#777" stroke-width="1.4" stroke-linecap="round" stroke-linejoin="round" /><path d="M 478,770 C 516,810 556,860 586,900" fill="none" stroke="#777" stroke-width="1.4" stroke-linecap="round" stroke-linejoin="round" /><path d="M395,800 C380,840 360,870 340,895" fill="none" stroke="#777" stroke-width="1.4" stroke-linecap="round" stroke-linejoin="round" /><path d="M 481,800 C 496,840 516,870 536,895" fill="none" stroke="#777" stroke-width="1.4" stroke-linecap="round" stroke-linejoin="round" /><path d="M300,735 C280,780 260,830 250,880" fill="none" stroke="#777" stroke-width="1.4" stroke-linecap="round" stroke-linejoin="round" /><path d="M 576,735 C 596,780 616,830 626,880" fill="none" stroke="#777" stroke-width="1.4" stroke-linecap="round" stroke-linejoin="round" /><path d="M350,720 C330,770 300,840 270,900" fill="none" stroke="#777" stroke-width="1.4" stroke-linecap="round" stroke-linejoin="round" /><path d="M 526,720 C 546,770 576,840 606,900" fill="none" stroke="#777" stroke-width="1.4" stroke-linecap="round" stroke-linejoin="round" /><path d="M240,760 C280,790 330,820 385,840" fill="none" stroke="#777" stroke-width="1.4" stroke-linecap="round" stroke-linejoin="round" /><path d="M 636,760 C 596,790 546,820 491,840" fill="none" stroke="#777" stroke-width="1.4" stroke-linecap="round" stroke-linejoin="round" /><path d="M220,820 C270,830 320,850 370,870" fill="none" stroke="#777" stroke-width="1.4" stroke-linecap="round" stroke-linejoin="round" /><path d="M 656,820 C 606,830 556,850 506,870" fill="none" stroke="#777" stroke-width="1.4" stroke-linecap="round" stroke-linejoin="round" /><path d="M400,728 C330,745 260,790 215,840" fill="none" stroke="#777" stroke-width="1.4" stroke-linecap="round" stroke-linejoin="round" /><path d="M 476,728 C 546,745 616,790 661,840" fill="none" stroke="#777" stroke-width="1.4" stroke-linecap="round" stroke-linejoin="round" /><path d="M396,760 C350,790 300,840 262,888" fill="none" stroke="#777" stroke-width="1.4" stroke-linecap="round" stroke-linejoin="round" /><path d="M 480,760 C 526,790 576,840 614,888" fill="none" stroke="#777" stroke-width="1.4" stroke-linecap="round" stroke-linejoin="round" /><path d="M228,780 C270,800 320,830 380,860" fill="none" stroke="#777" stroke-width="1.4" stroke-linecap="round" stroke-linejoin="round" /><path d="M 648,780 C 606,800 556,830 496,860" fill="none" stroke="#777" stroke-width="1.4" stroke-linecap="round" stroke-linejoin="round" /><path d="M320,715 C300,760 285,820 280,890" fill="none" stroke="#777" stroke-width="1.4" stroke-linecap="round" stroke-linejoin="round" /><path d="M 556,715 C 576,760 591,820 596,890" fill="none" stroke="#777" stroke-width="1.4" stroke-linecap="round" stroke-linejoin="round" /><path d="M410,700 L468,700 L476,760 L476,860 L468,905 L440,936 L412,905 L404,860 L404,760 Z" fill="#000" /><ellipse cx="438" cy="688" rx="27" ry="24" fill="#000"/><path d="M420,675 C405,660 390,665 380,680" fill="none" stroke="#000" stroke-width="3" stroke-linecap="round" stroke-linejoin="round" /><path d="M 456,675 C 471,660 486,665 496,680" fill="none" stroke="#000" stroke-width="3" stroke-linecap="round" stroke-linejoin="round" /><path d="M405,740 L388,770 L392,800" fill="none" stroke="#000" stroke-width="4" stroke-linecap="round" stroke-linejoin="round" /><path d="M 471,740 L 488,770 L 484,800" fill="none" stroke="#000" stroke-width="4" stroke-linecap="round" stroke-linejoin="round" /><path d="M408,700 L385,715" fill="none" stroke="#000" stroke-width="3" stroke-linecap="round" stroke-linejoin="round" /><path d="M 468,700 L 491,715" fill="none" stroke="#000" stroke-width="3" stroke-linecap="round" stroke-linejoin="round" /></g>
<g transform="translate(600 550) scale(0.125)"><path d="M225,345 C225,320 250,312 290,315 C350,325 450,327 540,325 C600,315 650,335 660,375 C662,410 630,432 590,434 C560,434 540,427 530,420 C510,442 480,457 450,457 C430,457 410,442 400,432 C380,442 350,447 320,437 C290,432 260,420 245,400 C230,380 225,360 225,345 Z" fill="#000" /><ellipse cx="590" cy="378" rx="62" ry="46" fill="#fff" stroke="#000" stroke-width="5"/><path d="M530,372 C560,350 610,340 645,350" fill="none" stroke="#000" stroke-width="4" stroke-linecap="round" stroke-linejoin="round" /><path d="M528,385 C570,375 620,375 652,380" fill="none" stroke="#000" stroke-width="4" stroke-linecap="round" stroke-linejoin="round" /><path d="M535,400 C570,400 610,405 640,412" fill="none" stroke="#000" stroke-width="4" stroke-linecap="round" stroke-linejoin="round" /><path d="M545,355 C560,380 560,400 550,420" fill="none" stroke="#000" stroke-width="4" stroke-linecap="round" stroke-linejoin="round" /><path d="M580,340 C600,365 605,400 595,424" fill="none" stroke="#000" stroke-width="4" stroke-linecap="round" stroke-linejoin="round" /><path d="M615,340 C635,365 640,395 625,420" fill="none" stroke="#000" stroke-width="4" stroke-linecap="round" stroke-linejoin="round" /><path d="M540,410 C570,395 600,390 640,395" fill="none" stroke="#000" stroke-width="4" stroke-linecap="round" stroke-linejoin="round" /><path d="M520,360 L575,362" fill="none" stroke="#000" stroke-width="4" stroke-linecap="round" stroke-linejoin="round" /><path d="M525,395 L560,392" fill="none" stroke="#000" stroke-width="4" stroke-linecap="round" stroke-linejoin="round" /><path d="M292,425 C262,440 246,470 249,510 L241,545 L229,566" fill="none" stroke="#000" stroke-width="10" stroke-linecap="round" stroke-linejoin="round" /><path d="M336,440 L370,500 L410,565" fill="none" stroke="#000" stroke-width="8" stroke-linecap="round" stroke-linejoin="round" /><path d="M382,440 L430,490 L490,540" fill="none" stroke="#000" stroke-width="9" stroke-linecap="round" stroke-linejoin="round" /></g>
<g transform="translate(600 680) scale(0.125)"><path d="M350,300 L382,330 L345,380 L262,432 L212,442 L193,416 L230,370 L300,322 Z" fill="#d2d2d2" /><path d="M400,300 L472,288 L489,320 L470,380 L432,422 L395,412 L384,370 Z" fill="#cacaca" /><path d="M345,305 L205,425" fill="none" stroke="#555" stroke-width="2.2" stroke-linecap="round" stroke-linejoin="round" /><path d="M365,320 L225,438" fill="none" stroke="#555" stroke-width="2.2" stroke-linecap="round" stroke-linejoin="round" /><path d="M378,335 L260,430" fill="none" stroke="#555" stroke-width="2.2" stroke-linecap="round" stroke-linejoin="round" /><path d="M340,300 L300,330" fill="none" stroke="#555" stroke-width="2.2" stroke-linecap="round" stroke-linejoin="round" /><path d="M410,305 L395,405" fill="none" stroke="#555" stroke-width="2.2" stroke-linecap="round" stroke-linejoin="round" /><path d="M440,298 L420,418" fill="none" stroke="#555" stroke-width="2.2" stroke-linecap="round" stroke-linejoin="round" /><path d="M470,292 L450,400" fill="none" stroke="#555" stroke-width="2.2" stroke-linecap="round" stroke-linejoin="round" /><path d="M290,285 C300,260 330,245 370,235 C400,230 440,235 480,240 C540,235 600,225 684,213 L684,226 C600,246 540,260 490,270 C450,286 400,302 360,302 C330,306 300,306 290,285 Z" fill="#111" /><path d="M350,300 L370,350 L355,375" fill="none" stroke="#222" stroke-width="4" stroke-linecap="round" stroke-linejoin="round" /><path d="M380,298 L400,340" fill="none" stroke="#222" stroke-width="4" stroke-linecap="round" stroke-linejoin="round" /></g>
<g transform="translate(600 680) scale(0.125)"><path d="M416,638 C370,626 300,628 250,643 C215,653 188,672 193,687 C200,703 250,710 300,708 C350,706 400,702 422,696 Z" fill="#000" /><path d="M 460,638 C 506,626 576,628 626,643 C 661,653 688,672 683,687 C 676,703 626,710 576,708 C 526,706 476,702 454,696 Z" fill="#000" /><path d="M422,698 C380,706 300,707 250,717 C220,725 204,737 211,749 C222,766 280,766 330,758 C370,750 410,732 430,722 Z" fill="#000" /><path d="M 454,698 C 496,706 576,707 626,717 C 656,725 672,737 665,749 C 654,766 596,766 546,758 C 506,750 466,732 446,722 Z" fill="#000" /><path d="M408,622 L468,622 L472,650 L469,700 L459,735 L450,782 L438,818 L426,782 L417,735 L407,700 L404,650 Z" fill="#000" /><path d="M438,622 L438,556" fill="none" stroke="#444" stroke-width="6" stroke-linecap="round" stroke-linejoin="round" /><path d="M426,622 L402,556" fill="none" stroke="#333" stroke-width="2.5" stroke-linecap="round" stroke-linejoin="round" /><path d="M 450,622 L 474,556" fill="none" stroke="#333" stroke-width="2.5" stroke-linecap="round" stroke-linejoin="round" /><path d="M410,628 L392,604" fill="none" stroke="#000" stroke-width="4" stroke-linecap="round" stroke-linejoin="round" /><path d="M 466,628 L 484,604" fill="none" stroke="#000" stroke-width="4" stroke-linecap="round" stroke-linejoin="round" /><path d="M434,810 L348,946" fill="none" stroke="#333" stroke-width="1.8" stroke-linecap="round" stroke-linejoin="round" /><path d="M 442,810 L 528,946" fill="none" stroke="#333" stroke-width="1.8" stroke-linecap="round" stroke-linejoin="round" /></g>
<g transform="translate(600 769) scale(0.125)"><path d="M350,470 C400,400 460,330 510,320 C536,322 532,360 516,400 C500,440 470,490 440,515 Z" fill="#1a1a1a" /><path d="M288,462 C296,448 312,452 340,460 L360,462 L450,500 C500,486 550,480 580,484 L590,496 C550,506 500,516 450,526 C400,532 350,516 320,496 C300,486 288,476 288,462 Z" fill="#1a1a1a" /><path d="M585,490 C630,470 672,400 655,325" fill="none" stroke="#1a1a1a" stroke-width="3" stroke-linecap="round" stroke-linejoin="round" /><path d="M300,470 C270,470 230,466 206,452" fill="none" stroke="#1a1a1a" stroke-width="5" stroke-linecap="round" stroke-linejoin="round" /><path d="M310,486 C270,500 240,530 206,550" fill="none" stroke="#1a1a1a" stroke-width="6" stroke-linecap="round" stroke-linejoin="round" /><path d="M340,506 L325,520 L300,530" fill="none" stroke="#1a1a1a" stroke-width="6" stroke-linecap="round" stroke-linejoin="round" /><path d="M352,516 L336,540 L326,560" fill="none" stroke="#1a1a1a" stroke-width="7" stroke-linecap="round" stroke-linejoin="round" /><path d="M430,525 L440,545 L452,560" fill="none" stroke="#1a1a1a" stroke-width="7" stroke-linecap="round" stroke-linejoin="round" /><path d="M294,458 L290,440" fill="none" stroke="#1a1a1a" stroke-width="3" stroke-linecap="round" stroke-linejoin="round" /></g>
<text x="653.8" y="12.6" font-size="8.5" fill="#3a3a3a" text-anchor="middle">Polyneoptera</text>
<text x="654.3" y="239.9" font-size="8.5" fill="#3a3a3a" text-anchor="middle">Holometabola</text>
<text x="654.3" y="467.2" font-size="8.5" fill="#3a3a3a" text-anchor="middle">Acercaria</text>
<text x="654.0" y="694.2" font-size="8.5" fill="#3a3a3a" text-anchor="middle">Palaeoptera</text>
</svg>
</body></html>
